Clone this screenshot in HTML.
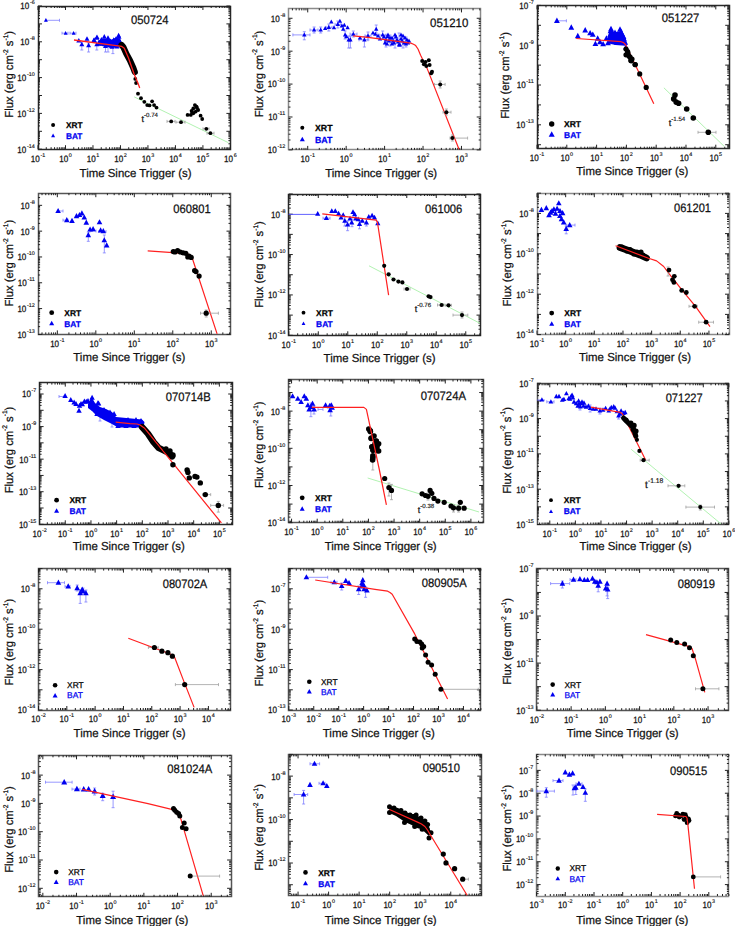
<!DOCTYPE html><html><head><meta charset="utf-8"><style>html,body{margin:0;padding:0;background:#fff}svg{display:block}text{font-family:"Liberation Sans",sans-serif;text-rendering:geometricPrecision}</style></head><body>
<svg width="735" height="926" viewBox="0 0 735 926">
<rect width="735" height="926" fill="#fff"/>
<rect x="38.5" y="6.5" width="192" height="143" fill="none" stroke="#2a2a2a" stroke-width="1.5"/>
<path d="M38 149.2v-4 M38 6v4 M46.27 149.2v-2 M46.27 6v2 M51.11 149.2v-2 M51.11 6v2 M54.55 149.2v-2 M54.55 6v2 M57.21 149.2v-2 M57.21 6v2 M59.39 149.2v-2 M59.39 6v2 M61.23 149.2v-2 M61.23 6v2 M62.82 149.2v-2 M62.82 6v2 M64.23 149.2v-2 M64.23 6v2 M65.49 149.2v-4 M65.49 6v4 M73.76 149.2v-2 M73.76 6v2 M78.6 149.2v-2 M78.6 6v2 M82.03 149.2v-2 M82.03 6v2 M84.7 149.2v-2 M84.7 6v2 M86.87 149.2v-2 M86.87 6v2 M88.71 149.2v-2 M88.71 6v2 M90.31 149.2v-2 M90.31 6v2 M91.71 149.2v-2 M91.71 6v2 M92.97 149.2v-4 M92.97 6v4 M101.25 149.2v-2 M101.25 6v2 M106.09 149.2v-2 M106.09 6v2 M109.52 149.2v-2 M109.52 6v2 M112.18 149.2v-2 M112.18 6v2 M114.36 149.2v-2 M114.36 6v2 M116.2 149.2v-2 M116.2 6v2 M117.79 149.2v-2 M117.79 6v2 M119.2 149.2v-2 M119.2 6v2 M120.46 149.2v-4 M120.46 6v4 M128.73 149.2v-2 M128.73 6v2 M133.57 149.2v-2 M133.57 6v2 M137.01 149.2v-2 M137.01 6v2 M139.67 149.2v-2 M139.67 6v2 M141.85 149.2v-2 M141.85 6v2 M143.69 149.2v-2 M143.69 6v2 M145.28 149.2v-2 M145.28 6v2 M146.69 149.2v-2 M146.69 6v2 M147.94 149.2v-4 M147.94 6v4 M156.22 149.2v-2 M156.22 6v2 M161.06 149.2v-2 M161.06 6v2 M164.49 149.2v-2 M164.49 6v2 M167.15 149.2v-2 M167.15 6v2 M169.33 149.2v-2 M169.33 6v2 M171.17 149.2v-2 M171.17 6v2 M172.76 149.2v-2 M172.76 6v2 M174.17 149.2v-2 M174.17 6v2 M175.43 149.2v-4 M175.43 6v4 M183.7 149.2v-2 M183.7 6v2 M188.54 149.2v-2 M188.54 6v2 M191.98 149.2v-2 M191.98 6v2 M194.64 149.2v-2 M194.64 6v2 M196.82 149.2v-2 M196.82 6v2 M198.66 149.2v-2 M198.66 6v2 M200.25 149.2v-2 M200.25 6v2 M201.66 149.2v-2 M201.66 6v2 M202.91 149.2v-4 M202.91 6v4 M211.19 149.2v-2 M211.19 6v2 M216.03 149.2v-2 M216.03 6v2 M219.46 149.2v-2 M219.46 6v2 M222.13 149.2v-2 M222.13 6v2 M224.3 149.2v-2 M224.3 6v2 M226.14 149.2v-2 M226.14 6v2 M227.74 149.2v-2 M227.74 6v2 M229.14 149.2v-2 M229.14 6v2 M230.4 149.2v-4 M230.4 6v4 M38 149.2h4 M230.4 149.2h-4 M38 143.81h2 M230.4 143.81h-2 M38 140.66h2 M230.4 140.66h-2 M38 138.42h2 M230.4 138.42h-2 M38 136.69h2 M230.4 136.69h-2 M38 135.27h2 M230.4 135.27h-2 M38 134.07h2 M230.4 134.07h-2 M38 133.03h2 M230.4 133.03h-2 M38 132.12h2 M230.4 132.12h-2 M38 131.3h4 M230.4 131.3h-4 M38 125.91h2 M230.4 125.91h-2 M38 122.76h2 M230.4 122.76h-2 M38 120.52h2 M230.4 120.52h-2 M38 118.79h2 M230.4 118.79h-2 M38 117.37h2 M230.4 117.37h-2 M38 116.17h2 M230.4 116.17h-2 M38 115.13h2 M230.4 115.13h-2 M38 114.22h2 M230.4 114.22h-2 M38 113.4h4 M230.4 113.4h-4 M38 108.01h2 M230.4 108.01h-2 M38 104.86h2 M230.4 104.86h-2 M38 102.62h2 M230.4 102.62h-2 M38 100.89h2 M230.4 100.89h-2 M38 99.47h2 M230.4 99.47h-2 M38 98.27h2 M230.4 98.27h-2 M38 97.23h2 M230.4 97.23h-2 M38 96.32h2 M230.4 96.32h-2 M38 95.5h4 M230.4 95.5h-4 M38 90.11h2 M230.4 90.11h-2 M38 86.96h2 M230.4 86.96h-2 M38 84.72h2 M230.4 84.72h-2 M38 82.99h2 M230.4 82.99h-2 M38 81.57h2 M230.4 81.57h-2 M38 80.37h2 M230.4 80.37h-2 M38 79.33h2 M230.4 79.33h-2 M38 78.42h2 M230.4 78.42h-2 M38 77.6h4 M230.4 77.6h-4 M38 72.21h2 M230.4 72.21h-2 M38 69.06h2 M230.4 69.06h-2 M38 66.82h2 M230.4 66.82h-2 M38 65.09h2 M230.4 65.09h-2 M38 63.67h2 M230.4 63.67h-2 M38 62.47h2 M230.4 62.47h-2 M38 61.43h2 M230.4 61.43h-2 M38 60.52h2 M230.4 60.52h-2 M38 59.7h4 M230.4 59.7h-4 M38 54.31h2 M230.4 54.31h-2 M38 51.16h2 M230.4 51.16h-2 M38 48.92h2 M230.4 48.92h-2 M38 47.19h2 M230.4 47.19h-2 M38 45.77h2 M230.4 45.77h-2 M38 44.57h2 M230.4 44.57h-2 M38 43.53h2 M230.4 43.53h-2 M38 42.62h2 M230.4 42.62h-2 M38 41.8h4 M230.4 41.8h-4 M38 36.41h2 M230.4 36.41h-2 M38 33.26h2 M230.4 33.26h-2 M38 31.02h2 M230.4 31.02h-2 M38 29.29h2 M230.4 29.29h-2 M38 27.87h2 M230.4 27.87h-2 M38 26.67h2 M230.4 26.67h-2 M38 25.63h2 M230.4 25.63h-2 M38 24.72h2 M230.4 24.72h-2 M38 23.9h4 M230.4 23.9h-4 M38 18.51h2 M230.4 18.51h-2 M38 15.36h2 M230.4 15.36h-2 M38 13.12h2 M230.4 13.12h-2 M38 11.39h2 M230.4 11.39h-2 M38 9.97h2 M230.4 9.97h-2 M38 8.77h2 M230.4 8.77h-2 M38 7.73h2 M230.4 7.73h-2 M38 6.82h2 M230.4 6.82h-2 M38 6h4 M230.4 6h-4" stroke="#222" stroke-width="1" fill="none"/>
<text x="30.8" y="161.6" font-size="9.2" fill="#111" stroke="#111" stroke-width="0.25" textLength="9" lengthAdjust="spacingAndGlyphs">10</text>
<text x="40.4" y="156.6" font-size="5.4" fill="#111" stroke="#111" stroke-width="0.15">-1</text>
<text x="59.18" y="161.6" font-size="9.2" fill="#111" stroke="#111" stroke-width="0.25" textLength="9" lengthAdjust="spacingAndGlyphs">10</text>
<text x="68.78" y="156.6" font-size="5.4" fill="#111" stroke="#111" stroke-width="0.15">0</text>
<text x="86.67" y="161.6" font-size="9.2" fill="#111" stroke="#111" stroke-width="0.25" textLength="9" lengthAdjust="spacingAndGlyphs">10</text>
<text x="96.27" y="156.6" font-size="5.4" fill="#111" stroke="#111" stroke-width="0.15">1</text>
<text x="114.16" y="161.6" font-size="9.2" fill="#111" stroke="#111" stroke-width="0.25" textLength="9" lengthAdjust="spacingAndGlyphs">10</text>
<text x="123.76" y="156.6" font-size="5.4" fill="#111" stroke="#111" stroke-width="0.15">2</text>
<text x="141.64" y="161.6" font-size="9.2" fill="#111" stroke="#111" stroke-width="0.25" textLength="9" lengthAdjust="spacingAndGlyphs">10</text>
<text x="151.24" y="156.6" font-size="5.4" fill="#111" stroke="#111" stroke-width="0.15">3</text>
<text x="169.13" y="161.6" font-size="9.2" fill="#111" stroke="#111" stroke-width="0.25" textLength="9" lengthAdjust="spacingAndGlyphs">10</text>
<text x="178.73" y="156.6" font-size="5.4" fill="#111" stroke="#111" stroke-width="0.15">4</text>
<text x="196.61" y="161.6" font-size="9.2" fill="#111" stroke="#111" stroke-width="0.25" textLength="9" lengthAdjust="spacingAndGlyphs">10</text>
<text x="206.21" y="156.6" font-size="5.4" fill="#111" stroke="#111" stroke-width="0.15">5</text>
<text x="224.1" y="161.6" font-size="9.2" fill="#111" stroke="#111" stroke-width="0.25" textLength="9" lengthAdjust="spacingAndGlyphs">10</text>
<text x="233.7" y="156.6" font-size="5.4" fill="#111" stroke="#111" stroke-width="0.15">6</text>
<text x="17.29" y="152.6" font-size="9.2" fill="#111" stroke="#111" stroke-width="0.25" textLength="9" lengthAdjust="spacingAndGlyphs">10</text>
<text x="26.89" y="147.6" font-size="5.4" fill="#111" stroke="#111" stroke-width="0.15">-14</text>
<text x="17.29" y="116.8" font-size="9.2" fill="#111" stroke="#111" stroke-width="0.25" textLength="9" lengthAdjust="spacingAndGlyphs">10</text>
<text x="26.89" y="111.8" font-size="5.4" fill="#111" stroke="#111" stroke-width="0.15">-12</text>
<text x="17.29" y="81" font-size="9.2" fill="#111" stroke="#111" stroke-width="0.25" textLength="9" lengthAdjust="spacingAndGlyphs">10</text>
<text x="26.89" y="76" font-size="5.4" fill="#111" stroke="#111" stroke-width="0.15">-10</text>
<text x="20.3" y="45.2" font-size="9.2" fill="#111" stroke="#111" stroke-width="0.25" textLength="9" lengthAdjust="spacingAndGlyphs">10</text>
<text x="29.9" y="40.2" font-size="5.4" fill="#111" stroke="#111" stroke-width="0.15">-8</text>
<text x="20.3" y="9.4" font-size="9.2" fill="#111" stroke="#111" stroke-width="0.25" textLength="9" lengthAdjust="spacingAndGlyphs">10</text>
<text x="29.9" y="4.4" font-size="5.4" fill="#111" stroke="#111" stroke-width="0.15">-6</text>
<text x="79.6" y="176.9" font-size="11.6" fill="#111" stroke="#111" stroke-width="0.25" textLength="112" lengthAdjust="spacingAndGlyphs">Time Since Trigger (s)</text>
<g transform="translate(13.3 74.3) rotate(-90) scale(0.97 1)">
<text x="0" y="0" font-size="11.6" text-anchor="middle" fill="#111" stroke="#111" stroke-width="0.25">Flux (erg cm<tspan font-size="6.8" dy="-5.2">-2</tspan><tspan dy="5.2"> s</tspan><tspan font-size="6.8" dy="-5.2">-1</tspan><tspan dy="5.2">)</tspan></text>
</g>
<text x="131" y="24.4" font-size="12.2" fill="#111" stroke="#111" stroke-width="0.25" textLength="37.6" lengthAdjust="spacingAndGlyphs">050724</text>
<polyline points="134.2,96.9 228.4,142.7" fill="none" stroke="#a8f0a8" stroke-width="0.9" stroke-linejoin="round"/>
<path d="M45.9 20.3H59.5 M45.9 18.8v3 M59.5 18.8v3" stroke="#7f7fff" stroke-width="0.8" fill="none"/>
<path d="M45.9 18.09L43.9 21.77L47.9 21.77Z" fill="#0000f0"/>
<path d="M62 33.2H68 M62 31.7v3 M68 31.7v3" stroke="#7f7fff" stroke-width="0.8" fill="none"/>
<path d="M65.6 30.99L63.6 34.67L67.6 34.67Z" fill="#0000f0"/>
<path d="M70 33.2H76 M70 31.7v3 M76 31.7v3" stroke="#7f7fff" stroke-width="0.8" fill="none"/>
<path d="M73.6 30.99L71.6 34.67L75.6 34.67Z" fill="#0000f0"/>
<path d="M81.8 42V50 M80.3 42h3 M80.3 50h3" stroke="#7f7fff" stroke-width="0.8" fill="none"/>
<path d="M88.6 43V52 M87.1 43h3 M87.1 52h3" stroke="#7f7fff" stroke-width="0.8" fill="none"/>
<path d="M96.8 42V50 M95.3 42h3 M95.3 50h3" stroke="#7f7fff" stroke-width="0.8" fill="none"/>
<path d="M105.5 43V52 M104 43h3 M104 52h3" stroke="#7f7fff" stroke-width="0.8" fill="none"/>
<path d="M112.9 43V53.6 M111.4 43h3 M111.4 53.6h3" stroke="#7f7fff" stroke-width="0.8" fill="none"/>
<path d="M108 43V52 M106.5 43h3 M106.5 52h3" stroke="#7f7fff" stroke-width="0.8" fill="none"/>
<path d="M78.8 37.94L76.3 42.54L81.3 42.54Z" fill="#0000f0"/>
<path d="M81.8 41.74L79.3 46.34L84.3 46.34Z" fill="#0000f0"/>
<path d="M87 36.14L84.5 40.74L89.5 40.74Z" fill="#0000f0"/>
<path d="M88.6 42.74L86.1 47.34L91.1 47.34Z" fill="#0000f0"/>
<path d="M93.8 37.94L91.3 42.54L96.3 42.54Z" fill="#0000f0"/>
<path d="M96.8 35.24L94.3 39.84L99.3 39.84Z" fill="#0000f0"/>
<path d="M96.8 41.64L94.3 46.24L99.3 46.24Z" fill="#0000f0"/>
<path d="M94.1 37.34L91.6 41.94L96.6 41.94Z" fill="#0000f0"/>
<path d="M97 34.44L94.5 39.04L99.5 39.04Z" fill="#0000f0"/>
<path d="M101.4 36.94L98.9 41.54L103.9 41.54Z" fill="#0000f0"/>
<path d="M104.3 34.04L101.8 38.64L106.8 38.64Z" fill="#0000f0"/>
<path d="M107.1 38.14L104.6 42.74L109.6 42.74Z" fill="#0000f0"/>
<path d="M113.7 37.34L111.2 41.94L116.2 41.94Z" fill="#0000f0"/>
<path d="M118.6 32.84L116.1 37.44L121.1 37.44Z" fill="#0000f0"/>
<path d="M119.4 37.74L116.9 42.34L121.9 42.34Z" fill="#0000f0"/>
<path d="M105.5 43.44L103 48.04L108 48.04Z" fill="#0000f0"/>
<path d="M112 44.24L109.5 48.84L114.5 48.84Z" fill="#0000f0"/>
<path d="M117 43.84L114.5 48.44L119.5 48.44Z" fill="#0000f0"/>
<path d="M109.6 41.04L107.1 45.64L112.1 45.64Z" fill="#0000f0"/>
<path d="M120.2 41.04L117.7 45.64L122.7 45.64Z" fill="#0000f0"/>
<path d="M101 39.24L98.5 43.84L103.5 43.84Z" fill="#0000f0"/>
<path d="M115 40.24L112.5 44.84L117.5 44.84Z" fill="#0000f0"/>
<path d="M110 38.24L107.5 42.84L112.5 42.84Z" fill="#0000f0"/>
<path d="M106 41.24L103.5 45.84L108.5 45.84Z" fill="#0000f0"/>
<path d="M103 38.24L100.5 42.84L105.5 42.84Z" fill="#0000f0"/>
<path d="M108 35.24L105.5 39.84L110.5 39.84Z" fill="#0000f0"/>
<path d="M112 40.24L109.5 44.84L114.5 44.84Z" fill="#0000f0"/>
<path d="M116 36.24L113.5 40.84L118.5 40.84Z" fill="#0000f0"/>
<path d="M99 41.24L96.5 45.84L101.5 45.84Z" fill="#0000f0"/>
<path d="M111 43.24L108.5 47.84L113.5 47.84Z" fill="#0000f0"/>
<path d="M115 43.24L112.5 47.84L117.5 47.84Z" fill="#0000f0"/>
<path d="M119 34.24L116.5 38.84L121.5 38.84Z" fill="#0000f0"/>
<polygon points="98,40.5 104,38.5 112,39.5 117,37 121,40 121,46.5 112,47.5 104,46.5 98,45" fill="#0000f0"/>
<polyline points="121.5,45 123.2,46.8 126.2,53.6 130,60.4 133,67.2 134.8,72" fill="none" stroke="#000" stroke-width="6.2" stroke-linejoin="round" stroke-linecap="round"/>
<circle cx="135.3" cy="78.9" r="1.9" fill="#000"/>
<circle cx="136.1" cy="83" r="1.9" fill="#000"/>
<polyline points="74,40 121.8,46.4 124.3,48.3 128.4,57.7 134.1,74 138.2,83.8 139.7,88" fill="none" stroke="#ff2020" stroke-width="1.3" stroke-linejoin="round"/>
<circle cx="138" cy="93.7" r="1.9" fill="#000"/>
<circle cx="141" cy="98.2" r="1.9" fill="#000"/>
<circle cx="144.3" cy="101.8" r="1.9" fill="#000"/>
<circle cx="147.2" cy="105.1" r="1.9" fill="#000"/>
<circle cx="149.5" cy="105.4" r="1.9" fill="#000"/>
<circle cx="152.1" cy="101.3" r="1.9" fill="#000"/>
<circle cx="154.1" cy="105.1" r="1.9" fill="#000"/>
<circle cx="156.5" cy="107.6" r="1.9" fill="#000"/>
<path d="M167 121.4H175 M167 119.9v3 M175 119.9v3" stroke="#a0a0a0" stroke-width="0.8" fill="none"/>
<circle cx="171.2" cy="121.4" r="1.9" fill="#000"/>
<path d="M176 122.2H185 M176 120.7v3 M185 120.7v3" stroke="#a0a0a0" stroke-width="0.8" fill="none"/>
<circle cx="181" cy="122.2" r="1.9" fill="#000"/>
<circle cx="187.6" cy="114.9" r="1.9" fill="#000"/>
<circle cx="190.8" cy="114.9" r="1.9" fill="#000"/>
<circle cx="191.6" cy="110.8" r="1.9" fill="#000"/>
<circle cx="193.3" cy="108.4" r="1.9" fill="#000"/>
<circle cx="194.9" cy="105.1" r="1.9" fill="#000"/>
<circle cx="196.5" cy="106.7" r="1.9" fill="#000"/>
<circle cx="198.2" cy="110" r="1.9" fill="#000"/>
<circle cx="195.7" cy="111.6" r="1.9" fill="#000"/>
<circle cx="193.3" cy="113.3" r="1.9" fill="#000"/>
<circle cx="200.6" cy="115.7" r="1.9" fill="#000"/>
<circle cx="202.2" cy="119" r="1.9" fill="#000"/>
<circle cx="197" cy="108" r="1.9" fill="#000"/>
<circle cx="192" cy="112" r="1.9" fill="#000"/>
<path d="M203 128.8H209 M203 127.3v3 M209 127.3v3" stroke="#a0a0a0" stroke-width="0.8" fill="none"/>
<circle cx="206.3" cy="128.8" r="1.9" fill="#000"/>
<path d="M207 133.2H214 M207 131.7v3 M214 131.7v3" stroke="#a0a0a0" stroke-width="0.8" fill="none"/>
<circle cx="210.4" cy="133.2" r="1.9" fill="#000"/>
<text x="141.5" y="121.5" font-size="9" fill="#111" stroke="#111" stroke-width="0.25">t</text>
<text x="144" y="116.55" font-size="6.12" fill="#111" stroke="#111" stroke-width="0.15">-0.74</text>
<circle cx="53.1" cy="124.9" r="2" fill="#000"/>
<path d="M53.1 133.54L51.1 137.14L55.1 137.14Z" fill="#0000f0"/>
<text x="66" y="127.8" font-size="8.3" font-weight="bold" fill="#000" stroke="#000" stroke-width="0.25">XRT</text>
<text x="66" y="139" font-size="8.3" font-weight="bold" fill="#0000f0" stroke="#0000f0" stroke-width="0.25">BAT</text>
<rect x="288.5" y="8.5" width="192" height="141" fill="none" stroke="#8a8a8a" stroke-width="1.5"/>
<path d="M292.42 149.9v-2 M292.42 8.4v2 M296.15 149.9v-2 M296.15 8.4v2 M299.19 149.9v-2 M299.19 8.4v2 M301.77 149.9v-2 M301.77 8.4v2 M303.99 149.9v-2 M303.99 8.4v2 M305.96 149.9v-2 M305.96 8.4v2 M307.72 149.9v-4 M307.72 8.4v4 M319.29 149.9v-2 M319.29 8.4v2 M326.06 149.9v-2 M326.06 8.4v2 M330.86 149.9v-2 M330.86 8.4v2 M334.59 149.9v-2 M334.59 8.4v2 M337.63 149.9v-2 M337.63 8.4v2 M340.21 149.9v-2 M340.21 8.4v2 M342.43 149.9v-2 M342.43 8.4v2 M344.4 149.9v-2 M344.4 8.4v2 M346.16 149.9v-4 M346.16 8.4v4 M357.73 149.9v-2 M357.73 8.4v2 M364.5 149.9v-2 M364.5 8.4v2 M369.3 149.9v-2 M369.3 8.4v2 M373.03 149.9v-2 M373.03 8.4v2 M376.07 149.9v-2 M376.07 8.4v2 M378.65 149.9v-2 M378.65 8.4v2 M380.87 149.9v-2 M380.87 8.4v2 M382.84 149.9v-2 M382.84 8.4v2 M384.6 149.9v-4 M384.6 8.4v4 M396.17 149.9v-2 M396.17 8.4v2 M402.94 149.9v-2 M402.94 8.4v2 M407.74 149.9v-2 M407.74 8.4v2 M411.47 149.9v-2 M411.47 8.4v2 M414.51 149.9v-2 M414.51 8.4v2 M417.09 149.9v-2 M417.09 8.4v2 M419.31 149.9v-2 M419.31 8.4v2 M421.28 149.9v-2 M421.28 8.4v2 M423.04 149.9v-4 M423.04 8.4v4 M434.61 149.9v-2 M434.61 8.4v2 M441.38 149.9v-2 M441.38 8.4v2 M446.18 149.9v-2 M446.18 8.4v2 M449.91 149.9v-2 M449.91 8.4v2 M452.95 149.9v-2 M452.95 8.4v2 M455.53 149.9v-2 M455.53 8.4v2 M457.75 149.9v-2 M457.75 8.4v2 M459.72 149.9v-2 M459.72 8.4v2 M461.48 149.9v-4 M461.48 8.4v4 M473.05 149.9v-2 M473.05 8.4v2 M479.82 149.9v-2 M479.82 8.4v2 M288.5 149.9h4 M480.7 149.9h-4 M288.5 139.99h2 M480.7 139.99h-2 M288.5 134.2h2 M480.7 134.2h-2 M288.5 130.09h2 M480.7 130.09h-2 M288.5 126.9h2 M480.7 126.9h-2 M288.5 124.29h2 M480.7 124.29h-2 M288.5 122.09h2 M480.7 122.09h-2 M288.5 120.18h2 M480.7 120.18h-2 M288.5 118.5h2 M480.7 118.5h-2 M288.5 116.99h4 M480.7 116.99h-4 M288.5 107.09h2 M480.7 107.09h-2 M288.5 101.29h2 M480.7 101.29h-2 M288.5 97.18h2 M480.7 97.18h-2 M288.5 93.99h2 M480.7 93.99h-2 M288.5 91.39h2 M480.7 91.39h-2 M288.5 89.18h2 M480.7 89.18h-2 M288.5 87.28h2 M480.7 87.28h-2 M288.5 85.59h2 M480.7 85.59h-2 M288.5 84.09h4 M480.7 84.09h-4 M288.5 74.18h2 M480.7 74.18h-2 M288.5 68.39h2 M480.7 68.39h-2 M288.5 64.27h2 M480.7 64.27h-2 M288.5 61.09h2 M480.7 61.09h-2 M288.5 58.48h2 M480.7 58.48h-2 M288.5 56.28h2 M480.7 56.28h-2 M288.5 54.37h2 M480.7 54.37h-2 M288.5 52.68h2 M480.7 52.68h-2 M288.5 51.18h4 M480.7 51.18h-4 M288.5 41.27h2 M480.7 41.27h-2 M288.5 35.48h2 M480.7 35.48h-2 M288.5 31.37h2 M480.7 31.37h-2 M288.5 28.18h2 M480.7 28.18h-2 M288.5 25.57h2 M480.7 25.57h-2 M288.5 23.37h2 M480.7 23.37h-2 M288.5 21.46h2 M480.7 21.46h-2 M288.5 19.78h2 M480.7 19.78h-2 M288.5 18.27h4 M480.7 18.27h-4" stroke="#222" stroke-width="1" fill="none"/>
<text x="300.52" y="162.3" font-size="9.2" fill="#111" stroke="#111" stroke-width="0.25" textLength="9" lengthAdjust="spacingAndGlyphs">10</text>
<text x="310.12" y="157.3" font-size="5.4" fill="#111" stroke="#111" stroke-width="0.15">-1</text>
<text x="339.86" y="162.3" font-size="9.2" fill="#111" stroke="#111" stroke-width="0.25" textLength="9" lengthAdjust="spacingAndGlyphs">10</text>
<text x="349.46" y="157.3" font-size="5.4" fill="#111" stroke="#111" stroke-width="0.15">0</text>
<text x="378.3" y="162.3" font-size="9.2" fill="#111" stroke="#111" stroke-width="0.25" textLength="9" lengthAdjust="spacingAndGlyphs">10</text>
<text x="387.9" y="157.3" font-size="5.4" fill="#111" stroke="#111" stroke-width="0.15">1</text>
<text x="416.74" y="162.3" font-size="9.2" fill="#111" stroke="#111" stroke-width="0.25" textLength="9" lengthAdjust="spacingAndGlyphs">10</text>
<text x="426.34" y="157.3" font-size="5.4" fill="#111" stroke="#111" stroke-width="0.15">2</text>
<text x="455.18" y="162.3" font-size="9.2" fill="#111" stroke="#111" stroke-width="0.25" textLength="9" lengthAdjust="spacingAndGlyphs">10</text>
<text x="464.78" y="157.3" font-size="5.4" fill="#111" stroke="#111" stroke-width="0.15">3</text>
<text x="267.79" y="153.3" font-size="9.2" fill="#111" stroke="#111" stroke-width="0.25" textLength="9" lengthAdjust="spacingAndGlyphs">10</text>
<text x="277.39" y="148.3" font-size="5.4" fill="#111" stroke="#111" stroke-width="0.15">-12</text>
<text x="268.2" y="120.39" font-size="9.2" fill="#111" stroke="#111" stroke-width="0.25" textLength="9" lengthAdjust="spacingAndGlyphs">10</text>
<text x="277.8" y="115.39" font-size="5.4" fill="#111" stroke="#111" stroke-width="0.15">-11</text>
<text x="267.79" y="87.49" font-size="9.2" fill="#111" stroke="#111" stroke-width="0.25" textLength="9" lengthAdjust="spacingAndGlyphs">10</text>
<text x="277.39" y="82.49" font-size="5.4" fill="#111" stroke="#111" stroke-width="0.15">-10</text>
<text x="270.8" y="54.58" font-size="9.2" fill="#111" stroke="#111" stroke-width="0.25" textLength="9" lengthAdjust="spacingAndGlyphs">10</text>
<text x="280.4" y="49.58" font-size="5.4" fill="#111" stroke="#111" stroke-width="0.15">-9</text>
<text x="270.8" y="21.67" font-size="9.2" fill="#111" stroke="#111" stroke-width="0.25" textLength="9" lengthAdjust="spacingAndGlyphs">10</text>
<text x="280.4" y="16.67" font-size="5.4" fill="#111" stroke="#111" stroke-width="0.15">-8</text>
<text x="325.2" y="176.9" font-size="11.6" fill="#111" stroke="#111" stroke-width="0.25" textLength="112" lengthAdjust="spacingAndGlyphs">Time Since Trigger (s)</text>
<g transform="translate(262.6 74) rotate(-90) scale(0.97 1)">
<text x="0" y="0" font-size="11.6" text-anchor="middle" fill="#111" stroke="#111" stroke-width="0.25">Flux (erg cm<tspan font-size="6.8" dy="-5.2">-2</tspan><tspan dy="5.2"> s</tspan><tspan font-size="6.8" dy="-5.2">-1</tspan><tspan dy="5.2">)</tspan></text>
</g>
<text x="430" y="26.6" font-size="12.2" fill="#111" stroke="#111" stroke-width="0.25" textLength="38.3" lengthAdjust="spacingAndGlyphs">051210</text>
<path d="M292.9 34.9H310 M292.9 33.4v3 M310 33.4v3 M304.3 31.7V39.8 M302.8 31.7h3 M302.8 39.8h3" stroke="#7f7fff" stroke-width="0.8" fill="none"/>
<path d="M310 30H318 M310 28.5v3 M318 28.5v3 M314.1 27V33 M312.6 27h3 M312.6 33h3" stroke="#7f7fff" stroke-width="0.8" fill="none"/>
<path d="M320.7 27V33 M319.2 27h3 M319.2 33h3" stroke="#7f7fff" stroke-width="0.8" fill="none"/>
<path d="M348.7 36V48 M347.2 36h3 M347.2 48h3" stroke="#7f7fff" stroke-width="0.8" fill="none"/>
<path d="M350.4 36V48 M348.9 36h3 M348.9 48h3" stroke="#7f7fff" stroke-width="0.8" fill="none"/>
<path d="M359 39.8H368 M359 38.3v3 M368 38.3v3 M364.4 36.6V47 M362.9 36.6h3 M362.9 47h3" stroke="#7f7fff" stroke-width="0.8" fill="none"/>
<path d="M350 34.1H357 M350 32.6v3 M357 32.6v3 M353.3 31V37 M351.8 31h3 M351.8 37h3" stroke="#7f7fff" stroke-width="0.8" fill="none"/>
<path d="M376.2 25V33 M374.7 25h3 M374.7 33h3" stroke="#7f7fff" stroke-width="0.8" fill="none"/>
<path d="M386 35V47 M384.5 35h3 M384.5 47h3" stroke="#7f7fff" stroke-width="0.8" fill="none"/>
<path d="M395 37V48 M393.5 37h3 M393.5 48h3" stroke="#7f7fff" stroke-width="0.8" fill="none"/>
<path d="M403 38V48 M401.5 38h3 M401.5 48h3" stroke="#7f7fff" stroke-width="0.8" fill="none"/>
<path d="M390 35V46 M388.5 35h3 M388.5 46h3" stroke="#7f7fff" stroke-width="0.8" fill="none"/>
<path d="M399 33V44 M397.5 33h3 M397.5 44h3" stroke="#7f7fff" stroke-width="0.8" fill="none"/>
<path d="M406 37V47 M404.5 37h3 M404.5 47h3" stroke="#7f7fff" stroke-width="0.8" fill="none"/>
<path d="M379 35H386 M379 33.5v3 M386 33.5v3 M382.7 31V39 M381.2 31h3 M381.2 39h3" stroke="#7f7fff" stroke-width="0.8" fill="none"/>
<path d="M365 35.8H371 M365 34.3v3 M371 34.3v3 M368 32V40 M366.5 32h3 M366.5 40h3" stroke="#7f7fff" stroke-width="0.8" fill="none"/>
<path d="M335 24.3H341 M335 22.8v3 M341 22.8v3 M337.8 21V28 M336.3 21h3 M336.3 28h3" stroke="#7f7fff" stroke-width="0.8" fill="none"/>
<path d="M326 27.3H332 M326 25.8v3 M332 25.8v3 M328.8 24V31 M327.3 24h3 M327.3 31h3" stroke="#7f7fff" stroke-width="0.8" fill="none"/>
<path d="M345.1 31V39 M343.6 31h3 M343.6 39h3" stroke="#7f7fff" stroke-width="0.8" fill="none"/>
<path d="M304.3 32.47L302.1 36.52L306.5 36.52Z" fill="#0000f0"/>
<path d="M314.1 27.57L311.9 31.62L316.3 31.62Z" fill="#0000f0"/>
<path d="M320.7 27.57L318.5 31.62L322.9 31.62Z" fill="#0000f0"/>
<path d="M325.2 25.97L323 30.02L327.4 30.02Z" fill="#0000f0"/>
<path d="M328.8 24.87L326.6 28.92L331 28.92Z" fill="#0000f0"/>
<path d="M331.3 19.47L329.1 23.52L333.5 23.52Z" fill="#0000f0"/>
<path d="M334 25.17L331.8 29.22L336.2 29.22Z" fill="#0000f0"/>
<path d="M337.8 21.87L335.6 25.92L340 25.92Z" fill="#0000f0"/>
<path d="M339.9 18.67L337.7 22.72L342.1 22.72Z" fill="#0000f0"/>
<path d="M341.9 23.57L339.7 27.62L344.1 27.62Z" fill="#0000f0"/>
<path d="M344.3 22.67L342.1 26.72L346.5 26.72Z" fill="#0000f0"/>
<path d="M343.2 26.77L341 30.82L345.4 30.82Z" fill="#0000f0"/>
<path d="M347.6 25.17L345.4 29.22L349.8 29.22Z" fill="#0000f0"/>
<path d="M345.1 32.47L342.9 36.52L347.3 36.52Z" fill="#0000f0"/>
<path d="M346.4 34.17L344.2 38.22L348.6 38.22Z" fill="#0000f0"/>
<path d="M348.7 37.37L346.5 41.42L350.9 41.42Z" fill="#0000f0"/>
<path d="M350.4 37.37L348.2 41.42L352.6 41.42Z" fill="#0000f0"/>
<path d="M353.3 31.67L351.1 35.72L355.5 35.72Z" fill="#0000f0"/>
<path d="M364.4 37.37L362.2 41.42L366.6 41.42Z" fill="#0000f0"/>
<path d="M368 33.37L365.8 37.42L370.2 37.42Z" fill="#0000f0"/>
<path d="M376.2 26.77L374 30.82L378.4 30.82Z" fill="#0000f0"/>
<path d="M375.3 31.67L373.1 35.72L377.5 35.72Z" fill="#0000f0"/>
<path d="M382.7 32.57L380.5 36.62L384.9 36.62Z" fill="#0000f0"/>
<path d="M386 37.37L383.8 41.42L388.2 41.42Z" fill="#0000f0"/>
<path d="M387.6 34.17L385.4 38.22L389.8 38.22Z" fill="#0000f0"/>
<path d="M390 35.57L387.8 39.62L392.2 39.62Z" fill="#0000f0"/>
<path d="M393 38.57L390.8 42.62L395.2 42.62Z" fill="#0000f0"/>
<path d="M396 34.57L393.8 38.62L398.2 38.62Z" fill="#0000f0"/>
<path d="M398 39.57L395.8 43.62L400.2 43.62Z" fill="#0000f0"/>
<path d="M401 36.57L398.8 40.62L403.2 40.62Z" fill="#0000f0"/>
<path d="M404 40.57L401.8 44.62L406.2 44.62Z" fill="#0000f0"/>
<path d="M407 37.57L404.8 41.62L409.2 41.62Z" fill="#0000f0"/>
<path d="M392 41.57L389.8 45.62L394.2 45.62Z" fill="#0000f0"/>
<path d="M400 42.57L397.8 46.62L402.2 46.62Z" fill="#0000f0"/>
<path d="M395 32.57L392.8 36.62L397.2 36.62Z" fill="#0000f0"/>
<path d="M403 33.57L400.8 37.62L405.2 37.62Z" fill="#0000f0"/>
<path d="M406 41.57L403.8 45.62L408.2 45.62Z" fill="#0000f0"/>
<path d="M409 38.57L406.8 42.62L411.2 42.62Z" fill="#0000f0"/>
<path d="M385 40.57L382.8 44.62L387.2 44.62Z" fill="#0000f0"/>
<path d="M389 38.57L386.8 42.62L391.2 42.62Z" fill="#0000f0"/>
<path d="M380 36.57L377.8 40.62L382.2 40.62Z" fill="#0000f0"/>
<path d="M384 34.57L381.8 38.62L386.2 38.62Z" fill="#0000f0"/>
<path d="M388 32.57L385.8 36.62L390.2 36.62Z" fill="#0000f0"/>
<path d="M392 35.57L389.8 39.62L394.2 39.62Z" fill="#0000f0"/>
<path d="M397 37.57L394.8 41.62L399.2 41.62Z" fill="#0000f0"/>
<path d="M402 38.57L399.8 42.62L404.2 42.62Z" fill="#0000f0"/>
<path d="M405 35.57L402.8 39.62L407.2 39.62Z" fill="#0000f0"/>
<path d="M408 40.57L405.8 44.62L410.2 44.62Z" fill="#0000f0"/>
<path d="M394 40.57L391.8 44.62L396.2 44.62Z" fill="#0000f0"/>
<path d="M399 42.57L396.8 46.62L401.2 46.62Z" fill="#0000f0"/>
<path d="M387 41.57L384.8 45.62L389.2 45.62Z" fill="#0000f0"/>
<path d="M401 32.57L398.8 36.62L403.2 36.62Z" fill="#0000f0"/>
<path d="M378 33.57L375.8 37.62L380.2 37.62Z" fill="#0000f0"/>
<path d="M373 30.57L370.8 34.62L375.2 34.62Z" fill="#0000f0"/>
<path d="M360 35.57L357.8 39.62L362.2 39.62Z" fill="#0000f0"/>
<polyline points="353.3,35.8 370,37.7 410.8,43.1 413.5,44.2 415.7,45.6 418,49 420.6,55.3 427.1,68.4 459,149.2" fill="none" stroke="#ff2020" stroke-width="1.2" stroke-linejoin="round"/>
<path d="M434.5 84.4H445.1 M434.5 82.9v3 M445.1 82.9v3 M440.2 81V88 M438.7 81h3 M438.7 88h3" stroke="#a0a0a0" stroke-width="0.8" fill="none"/>
<path d="M443 112.2H451 M443 110.7v3 M451 110.7v3 M446.4 109V115 M444.9 109h3 M444.9 115h3" stroke="#a0a0a0" stroke-width="0.8" fill="none"/>
<path d="M450 138.1H467.6 M450 136.6v3 M467.6 136.6v3 M452.4 135V141 M450.9 135h3 M450.9 141h3" stroke="#a0a0a0" stroke-width="0.8" fill="none"/>
<circle cx="422.2" cy="61.1" r="2" fill="#000"/>
<circle cx="423.9" cy="64.3" r="2" fill="#000"/>
<circle cx="426.3" cy="66" r="2" fill="#000"/>
<circle cx="428.8" cy="60.2" r="2" fill="#000"/>
<circle cx="429.6" cy="65.1" r="2" fill="#000"/>
<circle cx="425.5" cy="61.9" r="2" fill="#000"/>
<circle cx="431.2" cy="73.3" r="2" fill="#000"/>
<circle cx="432" cy="71.7" r="2" fill="#000"/>
<circle cx="440.2" cy="84.4" r="2" fill="#000"/>
<circle cx="446.4" cy="112.2" r="2" fill="#000"/>
<circle cx="452.4" cy="138.1" r="2" fill="#000"/>
<circle cx="302.3" cy="127.7" r="2" fill="#000"/>
<path d="M302.3 136.8L299.8 141.3L304.8 141.3Z" fill="#0000f0"/>
<text x="315" y="130.7" font-size="8.8" font-weight="bold" fill="#000" stroke="#000" stroke-width="0.25">XRT</text>
<text x="315" y="142.7" font-size="8.8" font-weight="bold" fill="#0000f0" stroke="#0000f0" stroke-width="0.25">BAT</text>
<rect x="537.5" y="5.5" width="192" height="143" fill="none" stroke="#2a2a2a" stroke-width="1.5"/>
<path d="M537 148.7v-4 M537 5.4v4 M545.97 148.7v-2 M545.97 5.4v2 M551.22 148.7v-2 M551.22 5.4v2 M554.94 148.7v-2 M554.94 5.4v2 M557.83 148.7v-2 M557.83 5.4v2 M560.19 148.7v-2 M560.19 5.4v2 M562.18 148.7v-2 M562.18 5.4v2 M563.91 148.7v-2 M563.91 5.4v2 M565.43 148.7v-2 M565.43 5.4v2 M566.8 148.7v-4 M566.8 5.4v4 M575.77 148.7v-2 M575.77 5.4v2 M581.02 148.7v-2 M581.02 5.4v2 M584.74 148.7v-2 M584.74 5.4v2 M587.63 148.7v-2 M587.63 5.4v2 M589.99 148.7v-2 M589.99 5.4v2 M591.98 148.7v-2 M591.98 5.4v2 M593.71 148.7v-2 M593.71 5.4v2 M595.23 148.7v-2 M595.23 5.4v2 M596.6 148.7v-4 M596.6 5.4v4 M605.57 148.7v-2 M605.57 5.4v2 M610.81 148.7v-2 M610.81 5.4v2 M614.54 148.7v-2 M614.54 5.4v2 M617.43 148.7v-2 M617.43 5.4v2 M619.78 148.7v-2 M619.78 5.4v2 M621.78 148.7v-2 M621.78 5.4v2 M623.51 148.7v-2 M623.51 5.4v2 M625.03 148.7v-2 M625.03 5.4v2 M626.4 148.7v-4 M626.4 5.4v4 M635.37 148.7v-2 M635.37 5.4v2 M640.61 148.7v-2 M640.61 5.4v2 M644.34 148.7v-2 M644.34 5.4v2 M647.22 148.7v-2 M647.22 5.4v2 M649.58 148.7v-2 M649.58 5.4v2 M651.58 148.7v-2 M651.58 5.4v2 M653.31 148.7v-2 M653.31 5.4v2 M654.83 148.7v-2 M654.83 5.4v2 M656.19 148.7v-4 M656.19 5.4v4 M665.16 148.7v-2 M665.16 5.4v2 M670.41 148.7v-2 M670.41 5.4v2 M674.13 148.7v-2 M674.13 5.4v2 M677.02 148.7v-2 M677.02 5.4v2 M679.38 148.7v-2 M679.38 5.4v2 M681.38 148.7v-2 M681.38 5.4v2 M683.1 148.7v-2 M683.1 5.4v2 M684.63 148.7v-2 M684.63 5.4v2 M685.99 148.7v-4 M685.99 5.4v4 M694.96 148.7v-2 M694.96 5.4v2 M700.21 148.7v-2 M700.21 5.4v2 M703.93 148.7v-2 M703.93 5.4v2 M706.82 148.7v-2 M706.82 5.4v2 M709.18 148.7v-2 M709.18 5.4v2 M711.17 148.7v-2 M711.17 5.4v2 M712.9 148.7v-2 M712.9 5.4v2 M714.43 148.7v-2 M714.43 5.4v2 M715.79 148.7v-4 M715.79 5.4v4 M724.76 148.7v-2 M724.76 5.4v2 M537 147.8h2 M729.2 147.8h-2 M537 146.65h2 M729.2 146.65h-2 M537 145.63h2 M729.2 145.63h-2 M537 144.72h4 M729.2 144.72h-4 M537 138.73h2 M729.2 138.73h-2 M537 135.22h2 M729.2 135.22h-2 M537 132.74h2 M729.2 132.74h-2 M537 130.81h2 M729.2 130.81h-2 M537 129.23h2 M729.2 129.23h-2 M537 127.9h2 M729.2 127.9h-2 M537 126.75h2 M729.2 126.75h-2 M537 125.73h2 M729.2 125.73h-2 M537 124.82h4 M729.2 124.82h-4 M537 118.83h2 M729.2 118.83h-2 M537 115.32h2 M729.2 115.32h-2 M537 112.83h2 M729.2 112.83h-2 M537 110.91h2 M729.2 110.91h-2 M537 109.33h2 M729.2 109.33h-2 M537 108h2 M729.2 108h-2 M537 106.84h2 M729.2 106.84h-2 M537 105.82h2 M729.2 105.82h-2 M537 104.91h4 M729.2 104.91h-4 M537 98.92h2 M729.2 98.92h-2 M537 95.42h2 M729.2 95.42h-2 M537 92.93h2 M729.2 92.93h-2 M537 91h2 M729.2 91h-2 M537 89.43h2 M729.2 89.43h-2 M537 88.09h2 M729.2 88.09h-2 M537 86.94h2 M729.2 86.94h-2 M537 85.92h2 M729.2 85.92h-2 M537 85.01h4 M729.2 85.01h-4 M537 79.02h2 M729.2 79.02h-2 M537 75.52h2 M729.2 75.52h-2 M537 73.03h2 M729.2 73.03h-2 M537 71.1h2 M729.2 71.1h-2 M537 69.52h2 M729.2 69.52h-2 M537 68.19h2 M729.2 68.19h-2 M537 67.04h2 M729.2 67.04h-2 M537 66.02h2 M729.2 66.02h-2 M537 65.11h4 M729.2 65.11h-4 M537 59.12h2 M729.2 59.12h-2 M537 55.61h2 M729.2 55.61h-2 M537 53.13h2 M729.2 53.13h-2 M537 51.2h2 M729.2 51.2h-2 M537 49.62h2 M729.2 49.62h-2 M537 48.29h2 M729.2 48.29h-2 M537 47.13h2 M729.2 47.13h-2 M537 46.12h2 M729.2 46.12h-2 M537 45.21h4 M729.2 45.21h-4 M537 39.21h2 M729.2 39.21h-2 M537 35.71h2 M729.2 35.71h-2 M537 33.22h2 M729.2 33.22h-2 M537 31.29h2 M729.2 31.29h-2 M537 29.72h2 M729.2 29.72h-2 M537 28.39h2 M729.2 28.39h-2 M537 27.23h2 M729.2 27.23h-2 M537 26.21h2 M729.2 26.21h-2 M537 25.3h4 M729.2 25.3h-4 M537 19.31h2 M729.2 19.31h-2 M537 15.81h2 M729.2 15.81h-2 M537 13.32h2 M729.2 13.32h-2 M537 11.39h2 M729.2 11.39h-2 M537 9.82h2 M729.2 9.82h-2 M537 8.48h2 M729.2 8.48h-2 M537 7.33h2 M729.2 7.33h-2 M537 6.31h2 M729.2 6.31h-2 M537 5.4h4 M729.2 5.4h-4" stroke="#222" stroke-width="1" fill="none"/>
<text x="529.8" y="161.1" font-size="9.2" fill="#111" stroke="#111" stroke-width="0.25" textLength="9" lengthAdjust="spacingAndGlyphs">10</text>
<text x="539.4" y="156.1" font-size="5.4" fill="#111" stroke="#111" stroke-width="0.15">-1</text>
<text x="560.5" y="161.1" font-size="9.2" fill="#111" stroke="#111" stroke-width="0.25" textLength="9" lengthAdjust="spacingAndGlyphs">10</text>
<text x="570.1" y="156.1" font-size="5.4" fill="#111" stroke="#111" stroke-width="0.15">0</text>
<text x="590.3" y="161.1" font-size="9.2" fill="#111" stroke="#111" stroke-width="0.25" textLength="9" lengthAdjust="spacingAndGlyphs">10</text>
<text x="599.9" y="156.1" font-size="5.4" fill="#111" stroke="#111" stroke-width="0.15">1</text>
<text x="620.09" y="161.1" font-size="9.2" fill="#111" stroke="#111" stroke-width="0.25" textLength="9" lengthAdjust="spacingAndGlyphs">10</text>
<text x="629.69" y="156.1" font-size="5.4" fill="#111" stroke="#111" stroke-width="0.15">2</text>
<text x="649.89" y="161.1" font-size="9.2" fill="#111" stroke="#111" stroke-width="0.25" textLength="9" lengthAdjust="spacingAndGlyphs">10</text>
<text x="659.49" y="156.1" font-size="5.4" fill="#111" stroke="#111" stroke-width="0.15">3</text>
<text x="679.69" y="161.1" font-size="9.2" fill="#111" stroke="#111" stroke-width="0.25" textLength="9" lengthAdjust="spacingAndGlyphs">10</text>
<text x="689.29" y="156.1" font-size="5.4" fill="#111" stroke="#111" stroke-width="0.15">4</text>
<text x="709.49" y="161.1" font-size="9.2" fill="#111" stroke="#111" stroke-width="0.25" textLength="9" lengthAdjust="spacingAndGlyphs">10</text>
<text x="719.09" y="156.1" font-size="5.4" fill="#111" stroke="#111" stroke-width="0.15">5</text>
<text x="516.29" y="128.22" font-size="9.2" fill="#111" stroke="#111" stroke-width="0.25" textLength="9" lengthAdjust="spacingAndGlyphs">10</text>
<text x="525.89" y="123.22" font-size="5.4" fill="#111" stroke="#111" stroke-width="0.15">-13</text>
<text x="516.7" y="88.41" font-size="9.2" fill="#111" stroke="#111" stroke-width="0.25" textLength="9" lengthAdjust="spacingAndGlyphs">10</text>
<text x="526.3" y="83.41" font-size="5.4" fill="#111" stroke="#111" stroke-width="0.15">-11</text>
<text x="519.3" y="48.61" font-size="9.2" fill="#111" stroke="#111" stroke-width="0.25" textLength="9" lengthAdjust="spacingAndGlyphs">10</text>
<text x="528.9" y="43.61" font-size="5.4" fill="#111" stroke="#111" stroke-width="0.15">-9</text>
<text x="519.3" y="8.8" font-size="9.2" fill="#111" stroke="#111" stroke-width="0.25" textLength="9" lengthAdjust="spacingAndGlyphs">10</text>
<text x="528.9" y="3.8" font-size="5.4" fill="#111" stroke="#111" stroke-width="0.15">-7</text>
<text x="576.3" y="174.7" font-size="11.6" fill="#111" stroke="#111" stroke-width="0.25" textLength="112" lengthAdjust="spacingAndGlyphs">Time Since Trigger (s)</text>
<g transform="translate(509 75.45) rotate(-90) scale(0.97 1)">
<text x="0" y="0" font-size="11.6" text-anchor="middle" fill="#111" stroke="#111" stroke-width="0.25">Flux (erg cm<tspan font-size="6.8" dy="-5.2">-2</tspan><tspan dy="5.2"> s</tspan><tspan font-size="6.8" dy="-5.2">-1</tspan><tspan dy="5.2">)</tspan></text>
</g>
<text x="661.7" y="21.7" font-size="12.2" fill="#111" stroke="#111" stroke-width="0.25" textLength="37.6" lengthAdjust="spacingAndGlyphs">051227</text>
<polyline points="663.9,87.8 724.3,146.5" fill="none" stroke="#a8f0a8" stroke-width="0.9" stroke-linejoin="round"/>
<path d="M556.9 20.8H566.4 M556.9 19.3v3 M566.4 19.3v3" stroke="#7f7fff" stroke-width="0.8" fill="none"/>
<polygon points="609,33 611.3,30.5 615.4,32 621.1,31.3 625.2,37 627,44.2 625.2,45.8 615.4,45 608.8,43.4 607.5,39.3" fill="#0000f0"/>
<path d="M556.9 17.6L554 22.93L559.8 22.93Z" fill="#0000f0"/>
<path d="M571.3 24.3L568.4 29.63L574.2 29.63Z" fill="#0000f0"/>
<path d="M577.8 32.8L574.9 38.13L580.7 38.13Z" fill="#0000f0"/>
<path d="M585.2 27.1L582.3 32.43L588.1 32.43Z" fill="#0000f0"/>
<path d="M590.1 29.9L587.2 35.23L593 35.23Z" fill="#0000f0"/>
<path d="M592.8 31.5L589.9 36.83L595.7 36.83Z" fill="#0000f0"/>
<path d="M597.7 35.3L594.8 40.63L600.6 40.63Z" fill="#0000f0"/>
<path d="M595.4 40.7L592.5 46.03L598.3 46.03Z" fill="#0000f0"/>
<path d="M603.1 41L600.2 46.33L606 46.33Z" fill="#0000f0"/>
<path d="M606.4 35.3L603.5 40.63L609.3 40.63Z" fill="#0000f0"/>
<path d="M610.5 27.9L607.6 33.23L613.4 33.23Z" fill="#0000f0"/>
<path d="M615 29.6L612.1 34.93L617.9 34.93Z" fill="#0000f0"/>
<path d="M621.1 28.8L618.2 34.13L624 34.13Z" fill="#0000f0"/>
<path d="M612.4 33.6L609.5 38.93L615.3 38.93Z" fill="#0000f0"/>
<path d="M618.6 34.5L615.7 39.83L621.5 39.83Z" fill="#0000f0"/>
<path d="M623.5 33.6L620.6 38.93L626.4 38.93Z" fill="#0000f0"/>
<path d="M617 39.4L614.1 44.73L619.9 44.73Z" fill="#0000f0"/>
<path d="M625.2 39.4L622.3 44.73L628.1 44.73Z" fill="#0000f0"/>
<path d="M626 44.2L623.1 49.53L628.9 49.53Z" fill="#0000f0"/>
<path d="M600 38.8L597.1 44.13L602.9 44.13Z" fill="#0000f0"/>
<path d="M608 39.8L605.1 45.13L610.9 45.13Z" fill="#0000f0"/>
<path d="M613 36.8L610.1 42.13L615.9 42.13Z" fill="#0000f0"/>
<path d="M620 37.8L617.1 43.13L622.9 43.13Z" fill="#0000f0"/>
<path d="M624 35.8L621.1 41.13L626.9 41.13Z" fill="#0000f0"/>
<path d="M610 31.8L607.1 37.13L612.9 37.13Z" fill="#0000f0"/>
<path d="M616 32.8L613.1 38.13L618.9 38.13Z" fill="#0000f0"/>
<path d="M622 30.8L619.1 36.13L624.9 36.13Z" fill="#0000f0"/>
<path d="M611 25.8L608.1 31.13L613.9 31.13Z" fill="#0000f0"/>
<path d="M620 26.3L617.1 31.63L622.9 31.63Z" fill="#0000f0"/>
<polyline points="576.2,38.5 621.1,41.7 623.5,42.6 625.2,44.2 627,47.5 653.8,103.8" fill="none" stroke="#ff2020" stroke-width="1.2" stroke-linejoin="round"/>
<circle cx="626" cy="49" r="2.6" fill="#000"/>
<circle cx="627.6" cy="51.5" r="2.6" fill="#000"/>
<circle cx="626" cy="54.8" r="2.6" fill="#000"/>
<circle cx="630.1" cy="57.2" r="2.6" fill="#000"/>
<circle cx="630.9" cy="60.5" r="2.6" fill="#000"/>
<circle cx="635" cy="64.6" r="2.6" fill="#000"/>
<circle cx="628" cy="53" r="2.6" fill="#000"/>
<circle cx="629" cy="56" r="2.6" fill="#000"/>
<circle cx="632" cy="59" r="2.6" fill="#000"/>
<circle cx="631.2" cy="60.8" r="2.6" fill="#000"/>
<circle cx="635.3" cy="64.6" r="2.6" fill="#000"/>
<circle cx="639.7" cy="73.9" r="2.6" fill="#000"/>
<circle cx="646.2" cy="87.4" r="2.6" fill="#000"/>
<path d="M698 132.3H716 M698 130.8v3 M716 130.8v3" stroke="#a0a0a0" stroke-width="0.8" fill="none"/>
<circle cx="675" cy="95.1" r="2.8" fill="#000"/>
<circle cx="673.7" cy="98.9" r="2.8" fill="#000"/>
<circle cx="676.1" cy="102.1" r="2.8" fill="#000"/>
<circle cx="678.6" cy="103.3" r="2.8" fill="#000"/>
<circle cx="686.7" cy="109" r="2.8" fill="#000"/>
<circle cx="693.3" cy="118" r="2.8" fill="#000"/>
<circle cx="708.3" cy="132.3" r="2.8" fill="#000"/>
<text x="668.8" y="126" font-size="9" fill="#111" stroke="#111" stroke-width="0.25">t</text>
<text x="671.3" y="121.05" font-size="6.12" fill="#111" stroke="#111" stroke-width="0.15">-1.54</text>
<circle cx="551.7" cy="124" r="2.7" fill="#000"/>
<path d="M551.7 131.26L548.7 136.66L554.7 136.66Z" fill="#0000f0"/>
<text x="564" y="127.3" font-size="8.5" font-weight="bold" fill="#000" stroke="#000" stroke-width="0.25">XRT</text>
<text x="564" y="138.3" font-size="8.5" font-weight="bold" fill="#0000f0" stroke="#0000f0" stroke-width="0.25">BAT</text>
<rect x="38.5" y="193.5" width="192" height="141" fill="none" stroke="#555" stroke-width="1.5"/>
<path d="M42.03 334.4v-2 M42.03 193.2v2 M45.76 334.4v-2 M45.76 193.2v2 M48.8 334.4v-2 M48.8 193.2v2 M51.38 334.4v-2 M51.38 193.2v2 M53.61 334.4v-2 M53.61 193.2v2 M55.58 334.4v-2 M55.58 193.2v2 M57.34 334.4v-4 M57.34 193.2v4 M68.92 334.4v-2 M68.92 193.2v2 M75.7 334.4v-2 M75.7 193.2v2 M80.51 334.4v-2 M80.51 193.2v2 M84.24 334.4v-2 M84.24 193.2v2 M87.28 334.4v-2 M87.28 193.2v2 M89.86 334.4v-2 M89.86 193.2v2 M92.09 334.4v-2 M92.09 193.2v2 M94.06 334.4v-2 M94.06 193.2v2 M95.82 334.4v-4 M95.82 193.2v4 M107.4 334.4v-2 M107.4 193.2v2 M114.18 334.4v-2 M114.18 193.2v2 M118.99 334.4v-2 M118.99 193.2v2 M122.72 334.4v-2 M122.72 193.2v2 M125.76 334.4v-2 M125.76 193.2v2 M128.34 334.4v-2 M128.34 193.2v2 M130.57 334.4v-2 M130.57 193.2v2 M132.54 334.4v-2 M132.54 193.2v2 M134.3 334.4v-4 M134.3 193.2v4 M145.88 334.4v-2 M145.88 193.2v2 M152.66 334.4v-2 M152.66 193.2v2 M157.47 334.4v-2 M157.47 193.2v2 M161.2 334.4v-2 M161.2 193.2v2 M164.24 334.4v-2 M164.24 193.2v2 M166.82 334.4v-2 M166.82 193.2v2 M169.05 334.4v-2 M169.05 193.2v2 M171.02 334.4v-2 M171.02 193.2v2 M172.78 334.4v-4 M172.78 193.2v4 M184.36 334.4v-2 M184.36 193.2v2 M191.14 334.4v-2 M191.14 193.2v2 M195.95 334.4v-2 M195.95 193.2v2 M199.68 334.4v-2 M199.68 193.2v2 M202.72 334.4v-2 M202.72 193.2v2 M205.3 334.4v-2 M205.3 193.2v2 M207.53 334.4v-2 M207.53 193.2v2 M209.5 334.4v-2 M209.5 193.2v2 M211.26 334.4v-4 M211.26 193.2v4 M222.84 334.4v-2 M222.84 193.2v2 M229.62 334.4v-2 M229.62 193.2v2 M38.1 334.4h4 M230.5 334.4h-4 M38.1 326.63h2 M230.5 326.63h-2 M38.1 322.08h2 M230.5 322.08h-2 M38.1 318.86h2 M230.5 318.86h-2 M38.1 316.36h2 M230.5 316.36h-2 M38.1 314.31h2 M230.5 314.31h-2 M38.1 312.59h2 M230.5 312.59h-2 M38.1 311.09h2 M230.5 311.09h-2 M38.1 309.77h2 M230.5 309.77h-2 M38.1 308.59h4 M230.5 308.59h-4 M38.1 300.82h2 M230.5 300.82h-2 M38.1 296.27h2 M230.5 296.27h-2 M38.1 293.05h2 M230.5 293.05h-2 M38.1 290.54h2 M230.5 290.54h-2 M38.1 288.5h2 M230.5 288.5h-2 M38.1 286.77h2 M230.5 286.77h-2 M38.1 285.27h2 M230.5 285.27h-2 M38.1 283.95h2 M230.5 283.95h-2 M38.1 282.77h4 M230.5 282.77h-4 M38.1 275h2 M230.5 275h-2 M38.1 270.46h2 M230.5 270.46h-2 M38.1 267.23h2 M230.5 267.23h-2 M38.1 264.73h2 M230.5 264.73h-2 M38.1 262.69h2 M230.5 262.69h-2 M38.1 260.96h2 M230.5 260.96h-2 M38.1 259.46h2 M230.5 259.46h-2 M38.1 258.14h2 M230.5 258.14h-2 M38.1 256.96h4 M230.5 256.96h-4 M38.1 249.19h2 M230.5 249.19h-2 M38.1 244.64h2 M230.5 244.64h-2 M38.1 241.42h2 M230.5 241.42h-2 M38.1 238.92h2 M230.5 238.92h-2 M38.1 236.87h2 M230.5 236.87h-2 M38.1 235.14h2 M230.5 235.14h-2 M38.1 233.65h2 M230.5 233.65h-2 M38.1 232.33h2 M230.5 232.33h-2 M38.1 231.15h4 M230.5 231.15h-4 M38.1 223.38h2 M230.5 223.38h-2 M38.1 218.83h2 M230.5 218.83h-2 M38.1 215.6h2 M230.5 215.6h-2 M38.1 213.1h2 M230.5 213.1h-2 M38.1 211.06h2 M230.5 211.06h-2 M38.1 209.33h2 M230.5 209.33h-2 M38.1 207.83h2 M230.5 207.83h-2 M38.1 206.51h2 M230.5 206.51h-2 M38.1 205.33h4 M230.5 205.33h-4 M38.1 197.56h2 M230.5 197.56h-2" stroke="#222" stroke-width="1" fill="none"/>
<text x="50.14" y="346.8" font-size="9.2" fill="#111" stroke="#111" stroke-width="0.25" textLength="9" lengthAdjust="spacingAndGlyphs">10</text>
<text x="59.74" y="341.8" font-size="5.4" fill="#111" stroke="#111" stroke-width="0.15">-1</text>
<text x="89.52" y="346.8" font-size="9.2" fill="#111" stroke="#111" stroke-width="0.25" textLength="9" lengthAdjust="spacingAndGlyphs">10</text>
<text x="99.12" y="341.8" font-size="5.4" fill="#111" stroke="#111" stroke-width="0.15">0</text>
<text x="128" y="346.8" font-size="9.2" fill="#111" stroke="#111" stroke-width="0.25" textLength="9" lengthAdjust="spacingAndGlyphs">10</text>
<text x="137.6" y="341.8" font-size="5.4" fill="#111" stroke="#111" stroke-width="0.15">1</text>
<text x="166.48" y="346.8" font-size="9.2" fill="#111" stroke="#111" stroke-width="0.25" textLength="9" lengthAdjust="spacingAndGlyphs">10</text>
<text x="176.08" y="341.8" font-size="5.4" fill="#111" stroke="#111" stroke-width="0.15">2</text>
<text x="204.96" y="346.8" font-size="9.2" fill="#111" stroke="#111" stroke-width="0.25" textLength="9" lengthAdjust="spacingAndGlyphs">10</text>
<text x="214.56" y="341.8" font-size="5.4" fill="#111" stroke="#111" stroke-width="0.15">3</text>
<text x="17.39" y="337.8" font-size="9.2" fill="#111" stroke="#111" stroke-width="0.25" textLength="9" lengthAdjust="spacingAndGlyphs">10</text>
<text x="26.99" y="332.8" font-size="5.4" fill="#111" stroke="#111" stroke-width="0.15">-13</text>
<text x="17.39" y="311.99" font-size="9.2" fill="#111" stroke="#111" stroke-width="0.25" textLength="9" lengthAdjust="spacingAndGlyphs">10</text>
<text x="26.99" y="306.99" font-size="5.4" fill="#111" stroke="#111" stroke-width="0.15">-12</text>
<text x="17.8" y="286.17" font-size="9.2" fill="#111" stroke="#111" stroke-width="0.25" textLength="9" lengthAdjust="spacingAndGlyphs">10</text>
<text x="27.4" y="281.17" font-size="5.4" fill="#111" stroke="#111" stroke-width="0.15">-11</text>
<text x="17.39" y="260.36" font-size="9.2" fill="#111" stroke="#111" stroke-width="0.25" textLength="9" lengthAdjust="spacingAndGlyphs">10</text>
<text x="26.99" y="255.36" font-size="5.4" fill="#111" stroke="#111" stroke-width="0.15">-10</text>
<text x="20.4" y="234.55" font-size="9.2" fill="#111" stroke="#111" stroke-width="0.25" textLength="9" lengthAdjust="spacingAndGlyphs">10</text>
<text x="30" y="229.55" font-size="5.4" fill="#111" stroke="#111" stroke-width="0.15">-9</text>
<text x="20.4" y="208.73" font-size="9.2" fill="#111" stroke="#111" stroke-width="0.25" textLength="9" lengthAdjust="spacingAndGlyphs">10</text>
<text x="30" y="203.73" font-size="5.4" fill="#111" stroke="#111" stroke-width="0.15">-8</text>
<text x="73.3" y="361.3" font-size="11.6" fill="#111" stroke="#111" stroke-width="0.25" textLength="112" lengthAdjust="spacingAndGlyphs">Time Since Trigger (s)</text>
<g transform="translate(13.3 263.2) rotate(-90) scale(0.97 1)">
<text x="0" y="0" font-size="11.6" text-anchor="middle" fill="#111" stroke="#111" stroke-width="0.25">Flux (erg cm<tspan font-size="6.8" dy="-5.2">-2</tspan><tspan dy="5.2"> s</tspan><tspan font-size="6.8" dy="-5.2">-1</tspan><tspan dy="5.2">)</tspan></text>
</g>
<text x="173.3" y="212.7" font-size="12.2" fill="#111" stroke="#111" stroke-width="0.25" textLength="37.4" lengthAdjust="spacingAndGlyphs">060801</text>
<path d="M58.1 211H63 M58.1 209.5v3 M63 209.5v3" stroke="#7f7fff" stroke-width="0.8" fill="none"/>
<path d="M63 220.2H68 M63 218.7v3 M68 218.7v3" stroke="#7f7fff" stroke-width="0.8" fill="none"/>
<path d="M88.3 232V241.3 M86.8 232h3 M86.8 241.3h3" stroke="#7f7fff" stroke-width="0.8" fill="none"/>
<path d="M104.3 235V252.9 M102.8 235h3 M102.8 252.9h3" stroke="#7f7fff" stroke-width="0.8" fill="none"/>
<path d="M99 231.5H106 M99 230v3 M106 230v3" stroke="#7f7fff" stroke-width="0.8" fill="none"/>
<path d="M90 231H96 M90 229.5v3 M96 229.5v3" stroke="#7f7fff" stroke-width="0.8" fill="none"/>
<path d="M58.1 207.91L55.3 213.06L60.9 213.06Z" fill="#0000f0"/>
<path d="M66.8 217.11L64 222.26L69.6 222.26Z" fill="#0000f0"/>
<path d="M72 217.81L69.2 222.96L74.8 222.96Z" fill="#0000f0"/>
<path d="M76.5 213.01L73.7 218.16L79.3 218.16Z" fill="#0000f0"/>
<path d="M79.5 211.91L76.7 217.06L82.3 217.06Z" fill="#0000f0"/>
<path d="M81.9 210.31L79.1 215.46L84.7 215.46Z" fill="#0000f0"/>
<path d="M84.3 214.41L81.5 219.56L87.1 219.56Z" fill="#0000f0"/>
<path d="M86.3 219.61L83.5 224.76L89.1 224.76Z" fill="#0000f0"/>
<path d="M90.1 226.41L87.3 231.56L92.9 231.56Z" fill="#0000f0"/>
<path d="M93.1 226.01L90.3 231.16L95.9 231.16Z" fill="#0000f0"/>
<path d="M88.3 232.11L85.5 237.26L91.1 237.26Z" fill="#0000f0"/>
<path d="M99.5 219.21L96.7 224.36L102.3 224.36Z" fill="#0000f0"/>
<path d="M100.6 227.31L97.8 232.46L103.4 232.46Z" fill="#0000f0"/>
<path d="M103.3 228.01L100.5 233.16L106.1 233.16Z" fill="#0000f0"/>
<path d="M104.3 237.21L101.5 242.36L107.1 242.36Z" fill="#0000f0"/>
<path d="M106.7 242.31L103.9 247.46L109.5 247.46Z" fill="#0000f0"/>
<polyline points="147.7,250.9 187.1,253.6 189.5,255 191.9,257 217.1,333.9" fill="none" stroke="#ff2020" stroke-width="1.2" stroke-linejoin="round"/>
<path d="M200.5 313.2H218.4 M200.5 311.7v3 M218.4 311.7v3 M206.2 310V317 M204.7 310h3 M204.7 317h3" stroke="#a0a0a0" stroke-width="0.8" fill="none"/>
<circle cx="173.3" cy="251.6" r="2.6" fill="#000"/>
<circle cx="177.6" cy="250.6" r="2.6" fill="#000"/>
<circle cx="180.3" cy="252" r="2.6" fill="#000"/>
<circle cx="183.1" cy="252.9" r="2.6" fill="#000"/>
<circle cx="185.8" cy="253.3" r="2.6" fill="#000"/>
<circle cx="187.8" cy="257" r="2.6" fill="#000"/>
<circle cx="191.2" cy="257.4" r="2.6" fill="#000"/>
<circle cx="189" cy="256" r="2.6" fill="#000"/>
<circle cx="175" cy="252" r="2.6" fill="#000"/>
<circle cx="194.6" cy="270.6" r="2.6" fill="#000"/>
<circle cx="196" cy="271.6" r="2.6" fill="#000"/>
<circle cx="199.1" cy="276.1" r="2.6" fill="#000"/>
<circle cx="206.2" cy="313.2" r="2.6" fill="#000"/>
<circle cx="51.7" cy="312.65" r="2.4" fill="#000"/>
<path d="M51.7 320.8L49.2 325.3L54.2 325.3Z" fill="#0000f0"/>
<text x="64.3" y="315.7" font-size="8.4" font-weight="bold" fill="#000" stroke="#000" stroke-width="0.25">XRT</text>
<text x="64.3" y="326.8" font-size="8.4" font-weight="bold" fill="#0000f0" stroke="#0000f0" stroke-width="0.25">BAT</text>
<rect x="288.5" y="194.5" width="192" height="141" fill="none" stroke="#2a2a2a" stroke-width="1.5"/>
<path d="M288.8 335.3v-4 M288.8 194v4 M297.68 335.3v-2 M297.68 194v2 M302.87 335.3v-2 M302.87 194v2 M306.56 335.3v-2 M306.56 194v2 M309.41 335.3v-2 M309.41 194v2 M311.75 335.3v-2 M311.75 194v2 M313.72 335.3v-2 M313.72 194v2 M315.43 335.3v-2 M315.43 194v2 M316.94 335.3v-2 M316.94 194v2 M318.29 335.3v-4 M318.29 194v4 M327.17 335.3v-2 M327.17 194v2 M332.36 335.3v-2 M332.36 194v2 M336.05 335.3v-2 M336.05 194v2 M338.91 335.3v-2 M338.91 194v2 M341.24 335.3v-2 M341.24 194v2 M343.22 335.3v-2 M343.22 194v2 M344.93 335.3v-2 M344.93 194v2 M346.44 335.3v-2 M346.44 194v2 M347.78 335.3v-4 M347.78 194v4 M356.66 335.3v-2 M356.66 194v2 M361.86 335.3v-2 M361.86 194v2 M365.54 335.3v-2 M365.54 194v2 M368.4 335.3v-2 M368.4 194v2 M370.73 335.3v-2 M370.73 194v2 M372.71 335.3v-2 M372.71 194v2 M374.42 335.3v-2 M374.42 194v2 M375.93 335.3v-2 M375.93 194v2 M377.28 335.3v-4 M377.28 194v4 M386.15 335.3v-2 M386.15 194v2 M391.35 335.3v-2 M391.35 194v2 M395.03 335.3v-2 M395.03 194v2 M397.89 335.3v-2 M397.89 194v2 M400.23 335.3v-2 M400.23 194v2 M402.2 335.3v-2 M402.2 194v2 M403.91 335.3v-2 M403.91 194v2 M405.42 335.3v-2 M405.42 194v2 M406.77 335.3v-4 M406.77 194v4 M415.65 335.3v-2 M415.65 194v2 M420.84 335.3v-2 M420.84 194v2 M424.53 335.3v-2 M424.53 194v2 M427.38 335.3v-2 M427.38 194v2 M429.72 335.3v-2 M429.72 194v2 M431.69 335.3v-2 M431.69 194v2 M433.4 335.3v-2 M433.4 194v2 M434.91 335.3v-2 M434.91 194v2 M436.26 335.3v-4 M436.26 194v4 M445.14 335.3v-2 M445.14 194v2 M450.33 335.3v-2 M450.33 194v2 M454.02 335.3v-2 M454.02 194v2 M456.88 335.3v-2 M456.88 194v2 M459.21 335.3v-2 M459.21 194v2 M461.19 335.3v-2 M461.19 194v2 M462.9 335.3v-2 M462.9 194v2 M464.4 335.3v-2 M464.4 194v2 M465.75 335.3v-4 M465.75 194v4 M474.63 335.3v-2 M474.63 194v2 M479.83 335.3v-2 M479.83 194v2 M288.8 335.3h4 M480.5 335.3h-4 M288.8 329.22h2 M480.5 329.22h-2 M288.8 325.67h2 M480.5 325.67h-2 M288.8 323.15h2 M480.5 323.15h-2 M288.8 321.19h2 M480.5 321.19h-2 M288.8 319.59h2 M480.5 319.59h-2 M288.8 318.24h2 M480.5 318.24h-2 M288.8 317.07h2 M480.5 317.07h-2 M288.8 316.04h2 M480.5 316.04h-2 M288.8 315.11h4 M480.5 315.11h-4 M288.8 309.04h2 M480.5 309.04h-2 M288.8 305.48h2 M480.5 305.48h-2 M288.8 302.96h2 M480.5 302.96h-2 M288.8 301.01h2 M480.5 301.01h-2 M288.8 299.41h2 M480.5 299.41h-2 M288.8 298.06h2 M480.5 298.06h-2 M288.8 296.88h2 M480.5 296.88h-2 M288.8 295.85h2 M480.5 295.85h-2 M288.8 294.93h4 M480.5 294.93h-4 M288.8 288.85h2 M480.5 288.85h-2 M288.8 285.3h2 M480.5 285.3h-2 M288.8 282.78h2 M480.5 282.78h-2 M288.8 280.82h2 M480.5 280.82h-2 M288.8 279.22h2 M480.5 279.22h-2 M288.8 277.87h2 M480.5 277.87h-2 M288.8 276.7h2 M480.5 276.7h-2 M288.8 275.67h2 M480.5 275.67h-2 M288.8 274.74h4 M480.5 274.74h-4 M288.8 268.67h2 M480.5 268.67h-2 M288.8 265.11h2 M480.5 265.11h-2 M288.8 262.59h2 M480.5 262.59h-2 M288.8 260.63h2 M480.5 260.63h-2 M288.8 259.04h2 M480.5 259.04h-2 M288.8 257.68h2 M480.5 257.68h-2 M288.8 256.51h2 M480.5 256.51h-2 M288.8 255.48h2 M480.5 255.48h-2 M288.8 254.56h4 M480.5 254.56h-4 M288.8 248.48h2 M480.5 248.48h-2 M288.8 244.93h2 M480.5 244.93h-2 M288.8 242.4h2 M480.5 242.4h-2 M288.8 240.45h2 M480.5 240.45h-2 M288.8 238.85h2 M480.5 238.85h-2 M288.8 237.5h2 M480.5 237.5h-2 M288.8 236.33h2 M480.5 236.33h-2 M288.8 235.3h2 M480.5 235.3h-2 M288.8 234.37h4 M480.5 234.37h-4 M288.8 228.29h2 M480.5 228.29h-2 M288.8 224.74h2 M480.5 224.74h-2 M288.8 222.22h2 M480.5 222.22h-2 M288.8 220.26h2 M480.5 220.26h-2 M288.8 218.66h2 M480.5 218.66h-2 M288.8 217.31h2 M480.5 217.31h-2 M288.8 216.14h2 M480.5 216.14h-2 M288.8 215.11h2 M480.5 215.11h-2 M288.8 214.19h4 M480.5 214.19h-4 M288.8 208.11h2 M480.5 208.11h-2 M288.8 204.55h2 M480.5 204.55h-2 M288.8 202.03h2 M480.5 202.03h-2 M288.8 200.08h2 M480.5 200.08h-2 M288.8 198.48h2 M480.5 198.48h-2 M288.8 197.13h2 M480.5 197.13h-2 M288.8 195.96h2 M480.5 195.96h-2 M288.8 194.92h2 M480.5 194.92h-2 M288.8 194h4 M480.5 194h-4" stroke="#222" stroke-width="1" fill="none"/>
<text x="281.6" y="347.7" font-size="9.2" fill="#111" stroke="#111" stroke-width="0.25" textLength="9" lengthAdjust="spacingAndGlyphs">10</text>
<text x="291.2" y="342.7" font-size="5.4" fill="#111" stroke="#111" stroke-width="0.15">-1</text>
<text x="311.99" y="347.7" font-size="9.2" fill="#111" stroke="#111" stroke-width="0.25" textLength="9" lengthAdjust="spacingAndGlyphs">10</text>
<text x="321.59" y="342.7" font-size="5.4" fill="#111" stroke="#111" stroke-width="0.15">0</text>
<text x="341.48" y="347.7" font-size="9.2" fill="#111" stroke="#111" stroke-width="0.25" textLength="9" lengthAdjust="spacingAndGlyphs">10</text>
<text x="351.08" y="342.7" font-size="5.4" fill="#111" stroke="#111" stroke-width="0.15">1</text>
<text x="370.98" y="347.7" font-size="9.2" fill="#111" stroke="#111" stroke-width="0.25" textLength="9" lengthAdjust="spacingAndGlyphs">10</text>
<text x="380.58" y="342.7" font-size="5.4" fill="#111" stroke="#111" stroke-width="0.15">2</text>
<text x="400.47" y="347.7" font-size="9.2" fill="#111" stroke="#111" stroke-width="0.25" textLength="9" lengthAdjust="spacingAndGlyphs">10</text>
<text x="410.07" y="342.7" font-size="5.4" fill="#111" stroke="#111" stroke-width="0.15">3</text>
<text x="429.96" y="347.7" font-size="9.2" fill="#111" stroke="#111" stroke-width="0.25" textLength="9" lengthAdjust="spacingAndGlyphs">10</text>
<text x="439.56" y="342.7" font-size="5.4" fill="#111" stroke="#111" stroke-width="0.15">4</text>
<text x="459.45" y="347.7" font-size="9.2" fill="#111" stroke="#111" stroke-width="0.25" textLength="9" lengthAdjust="spacingAndGlyphs">10</text>
<text x="469.05" y="342.7" font-size="5.4" fill="#111" stroke="#111" stroke-width="0.15">5</text>
<text x="268.09" y="338.7" font-size="9.2" fill="#111" stroke="#111" stroke-width="0.25" textLength="9" lengthAdjust="spacingAndGlyphs">10</text>
<text x="277.69" y="333.7" font-size="5.4" fill="#111" stroke="#111" stroke-width="0.15">-14</text>
<text x="268.09" y="298.33" font-size="9.2" fill="#111" stroke="#111" stroke-width="0.25" textLength="9" lengthAdjust="spacingAndGlyphs">10</text>
<text x="277.69" y="293.33" font-size="5.4" fill="#111" stroke="#111" stroke-width="0.15">-12</text>
<text x="268.09" y="257.96" font-size="9.2" fill="#111" stroke="#111" stroke-width="0.25" textLength="9" lengthAdjust="spacingAndGlyphs">10</text>
<text x="277.69" y="252.96" font-size="5.4" fill="#111" stroke="#111" stroke-width="0.15">-10</text>
<text x="271.1" y="217.59" font-size="9.2" fill="#111" stroke="#111" stroke-width="0.25" textLength="9" lengthAdjust="spacingAndGlyphs">10</text>
<text x="280.7" y="212.59" font-size="5.4" fill="#111" stroke="#111" stroke-width="0.15">-8</text>
<text x="323.6" y="362.4" font-size="11.6" fill="#111" stroke="#111" stroke-width="0.25" textLength="112" lengthAdjust="spacingAndGlyphs">Time Since Trigger (s)</text>
<g transform="translate(263.3 264.5) rotate(-90) scale(0.97 1)">
<text x="0" y="0" font-size="11.6" text-anchor="middle" fill="#111" stroke="#111" stroke-width="0.25">Flux (erg cm<tspan font-size="6.8" dy="-5.2">-2</tspan><tspan dy="5.2"> s</tspan><tspan font-size="6.8" dy="-5.2">-1</tspan><tspan dy="5.2">)</tspan></text>
</g>
<text x="425" y="213.3" font-size="12.2" fill="#111" stroke="#111" stroke-width="0.25" textLength="37.3" lengthAdjust="spacingAndGlyphs">061006</text>
<polyline points="369,265.8 480,323.3" fill="none" stroke="#a8f0a8" stroke-width="0.9" stroke-linejoin="round"/>
<polyline points="288.6,214.4 317.4,214.4" fill="none" stroke="#5050ff" stroke-width="0.9" stroke-linejoin="round"/>
<path d="M323 218.2H330 M323 216.7v3 M330 216.7v3" stroke="#7f7fff" stroke-width="0.8" fill="none"/>
<path d="M347.6 221V230.7 M346.1 221h3 M346.1 230.7h3" stroke="#7f7fff" stroke-width="0.8" fill="none"/>
<path d="M359.5 221V228.8 M358 221h3 M358 228.8h3" stroke="#7f7fff" stroke-width="0.8" fill="none"/>
<path d="M352 219V226.7 M350.5 219h3 M350.5 226.7h3" stroke="#7f7fff" stroke-width="0.8" fill="none"/>
<path d="M344.8 217V226 M343.3 217h3 M343.3 226h3" stroke="#7f7fff" stroke-width="0.8" fill="none"/>
<path d="M366.4 219V226 M364.9 219h3 M364.9 226h3" stroke="#7f7fff" stroke-width="0.8" fill="none"/>
<path d="M317.7 211.03L315.1 215.81L320.3 215.81Z" fill="#0000f0"/>
<path d="M326.4 215.33L323.8 220.11L329 220.11Z" fill="#0000f0"/>
<path d="M331.8 208.23L329.2 213.01L334.4 213.01Z" fill="#0000f0"/>
<path d="M335.3 208.23L332.7 213.01L337.9 213.01Z" fill="#0000f0"/>
<path d="M338.6 210.73L336 215.51L341.2 215.51Z" fill="#0000f0"/>
<path d="M341.1 214.83L338.5 219.61L343.7 219.61Z" fill="#0000f0"/>
<path d="M343.2 212.33L340.6 217.11L345.8 217.11Z" fill="#0000f0"/>
<path d="M344.8 218.03L342.2 222.81L347.4 222.81Z" fill="#0000f0"/>
<path d="M347.6 221.83L345 226.61L350.2 226.61Z" fill="#0000f0"/>
<path d="M350 215.63L347.4 220.41L352.6 220.41Z" fill="#0000f0"/>
<path d="M351.7 219.73L349.1 224.51L354.3 224.51Z" fill="#0000f0"/>
<path d="M353 209.13L350.4 213.91L355.6 213.91Z" fill="#0000f0"/>
<path d="M354.6 211.53L352 216.31L357.2 216.31Z" fill="#0000f0"/>
<path d="M355.8 215.63L353.2 220.41L358.4 220.41Z" fill="#0000f0"/>
<path d="M358.2 216.43L355.6 221.21L360.8 221.21Z" fill="#0000f0"/>
<path d="M359.5 221.33L356.9 226.11L362.1 226.11Z" fill="#0000f0"/>
<path d="M362.3 218.03L359.7 222.81L364.9 222.81Z" fill="#0000f0"/>
<path d="M366.4 219.73L363.8 224.51L369 224.51Z" fill="#0000f0"/>
<path d="M368.8 214.03L366.2 218.81L371.4 218.81Z" fill="#0000f0"/>
<path d="M372.1 212.83L369.5 217.61L374.7 217.61Z" fill="#0000f0"/>
<path d="M374.5 214.83L371.9 219.61L377.1 219.61Z" fill="#0000f0"/>
<path d="M377.8 220.53L375.2 225.31L380.4 225.31Z" fill="#0000f0"/>
<polyline points="322.3,213.9 376.2,220.1 377.5,222.6 388.6,295.2" fill="none" stroke="#ff2020" stroke-width="1.2" stroke-linejoin="round"/>
<path d="M404 289H410 M404 287.5v3 M410 287.5v3" stroke="#a0a0a0" stroke-width="0.8" fill="none"/>
<path d="M437.5 305H444 M437.5 303.5v3 M444 303.5v3" stroke="#a0a0a0" stroke-width="0.8" fill="none"/>
<path d="M445.7 305.3H451.4 M445.7 303.8v3 M451.4 303.8v3" stroke="#a0a0a0" stroke-width="0.8" fill="none"/>
<path d="M453 315.1H467.8 M453 313.6v3 M467.8 313.6v3 M462 312V318 M460.5 312h3 M460.5 318h3" stroke="#a0a0a0" stroke-width="0.8" fill="none"/>
<circle cx="384.2" cy="265.8" r="2.1" fill="#000"/>
<circle cx="388.6" cy="274.3" r="2.1" fill="#000"/>
<circle cx="393.5" cy="279.5" r="2.1" fill="#000"/>
<circle cx="398.4" cy="281.6" r="2.1" fill="#000"/>
<circle cx="402.4" cy="282.4" r="2.1" fill="#000"/>
<circle cx="407" cy="289" r="2.1" fill="#000"/>
<circle cx="428.6" cy="296.3" r="2.1" fill="#000"/>
<circle cx="430.5" cy="297.1" r="2.1" fill="#000"/>
<circle cx="441.6" cy="305" r="2.1" fill="#000"/>
<circle cx="448.5" cy="305.3" r="2.1" fill="#000"/>
<circle cx="462" cy="315.1" r="2.1" fill="#000"/>
<text x="414.7" y="311.5" font-size="9" fill="#111" stroke="#111" stroke-width="0.25">t</text>
<text x="417.2" y="306.55" font-size="6.12" fill="#111" stroke="#111" stroke-width="0.15">-0.76</text>
<circle cx="303.5" cy="312.65" r="1.9" fill="#000"/>
<path d="M303.5 321.55L301.6 324.97L305.4 324.97Z" fill="#0000f0"/>
<text x="316.1" y="315.6" font-size="8.4" font-weight="bold" fill="#000" stroke="#000" stroke-width="0.25">XRT</text>
<text x="316.1" y="326.8" font-size="8.4" font-weight="bold" fill="#0000f0" stroke="#0000f0" stroke-width="0.25">BAT</text>
<rect x="537.5" y="193.5" width="192" height="141" fill="none" stroke="#8a8a8a" stroke-width="1.5"/>
<path d="M537 334.6v-4 M537 193.2v4 M545.63 334.6v-2 M545.63 193.2v2 M550.67 334.6v-2 M550.67 193.2v2 M554.25 334.6v-2 M554.25 193.2v2 M557.03 334.6v-2 M557.03 193.2v2 M559.3 334.6v-2 M559.3 193.2v2 M561.22 334.6v-2 M561.22 193.2v2 M562.88 334.6v-2 M562.88 193.2v2 M564.35 334.6v-2 M564.35 193.2v2 M565.66 334.6v-4 M565.66 193.2v4 M574.28 334.6v-2 M574.28 193.2v2 M579.33 334.6v-2 M579.33 193.2v2 M582.91 334.6v-2 M582.91 193.2v2 M585.69 334.6v-2 M585.69 193.2v2 M587.96 334.6v-2 M587.96 193.2v2 M589.87 334.6v-2 M589.87 193.2v2 M591.54 334.6v-2 M591.54 193.2v2 M593 334.6v-2 M593 193.2v2 M594.31 334.6v-4 M594.31 193.2v4 M602.94 334.6v-2 M602.94 193.2v2 M607.99 334.6v-2 M607.99 193.2v2 M611.57 334.6v-2 M611.57 193.2v2 M614.34 334.6v-2 M614.34 193.2v2 M616.61 334.6v-2 M616.61 193.2v2 M618.53 334.6v-2 M618.53 193.2v2 M620.19 334.6v-2 M620.19 193.2v2 M621.66 334.6v-2 M621.66 193.2v2 M622.97 334.6v-4 M622.97 193.2v4 M631.6 334.6v-2 M631.6 193.2v2 M636.64 334.6v-2 M636.64 193.2v2 M640.22 334.6v-2 M640.22 193.2v2 M643 334.6v-2 M643 193.2v2 M645.27 334.6v-2 M645.27 193.2v2 M647.19 334.6v-2 M647.19 193.2v2 M648.85 334.6v-2 M648.85 193.2v2 M650.32 334.6v-2 M650.32 193.2v2 M651.63 334.6v-4 M651.63 193.2v4 M660.25 334.6v-2 M660.25 193.2v2 M665.3 334.6v-2 M665.3 193.2v2 M668.88 334.6v-2 M668.88 193.2v2 M671.66 334.6v-2 M671.66 193.2v2 M673.93 334.6v-2 M673.93 193.2v2 M675.84 334.6v-2 M675.84 193.2v2 M677.51 334.6v-2 M677.51 193.2v2 M678.97 334.6v-2 M678.97 193.2v2 M680.28 334.6v-4 M680.28 193.2v4 M688.91 334.6v-2 M688.91 193.2v2 M693.96 334.6v-2 M693.96 193.2v2 M697.54 334.6v-2 M697.54 193.2v2 M700.31 334.6v-2 M700.31 193.2v2 M702.58 334.6v-2 M702.58 193.2v2 M704.5 334.6v-2 M704.5 193.2v2 M706.16 334.6v-2 M706.16 193.2v2 M707.63 334.6v-2 M707.63 193.2v2 M708.94 334.6v-4 M708.94 193.2v4 M717.57 334.6v-2 M717.57 193.2v2 M722.61 334.6v-2 M722.61 193.2v2 M726.19 334.6v-2 M726.19 193.2v2 M728.97 334.6v-2 M728.97 193.2v2 M537 334.6h4 M729 334.6h-4 M537 328.52h2 M729 328.52h-2 M537 324.96h2 M729 324.96h-2 M537 322.44h2 M729 322.44h-2 M537 320.48h2 M729 320.48h-2 M537 318.88h2 M729 318.88h-2 M537 317.53h2 M729 317.53h-2 M537 316.36h2 M729 316.36h-2 M537 315.32h2 M729 315.32h-2 M537 314.4h4 M729 314.4h-4 M537 308.32h2 M729 308.32h-2 M537 304.76h2 M729 304.76h-2 M537 302.24h2 M729 302.24h-2 M537 300.28h2 M729 300.28h-2 M537 298.68h2 M729 298.68h-2 M537 297.33h2 M729 297.33h-2 M537 296.16h2 M729 296.16h-2 M537 295.12h2 M729 295.12h-2 M537 294.2h4 M729 294.2h-4 M537 288.12h2 M729 288.12h-2 M537 284.56h2 M729 284.56h-2 M537 282.04h2 M729 282.04h-2 M537 280.08h2 M729 280.08h-2 M537 278.48h2 M729 278.48h-2 M537 277.13h2 M729 277.13h-2 M537 275.96h2 M729 275.96h-2 M537 274.92h2 M729 274.92h-2 M537 274h4 M729 274h-4 M537 267.92h2 M729 267.92h-2 M537 264.36h2 M729 264.36h-2 M537 261.84h2 M729 261.84h-2 M537 259.88h2 M729 259.88h-2 M537 258.28h2 M729 258.28h-2 M537 256.93h2 M729 256.93h-2 M537 255.76h2 M729 255.76h-2 M537 254.72h2 M729 254.72h-2 M537 253.8h4 M729 253.8h-4 M537 247.72h2 M729 247.72h-2 M537 244.16h2 M729 244.16h-2 M537 241.64h2 M729 241.64h-2 M537 239.68h2 M729 239.68h-2 M537 238.08h2 M729 238.08h-2 M537 236.73h2 M729 236.73h-2 M537 235.56h2 M729 235.56h-2 M537 234.52h2 M729 234.52h-2 M537 233.6h4 M729 233.6h-4 M537 227.52h2 M729 227.52h-2 M537 223.96h2 M729 223.96h-2 M537 221.44h2 M729 221.44h-2 M537 219.48h2 M729 219.48h-2 M537 217.88h2 M729 217.88h-2 M537 216.53h2 M729 216.53h-2 M537 215.36h2 M729 215.36h-2 M537 214.32h2 M729 214.32h-2 M537 213.4h4 M729 213.4h-4 M537 207.32h2 M729 207.32h-2 M537 203.76h2 M729 203.76h-2 M537 201.24h2 M729 201.24h-2 M537 199.28h2 M729 199.28h-2 M537 197.68h2 M729 197.68h-2 M537 196.33h2 M729 196.33h-2 M537 195.16h2 M729 195.16h-2 M537 194.12h2 M729 194.12h-2 M537 193.2h4 M729 193.2h-4" stroke="#222" stroke-width="1" fill="none"/>
<text x="529.8" y="347" font-size="9.2" fill="#111" stroke="#111" stroke-width="0.25" textLength="9" lengthAdjust="spacingAndGlyphs">10</text>
<text x="539.4" y="342" font-size="5.4" fill="#111" stroke="#111" stroke-width="0.15">-1</text>
<text x="559.36" y="347" font-size="9.2" fill="#111" stroke="#111" stroke-width="0.25" textLength="9" lengthAdjust="spacingAndGlyphs">10</text>
<text x="568.96" y="342" font-size="5.4" fill="#111" stroke="#111" stroke-width="0.15">0</text>
<text x="588.01" y="347" font-size="9.2" fill="#111" stroke="#111" stroke-width="0.25" textLength="9" lengthAdjust="spacingAndGlyphs">10</text>
<text x="597.61" y="342" font-size="5.4" fill="#111" stroke="#111" stroke-width="0.15">1</text>
<text x="616.67" y="347" font-size="9.2" fill="#111" stroke="#111" stroke-width="0.25" textLength="9" lengthAdjust="spacingAndGlyphs">10</text>
<text x="626.27" y="342" font-size="5.4" fill="#111" stroke="#111" stroke-width="0.15">2</text>
<text x="645.33" y="347" font-size="9.2" fill="#111" stroke="#111" stroke-width="0.25" textLength="9" lengthAdjust="spacingAndGlyphs">10</text>
<text x="654.93" y="342" font-size="5.4" fill="#111" stroke="#111" stroke-width="0.15">3</text>
<text x="673.98" y="347" font-size="9.2" fill="#111" stroke="#111" stroke-width="0.25" textLength="9" lengthAdjust="spacingAndGlyphs">10</text>
<text x="683.58" y="342" font-size="5.4" fill="#111" stroke="#111" stroke-width="0.15">4</text>
<text x="702.64" y="347" font-size="9.2" fill="#111" stroke="#111" stroke-width="0.25" textLength="9" lengthAdjust="spacingAndGlyphs">10</text>
<text x="712.24" y="342" font-size="5.4" fill="#111" stroke="#111" stroke-width="0.15">5</text>
<text x="516.29" y="338" font-size="9.2" fill="#111" stroke="#111" stroke-width="0.25" textLength="9" lengthAdjust="spacingAndGlyphs">10</text>
<text x="525.89" y="333" font-size="5.4" fill="#111" stroke="#111" stroke-width="0.15">-14</text>
<text x="516.29" y="297.6" font-size="9.2" fill="#111" stroke="#111" stroke-width="0.25" textLength="9" lengthAdjust="spacingAndGlyphs">10</text>
<text x="525.89" y="292.6" font-size="5.4" fill="#111" stroke="#111" stroke-width="0.15">-12</text>
<text x="516.29" y="257.2" font-size="9.2" fill="#111" stroke="#111" stroke-width="0.25" textLength="9" lengthAdjust="spacingAndGlyphs">10</text>
<text x="525.89" y="252.2" font-size="5.4" fill="#111" stroke="#111" stroke-width="0.15">-10</text>
<text x="519.3" y="216.8" font-size="9.2" fill="#111" stroke="#111" stroke-width="0.25" textLength="9" lengthAdjust="spacingAndGlyphs">10</text>
<text x="528.9" y="211.8" font-size="5.4" fill="#111" stroke="#111" stroke-width="0.15">-8</text>
<text x="579" y="361.3" font-size="11.6" fill="#111" stroke="#111" stroke-width="0.25" textLength="112" lengthAdjust="spacingAndGlyphs">Time Since Trigger (s)</text>
<g transform="translate(511.3 263.2) rotate(-90) scale(0.97 1)">
<text x="0" y="0" font-size="11.6" text-anchor="middle" fill="#111" stroke="#111" stroke-width="0.25">Flux (erg cm<tspan font-size="6.8" dy="-5.2">-2</tspan><tspan dy="5.2"> s</tspan><tspan font-size="6.8" dy="-5.2">-1</tspan><tspan dy="5.2">)</tspan></text>
</g>
<text x="674" y="212.3" font-size="12.2" fill="#111" stroke="#111" stroke-width="0.25" textLength="37" lengthAdjust="spacingAndGlyphs">061201</text>
<path d="M566 225.1H575 M566 223.6v3 M575 223.6v3" stroke="#7f7fff" stroke-width="0.8" fill="none"/>
<path d="M566.2 226V233.8 M564.7 226h3 M564.7 233.8h3" stroke="#7f7fff" stroke-width="0.8" fill="none"/>
<path d="M541.4 206.81L538.6 211.96L544.2 211.96Z" fill="#0000f0"/>
<path d="M546.3 205.11L543.5 210.26L549.1 210.26Z" fill="#0000f0"/>
<path d="M558.8 200.21L556 205.36L561.6 205.36Z" fill="#0000f0"/>
<path d="M553.9 206.21L551.1 211.36L556.7 211.36Z" fill="#0000f0"/>
<path d="M557.1 205.71L554.3 210.86L559.9 210.86Z" fill="#0000f0"/>
<path d="M550.6 209.51L547.8 214.66L553.4 214.66Z" fill="#0000f0"/>
<path d="M549 212.21L546.2 217.36L551.8 217.36Z" fill="#0000f0"/>
<path d="M555.5 210.61L552.7 215.76L558.3 215.76Z" fill="#0000f0"/>
<path d="M562.6 210.01L559.8 215.16L565.4 215.16Z" fill="#0000f0"/>
<path d="M559.9 212.81L557.1 217.96L562.7 217.96Z" fill="#0000f0"/>
<path d="M561.5 216.01L558.7 221.16L564.3 221.16Z" fill="#0000f0"/>
<path d="M563.7 219.31L560.9 224.46L566.5 224.46Z" fill="#0000f0"/>
<path d="M569.7 222.01L566.9 227.16L572.5 227.16Z" fill="#0000f0"/>
<path d="M566.2 225.81L563.4 230.96L569 230.96Z" fill="#0000f0"/>
<path d="M552 207.91L549.2 213.06L554.8 213.06Z" fill="#0000f0"/>
<path d="M560 207.91L557.2 213.06L562.8 213.06Z" fill="#0000f0"/>
<polyline points="620,247.5 630,251 640,255 646.5,258" fill="none" stroke="#000" stroke-width="6.8" stroke-linejoin="round" stroke-linecap="round"/>
<circle cx="622" cy="247" r="2.6" fill="#000"/>
<circle cx="630" cy="249.5" r="2.6" fill="#000"/>
<circle cx="637" cy="252" r="2.6" fill="#000"/>
<circle cx="641" cy="252" r="2.6" fill="#000"/>
<circle cx="643" cy="255" r="2.6" fill="#000"/>
<circle cx="646" cy="257" r="2.6" fill="#000"/>
<circle cx="634" cy="254" r="2.6" fill="#000"/>
<circle cx="627" cy="251" r="2.6" fill="#000"/>
<polyline points="615.6,245.7 647.8,258 656.6,260.9 663.7,266.5 669,273.6 683.1,291.3 695.5,306.3 710,326.7" fill="none" stroke="#ff2020" stroke-width="1.2" stroke-linejoin="round"/>
<path d="M689 306.3H697.3 M689 304.8v3 M697.3 304.8v3" stroke="#a0a0a0" stroke-width="0.8" fill="none"/>
<path d="M698.7 322.2H713.5 M698.7 320.7v3 M713.5 320.7v3" stroke="#a0a0a0" stroke-width="0.8" fill="none"/>
<path d="M668.1 267V276 M666.6 267h3 M666.6 276h3" stroke="#a0a0a0" stroke-width="0.8" fill="none"/>
<circle cx="669" cy="270.1" r="2.4" fill="#000"/>
<circle cx="674.3" cy="276.3" r="2.4" fill="#000"/>
<circle cx="672.5" cy="279.8" r="2.4" fill="#000"/>
<circle cx="673.9" cy="282.4" r="2.4" fill="#000"/>
<circle cx="681.7" cy="290.4" r="2.4" fill="#000"/>
<circle cx="686.3" cy="292.5" r="2.4" fill="#000"/>
<circle cx="694.6" cy="306.3" r="2.4" fill="#000"/>
<circle cx="706.1" cy="322.2" r="2.4" fill="#000"/>
<circle cx="551.7" cy="313.1" r="2.4" fill="#000"/>
<path d="M551.7 321.2L549.2 325.7L554.2 325.7Z" fill="#0000f0"/>
<text x="564.3" y="315.9" font-size="8.4" font-weight="bold" fill="#000" stroke="#000" stroke-width="0.25">XRT</text>
<text x="564.3" y="326.9" font-size="8.4" font-weight="bold" fill="#0000f0" stroke="#0000f0" stroke-width="0.25">BAT</text>
<rect x="39.5" y="382.5" width="193" height="142" fill="none" stroke="#2a2a2a" stroke-width="1.5"/>
<path d="M39.6 524.3v-4 M39.6 382.6v4 M47.33 524.3v-2 M47.33 382.6v2 M51.85 524.3v-2 M51.85 382.6v2 M55.06 524.3v-2 M55.06 382.6v2 M57.55 524.3v-2 M57.55 382.6v2 M59.58 524.3v-2 M59.58 382.6v2 M61.3 524.3v-2 M61.3 382.6v2 M62.79 524.3v-2 M62.79 382.6v2 M64.1 524.3v-2 M64.1 382.6v2 M65.28 524.3v-4 M65.28 382.6v4 M73.01 524.3v-2 M73.01 382.6v2 M77.53 524.3v-2 M77.53 382.6v2 M80.74 524.3v-2 M80.74 382.6v2 M83.23 524.3v-2 M83.23 382.6v2 M85.26 524.3v-2 M85.26 382.6v2 M86.98 524.3v-2 M86.98 382.6v2 M88.47 524.3v-2 M88.47 382.6v2 M89.78 524.3v-2 M89.78 382.6v2 M90.96 524.3v-4 M90.96 382.6v4 M98.69 524.3v-2 M98.69 382.6v2 M103.21 524.3v-2 M103.21 382.6v2 M106.42 524.3v-2 M106.42 382.6v2 M108.91 524.3v-2 M108.91 382.6v2 M110.94 524.3v-2 M110.94 382.6v2 M112.66 524.3v-2 M112.66 382.6v2 M114.15 524.3v-2 M114.15 382.6v2 M115.46 524.3v-2 M115.46 382.6v2 M116.64 524.3v-4 M116.64 382.6v4 M124.37 524.3v-2 M124.37 382.6v2 M128.89 524.3v-2 M128.89 382.6v2 M132.1 524.3v-2 M132.1 382.6v2 M134.59 524.3v-2 M134.59 382.6v2 M136.62 524.3v-2 M136.62 382.6v2 M138.34 524.3v-2 M138.34 382.6v2 M139.83 524.3v-2 M139.83 382.6v2 M141.14 524.3v-2 M141.14 382.6v2 M142.32 524.3v-4 M142.32 382.6v4 M150.05 524.3v-2 M150.05 382.6v2 M154.57 524.3v-2 M154.57 382.6v2 M157.78 524.3v-2 M157.78 382.6v2 M160.27 524.3v-2 M160.27 382.6v2 M162.3 524.3v-2 M162.3 382.6v2 M164.02 524.3v-2 M164.02 382.6v2 M165.51 524.3v-2 M165.51 382.6v2 M166.82 524.3v-2 M166.82 382.6v2 M168 524.3v-4 M168 382.6v4 M175.73 524.3v-2 M175.73 382.6v2 M180.25 524.3v-2 M180.25 382.6v2 M183.46 524.3v-2 M183.46 382.6v2 M185.95 524.3v-2 M185.95 382.6v2 M187.98 524.3v-2 M187.98 382.6v2 M189.7 524.3v-2 M189.7 382.6v2 M191.19 524.3v-2 M191.19 382.6v2 M192.5 524.3v-2 M192.5 382.6v2 M193.68 524.3v-4 M193.68 382.6v4 M201.41 524.3v-2 M201.41 382.6v2 M205.93 524.3v-2 M205.93 382.6v2 M209.14 524.3v-2 M209.14 382.6v2 M211.63 524.3v-2 M211.63 382.6v2 M213.66 524.3v-2 M213.66 382.6v2 M215.38 524.3v-2 M215.38 382.6v2 M216.87 524.3v-2 M216.87 382.6v2 M218.18 524.3v-2 M218.18 382.6v2 M219.36 524.3v-4 M219.36 382.6v4 M227.09 524.3v-2 M227.09 382.6v2 M231.61 524.3v-2 M231.61 382.6v2 M39.6 524.3h4 M232.2 524.3h-4 M39.6 519.4h2 M232.2 519.4h-2 M39.6 516.53h2 M232.2 516.53h-2 M39.6 514.49h2 M232.2 514.49h-2 M39.6 512.92h2 M232.2 512.92h-2 M39.6 511.63h2 M232.2 511.63h-2 M39.6 510.54h2 M232.2 510.54h-2 M39.6 509.59h2 M232.2 509.59h-2 M39.6 508.76h2 M232.2 508.76h-2 M39.6 508.01h4 M232.2 508.01h-4 M39.6 503.11h2 M232.2 503.11h-2 M39.6 500.24h2 M232.2 500.24h-2 M39.6 498.21h2 M232.2 498.21h-2 M39.6 496.63h2 M232.2 496.63h-2 M39.6 495.34h2 M232.2 495.34h-2 M39.6 494.25h2 M232.2 494.25h-2 M39.6 493.3h2 M232.2 493.3h-2 M39.6 492.47h2 M232.2 492.47h-2 M39.6 491.73h4 M232.2 491.73h-4 M39.6 486.82h2 M232.2 486.82h-2 M39.6 483.95h2 M232.2 483.95h-2 M39.6 481.92h2 M232.2 481.92h-2 M39.6 480.34h2 M232.2 480.34h-2 M39.6 479.05h2 M232.2 479.05h-2 M39.6 477.96h2 M232.2 477.96h-2 M39.6 477.02h2 M232.2 477.02h-2 M39.6 476.18h2 M232.2 476.18h-2 M39.6 475.44h4 M232.2 475.44h-4 M39.6 470.53h2 M232.2 470.53h-2 M39.6 467.67h2 M232.2 467.67h-2 M39.6 465.63h2 M232.2 465.63h-2 M39.6 464.05h2 M232.2 464.05h-2 M39.6 462.76h2 M232.2 462.76h-2 M39.6 461.67h2 M232.2 461.67h-2 M39.6 460.73h2 M232.2 460.73h-2 M39.6 459.9h2 M232.2 459.9h-2 M39.6 459.15h4 M232.2 459.15h-4 M39.6 454.25h2 M232.2 454.25h-2 M39.6 451.38h2 M232.2 451.38h-2 M39.6 449.34h2 M232.2 449.34h-2 M39.6 447.77h2 M232.2 447.77h-2 M39.6 446.48h2 M232.2 446.48h-2 M39.6 445.39h2 M232.2 445.39h-2 M39.6 444.44h2 M232.2 444.44h-2 M39.6 443.61h2 M232.2 443.61h-2 M39.6 442.86h4 M232.2 442.86h-4 M39.6 437.96h2 M232.2 437.96h-2 M39.6 435.09h2 M232.2 435.09h-2 M39.6 433.06h2 M232.2 433.06h-2 M39.6 431.48h2 M232.2 431.48h-2 M39.6 430.19h2 M232.2 430.19h-2 M39.6 429.1h2 M232.2 429.1h-2 M39.6 428.15h2 M232.2 428.15h-2 M39.6 427.32h2 M232.2 427.32h-2 M39.6 426.58h4 M232.2 426.58h-4 M39.6 421.67h2 M232.2 421.67h-2 M39.6 418.8h2 M232.2 418.8h-2 M39.6 416.77h2 M232.2 416.77h-2 M39.6 415.19h2 M232.2 415.19h-2 M39.6 413.9h2 M232.2 413.9h-2 M39.6 412.81h2 M232.2 412.81h-2 M39.6 411.87h2 M232.2 411.87h-2 M39.6 411.03h2 M232.2 411.03h-2 M39.6 410.29h4 M232.2 410.29h-4 M39.6 405.39h2 M232.2 405.39h-2 M39.6 402.52h2 M232.2 402.52h-2 M39.6 400.48h2 M232.2 400.48h-2 M39.6 398.9h2 M232.2 398.9h-2 M39.6 397.61h2 M232.2 397.61h-2 M39.6 396.52h2 M232.2 396.52h-2 M39.6 395.58h2 M232.2 395.58h-2 M39.6 394.75h2 M232.2 394.75h-2 M39.6 394h4 M232.2 394h-4 M39.6 389.1h2 M232.2 389.1h-2 M39.6 386.23h2 M232.2 386.23h-2 M39.6 384.2h2 M232.2 384.2h-2 M39.6 382.62h2 M232.2 382.62h-2" stroke="#222" stroke-width="1" fill="none"/>
<text x="32.4" y="536.7" font-size="9.2" fill="#111" stroke="#111" stroke-width="0.25" textLength="9" lengthAdjust="spacingAndGlyphs">10</text>
<text x="42" y="531.7" font-size="5.4" fill="#111" stroke="#111" stroke-width="0.15">-2</text>
<text x="58.08" y="536.7" font-size="9.2" fill="#111" stroke="#111" stroke-width="0.25" textLength="9" lengthAdjust="spacingAndGlyphs">10</text>
<text x="67.68" y="531.7" font-size="5.4" fill="#111" stroke="#111" stroke-width="0.15">-1</text>
<text x="84.66" y="536.7" font-size="9.2" fill="#111" stroke="#111" stroke-width="0.25" textLength="9" lengthAdjust="spacingAndGlyphs">10</text>
<text x="94.26" y="531.7" font-size="5.4" fill="#111" stroke="#111" stroke-width="0.15">0</text>
<text x="110.34" y="536.7" font-size="9.2" fill="#111" stroke="#111" stroke-width="0.25" textLength="9" lengthAdjust="spacingAndGlyphs">10</text>
<text x="119.94" y="531.7" font-size="5.4" fill="#111" stroke="#111" stroke-width="0.15">1</text>
<text x="136.02" y="536.7" font-size="9.2" fill="#111" stroke="#111" stroke-width="0.25" textLength="9" lengthAdjust="spacingAndGlyphs">10</text>
<text x="145.62" y="531.7" font-size="5.4" fill="#111" stroke="#111" stroke-width="0.15">2</text>
<text x="161.7" y="536.7" font-size="9.2" fill="#111" stroke="#111" stroke-width="0.25" textLength="9" lengthAdjust="spacingAndGlyphs">10</text>
<text x="171.3" y="531.7" font-size="5.4" fill="#111" stroke="#111" stroke-width="0.15">3</text>
<text x="187.38" y="536.7" font-size="9.2" fill="#111" stroke="#111" stroke-width="0.25" textLength="9" lengthAdjust="spacingAndGlyphs">10</text>
<text x="196.98" y="531.7" font-size="5.4" fill="#111" stroke="#111" stroke-width="0.15">4</text>
<text x="213.06" y="536.7" font-size="9.2" fill="#111" stroke="#111" stroke-width="0.25" textLength="9" lengthAdjust="spacingAndGlyphs">10</text>
<text x="222.66" y="531.7" font-size="5.4" fill="#111" stroke="#111" stroke-width="0.15">5</text>
<text x="18.89" y="527.7" font-size="9.2" fill="#111" stroke="#111" stroke-width="0.25" textLength="9" lengthAdjust="spacingAndGlyphs">10</text>
<text x="28.49" y="522.7" font-size="5.4" fill="#111" stroke="#111" stroke-width="0.15">-15</text>
<text x="18.89" y="495.13" font-size="9.2" fill="#111" stroke="#111" stroke-width="0.25" textLength="9" lengthAdjust="spacingAndGlyphs">10</text>
<text x="28.49" y="490.13" font-size="5.4" fill="#111" stroke="#111" stroke-width="0.15">-13</text>
<text x="19.3" y="462.55" font-size="9.2" fill="#111" stroke="#111" stroke-width="0.25" textLength="9" lengthAdjust="spacingAndGlyphs">10</text>
<text x="28.9" y="457.55" font-size="5.4" fill="#111" stroke="#111" stroke-width="0.15">-11</text>
<text x="21.9" y="429.98" font-size="9.2" fill="#111" stroke="#111" stroke-width="0.25" textLength="9" lengthAdjust="spacingAndGlyphs">10</text>
<text x="31.5" y="424.98" font-size="5.4" fill="#111" stroke="#111" stroke-width="0.15">-9</text>
<text x="21.9" y="397.4" font-size="9.2" fill="#111" stroke="#111" stroke-width="0.25" textLength="9" lengthAdjust="spacingAndGlyphs">10</text>
<text x="31.5" y="392.4" font-size="5.4" fill="#111" stroke="#111" stroke-width="0.15">-7</text>
<text x="72.8" y="550" font-size="11.6" fill="#111" stroke="#111" stroke-width="0.25" textLength="112" lengthAdjust="spacingAndGlyphs">Time Since Trigger (s)</text>
<g transform="translate(12.6 450) rotate(-90) scale(0.97 1)">
<text x="0" y="0" font-size="11.6" text-anchor="middle" fill="#111" stroke="#111" stroke-width="0.25">Flux (erg cm<tspan font-size="6.8" dy="-5.2">-2</tspan><tspan dy="5.2"> s</tspan><tspan font-size="6.8" dy="-5.2">-1</tspan><tspan dy="5.2">)</tspan></text>
</g>
<text x="165.7" y="401" font-size="12.2" fill="#111" stroke="#111" stroke-width="0.25" textLength="45" lengthAdjust="spacingAndGlyphs">070714B</text>
<path d="M59 396.5H64 M59 395v3 M64 395v3" stroke="#7f7fff" stroke-width="0.8" fill="none"/>
<path d="M100 415V421 M98.5 415h3 M98.5 421h3" stroke="#7f7fff" stroke-width="0.8" fill="none"/>
<path d="M112 420V427 M110.5 420h3 M110.5 427h3" stroke="#7f7fff" stroke-width="0.8" fill="none"/>
<polygon points="88,404 91.5,397 95,403 100,407 106,409 112,412 116,417 142,419.5 144.5,422 143.5,427.5 118,427.5 112,424 104,420 97,416 92,411 88,408" fill="#0000f0"/>
<path d="M65.1 393.12L62.4 398.09L67.8 398.09Z" fill="#0000f0"/>
<path d="M70.8 397.12L68.1 402.09L73.5 402.09Z" fill="#0000f0"/>
<path d="M74.1 399.62L71.4 404.59L76.8 404.59Z" fill="#0000f0"/>
<path d="M79 407.82L76.3 412.79L81.7 412.79Z" fill="#0000f0"/>
<path d="M82.3 401.22L79.6 406.19L85 406.19Z" fill="#0000f0"/>
<path d="M86.3 398.82L83.6 403.79L89 403.79Z" fill="#0000f0"/>
<path d="M92.1 394.72L89.4 399.69L94.8 399.69Z" fill="#0000f0"/>
<path d="M91.2 400.42L88.5 405.39L93.9 405.39Z" fill="#0000f0"/>
<path d="M98.6 400.42L95.9 405.39L101.3 405.39Z" fill="#0000f0"/>
<path d="M93.7 405.32L91 410.29L96.4 410.29Z" fill="#0000f0"/>
<path d="M97 411.02L94.3 415.99L99.7 415.99Z" fill="#0000f0"/>
<path d="M104.3 408.62L101.6 413.59L107 413.59Z" fill="#0000f0"/>
<path d="M110 409.42L107.3 414.39L112.7 414.39Z" fill="#0000f0"/>
<path d="M114.1 411.02L111.4 415.99L116.8 415.99Z" fill="#0000f0"/>
<path d="M107.6 415.12L104.9 420.09L110.3 420.09Z" fill="#0000f0"/>
<path d="M115.7 416.72L113 421.69L118.4 421.69Z" fill="#0000f0"/>
<path d="M120 418.02L117.3 422.99L122.7 422.99Z" fill="#0000f0"/>
<path d="M128 417.02L125.3 421.99L130.7 421.99Z" fill="#0000f0"/>
<path d="M136 417.02L133.3 421.99L138.7 421.99Z" fill="#0000f0"/>
<path d="M141 418.02L138.3 422.99L143.7 422.99Z" fill="#0000f0"/>
<path d="M118 423.02L115.3 427.99L120.7 427.99Z" fill="#0000f0"/>
<path d="M126 423.02L123.3 427.99L128.7 427.99Z" fill="#0000f0"/>
<path d="M134 423.02L131.3 427.99L136.7 427.99Z" fill="#0000f0"/>
<path d="M79.5 402.82L76.8 407.79L82.2 407.79Z" fill="#0000f0"/>
<path d="M84.4 398.52L81.7 403.49L87.1 403.49Z" fill="#0000f0"/>
<path d="M76 401.02L73.3 405.99L78.7 405.99Z" fill="#0000f0"/>
<path d="M81 401.02L78.3 405.99L83.7 405.99Z" fill="#0000f0"/>
<path d="M88 398.02L85.3 402.99L90.7 402.99Z" fill="#0000f0"/>
<path d="M97.9 400.32L95.2 405.29L100.6 405.29Z" fill="#0000f0"/>
<path d="M104 407.02L101.3 411.99L106.7 411.99Z" fill="#0000f0"/>
<path d="M110 411.02L107.3 415.99L112.7 415.99Z" fill="#0000f0"/>
<polyline points="142.1,427.1 147.9,433.6 153.6,442.1 158.6,447.9 164.3,450.7 168.6,452.9 172.1,456.4" fill="none" stroke="#000" stroke-width="6.5" stroke-linejoin="round" stroke-linecap="round"/>
<polyline points="115.7,422.2 130,423.6 137,424 140,425 144.3,427.9 221.4,522.9" fill="none" stroke="#ff2020" stroke-width="1.2" stroke-linejoin="round"/>
<path d="M203 494.6H210.7 M203 493.1v3 M210.7 493.1v3" stroke="#a0a0a0" stroke-width="0.8" fill="none"/>
<path d="M210.7 505.4H223.6 M210.7 503.9v3 M223.6 503.9v3 M218.3 501.4V512.1 M216.8 501.4h3 M216.8 512.1h3" stroke="#a0a0a0" stroke-width="0.8" fill="none"/>
<circle cx="172.9" cy="464.7" r="2.7" fill="#000"/>
<circle cx="187.1" cy="470" r="2.7" fill="#000"/>
<circle cx="187.9" cy="472.4" r="2.7" fill="#000"/>
<circle cx="189.3" cy="477.9" r="2.7" fill="#000"/>
<circle cx="195" cy="476.4" r="2.7" fill="#000"/>
<circle cx="196.9" cy="477.1" r="2.7" fill="#000"/>
<circle cx="200.3" cy="482.9" r="2.7" fill="#000"/>
<circle cx="205.3" cy="494.6" r="2.7" fill="#000"/>
<circle cx="218.3" cy="505.4" r="2.7" fill="#000"/>
<circle cx="166" cy="449" r="2.7" fill="#000"/>
<circle cx="170" cy="451" r="2.7" fill="#000"/>
<circle cx="173" cy="455" r="2.7" fill="#000"/>
<circle cx="56.6" cy="500.2" r="2.4" fill="#000"/>
<path d="M56.6 508.3L54.1 512.8L59.1 512.8Z" fill="#0000f0"/>
<text x="69.4" y="503.3" font-size="8.4" font-weight="bold" fill="#000" stroke="#000" stroke-width="0.25">XRT</text>
<text x="69.4" y="514.4" font-size="8.4" font-weight="bold" fill="#0000f0" stroke="#0000f0" stroke-width="0.25">BAT</text>
<rect x="288.5" y="379.5" width="195" height="143" fill="none" stroke="#555" stroke-width="1.5"/>
<path d="M289.09 522.7v-2 M289.09 379.5v2 M290.4 522.7v-2 M290.4 379.5v2 M291.57 522.7v-4 M291.57 379.5v4 M299.29 522.7v-2 M299.29 379.5v2 M303.8 522.7v-2 M303.8 379.5v2 M307 522.7v-2 M307 379.5v2 M309.48 522.7v-2 M309.48 379.5v2 M311.51 522.7v-2 M311.51 379.5v2 M313.22 522.7v-2 M313.22 379.5v2 M314.71 522.7v-2 M314.71 379.5v2 M316.02 522.7v-2 M316.02 379.5v2 M317.19 522.7v-4 M317.19 379.5v4 M324.9 522.7v-2 M324.9 379.5v2 M329.42 522.7v-2 M329.42 379.5v2 M332.62 522.7v-2 M332.62 379.5v2 M335.1 522.7v-2 M335.1 379.5v2 M337.13 522.7v-2 M337.13 379.5v2 M338.84 522.7v-2 M338.84 379.5v2 M340.33 522.7v-2 M340.33 379.5v2 M341.64 522.7v-2 M341.64 379.5v2 M342.81 522.7v-4 M342.81 379.5v4 M350.52 522.7v-2 M350.52 379.5v2 M355.03 522.7v-2 M355.03 379.5v2 M358.23 522.7v-2 M358.23 379.5v2 M360.72 522.7v-2 M360.72 379.5v2 M362.75 522.7v-2 M362.75 379.5v2 M364.46 522.7v-2 M364.46 379.5v2 M365.95 522.7v-2 M365.95 379.5v2 M367.26 522.7v-2 M367.26 379.5v2 M368.43 522.7v-4 M368.43 379.5v4 M376.14 522.7v-2 M376.14 379.5v2 M380.65 522.7v-2 M380.65 379.5v2 M383.85 522.7v-2 M383.85 379.5v2 M386.34 522.7v-2 M386.34 379.5v2 M388.36 522.7v-2 M388.36 379.5v2 M390.08 522.7v-2 M390.08 379.5v2 M391.57 522.7v-2 M391.57 379.5v2 M392.88 522.7v-2 M392.88 379.5v2 M394.05 522.7v-4 M394.05 379.5v4 M401.76 522.7v-2 M401.76 379.5v2 M406.27 522.7v-2 M406.27 379.5v2 M409.47 522.7v-2 M409.47 379.5v2 M411.95 522.7v-2 M411.95 379.5v2 M413.98 522.7v-2 M413.98 379.5v2 M415.7 522.7v-2 M415.7 379.5v2 M417.18 522.7v-2 M417.18 379.5v2 M418.49 522.7v-2 M418.49 379.5v2 M419.67 522.7v-4 M419.67 379.5v4 M427.38 522.7v-2 M427.38 379.5v2 M431.89 522.7v-2 M431.89 379.5v2 M435.09 522.7v-2 M435.09 379.5v2 M437.57 522.7v-2 M437.57 379.5v2 M439.6 522.7v-2 M439.6 379.5v2 M441.32 522.7v-2 M441.32 379.5v2 M442.8 522.7v-2 M442.8 379.5v2 M444.11 522.7v-2 M444.11 379.5v2 M445.28 522.7v-4 M445.28 379.5v4 M453 522.7v-2 M453 379.5v2 M457.51 522.7v-2 M457.51 379.5v2 M460.71 522.7v-2 M460.71 379.5v2 M463.19 522.7v-2 M463.19 379.5v2 M465.22 522.7v-2 M465.22 379.5v2 M466.93 522.7v-2 M466.93 379.5v2 M468.42 522.7v-2 M468.42 379.5v2 M469.73 522.7v-2 M469.73 379.5v2 M470.9 522.7v-4 M470.9 379.5v4 M478.62 522.7v-2 M478.62 379.5v2 M483.13 522.7v-2 M483.13 379.5v2 M288.5 522.7h4 M483.2 522.7h-4 M288.5 517.1h2 M483.2 517.1h-2 M288.5 513.83h2 M483.2 513.83h-2 M288.5 511.5h2 M483.2 511.5h-2 M288.5 509.7h2 M483.2 509.7h-2 M288.5 508.23h2 M483.2 508.23h-2 M288.5 506.98h2 M483.2 506.98h-2 M288.5 505.9h2 M483.2 505.9h-2 M288.5 504.95h2 M483.2 504.95h-2 M288.5 504.1h4 M483.2 504.1h-4 M288.5 498.5h2 M483.2 498.5h-2 M288.5 495.23h2 M483.2 495.23h-2 M288.5 492.91h2 M483.2 492.91h-2 M288.5 491.1h2 M483.2 491.1h-2 M288.5 489.63h2 M483.2 489.63h-2 M288.5 488.39h2 M483.2 488.39h-2 M288.5 487.31h2 M483.2 487.31h-2 M288.5 486.36h2 M483.2 486.36h-2 M288.5 485.51h4 M483.2 485.51h-4 M288.5 479.91h2 M483.2 479.91h-2 M288.5 476.63h2 M483.2 476.63h-2 M288.5 474.31h2 M483.2 474.31h-2 M288.5 472.51h2 M483.2 472.51h-2 M288.5 471.03h2 M483.2 471.03h-2 M288.5 469.79h2 M483.2 469.79h-2 M288.5 468.71h2 M483.2 468.71h-2 M288.5 467.76h2 M483.2 467.76h-2 M288.5 466.91h4 M483.2 466.91h-4 M288.5 461.31h2 M483.2 461.31h-2 M288.5 458.03h2 M483.2 458.03h-2 M288.5 455.71h2 M483.2 455.71h-2 M288.5 453.91h2 M483.2 453.91h-2 M288.5 452.44h2 M483.2 452.44h-2 M288.5 451.19h2 M483.2 451.19h-2 M288.5 450.11h2 M483.2 450.11h-2 M288.5 449.16h2 M483.2 449.16h-2 M288.5 448.31h4 M483.2 448.31h-4 M288.5 442.71h2 M483.2 442.71h-2 M288.5 439.44h2 M483.2 439.44h-2 M288.5 437.11h2 M483.2 437.11h-2 M288.5 435.31h2 M483.2 435.31h-2 M288.5 433.84h2 M483.2 433.84h-2 M288.5 432.59h2 M483.2 432.59h-2 M288.5 431.52h2 M483.2 431.52h-2 M288.5 430.56h2 M483.2 430.56h-2 M288.5 429.71h4 M483.2 429.71h-4 M288.5 424.11h2 M483.2 424.11h-2 M288.5 420.84h2 M483.2 420.84h-2 M288.5 418.52h2 M483.2 418.52h-2 M288.5 416.71h2 M483.2 416.71h-2 M288.5 415.24h2 M483.2 415.24h-2 M288.5 414h2 M483.2 414h-2 M288.5 412.92h2 M483.2 412.92h-2 M288.5 411.97h2 M483.2 411.97h-2 M288.5 411.12h4 M483.2 411.12h-4 M288.5 405.52h2 M483.2 405.52h-2 M288.5 402.24h2 M483.2 402.24h-2 M288.5 399.92h2 M483.2 399.92h-2 M288.5 398.12h2 M483.2 398.12h-2 M288.5 396.64h2 M483.2 396.64h-2 M288.5 395.4h2 M483.2 395.4h-2 M288.5 394.32h2 M483.2 394.32h-2 M288.5 393.37h2 M483.2 393.37h-2 M288.5 392.52h4 M483.2 392.52h-4 M288.5 386.92h2 M483.2 386.92h-2 M288.5 383.64h2 M483.2 383.64h-2 M288.5 381.32h2 M483.2 381.32h-2 M288.5 379.52h2 M483.2 379.52h-2" stroke="#222" stroke-width="1" fill="none"/>
<text x="284.37" y="535.1" font-size="9.2" fill="#111" stroke="#111" stroke-width="0.25" textLength="9" lengthAdjust="spacingAndGlyphs">10</text>
<text x="293.97" y="530.1" font-size="5.4" fill="#111" stroke="#111" stroke-width="0.15">-1</text>
<text x="310.89" y="535.1" font-size="9.2" fill="#111" stroke="#111" stroke-width="0.25" textLength="9" lengthAdjust="spacingAndGlyphs">10</text>
<text x="320.49" y="530.1" font-size="5.4" fill="#111" stroke="#111" stroke-width="0.15">0</text>
<text x="336.51" y="535.1" font-size="9.2" fill="#111" stroke="#111" stroke-width="0.25" textLength="9" lengthAdjust="spacingAndGlyphs">10</text>
<text x="346.11" y="530.1" font-size="5.4" fill="#111" stroke="#111" stroke-width="0.15">1</text>
<text x="362.13" y="535.1" font-size="9.2" fill="#111" stroke="#111" stroke-width="0.25" textLength="9" lengthAdjust="spacingAndGlyphs">10</text>
<text x="371.73" y="530.1" font-size="5.4" fill="#111" stroke="#111" stroke-width="0.15">2</text>
<text x="387.75" y="535.1" font-size="9.2" fill="#111" stroke="#111" stroke-width="0.25" textLength="9" lengthAdjust="spacingAndGlyphs">10</text>
<text x="397.35" y="530.1" font-size="5.4" fill="#111" stroke="#111" stroke-width="0.15">3</text>
<text x="413.36" y="535.1" font-size="9.2" fill="#111" stroke="#111" stroke-width="0.25" textLength="9" lengthAdjust="spacingAndGlyphs">10</text>
<text x="422.96" y="530.1" font-size="5.4" fill="#111" stroke="#111" stroke-width="0.15">4</text>
<text x="438.98" y="535.1" font-size="9.2" fill="#111" stroke="#111" stroke-width="0.25" textLength="9" lengthAdjust="spacingAndGlyphs">10</text>
<text x="448.58" y="530.1" font-size="5.4" fill="#111" stroke="#111" stroke-width="0.15">5</text>
<text x="464.6" y="535.1" font-size="9.2" fill="#111" stroke="#111" stroke-width="0.25" textLength="9" lengthAdjust="spacingAndGlyphs">10</text>
<text x="474.2" y="530.1" font-size="5.4" fill="#111" stroke="#111" stroke-width="0.15">6</text>
<text x="267.79" y="526.1" font-size="9.2" fill="#111" stroke="#111" stroke-width="0.25" textLength="9" lengthAdjust="spacingAndGlyphs">10</text>
<text x="277.39" y="521.1" font-size="5.4" fill="#111" stroke="#111" stroke-width="0.15">-14</text>
<text x="267.79" y="488.91" font-size="9.2" fill="#111" stroke="#111" stroke-width="0.25" textLength="9" lengthAdjust="spacingAndGlyphs">10</text>
<text x="277.39" y="483.91" font-size="5.4" fill="#111" stroke="#111" stroke-width="0.15">-12</text>
<text x="267.79" y="451.71" font-size="9.2" fill="#111" stroke="#111" stroke-width="0.25" textLength="9" lengthAdjust="spacingAndGlyphs">10</text>
<text x="277.39" y="446.71" font-size="5.4" fill="#111" stroke="#111" stroke-width="0.15">-10</text>
<text x="270.8" y="414.52" font-size="9.2" fill="#111" stroke="#111" stroke-width="0.25" textLength="9" lengthAdjust="spacingAndGlyphs">10</text>
<text x="280.4" y="409.52" font-size="5.4" fill="#111" stroke="#111" stroke-width="0.15">-8</text>
<text x="324.7" y="549.6" font-size="11.6" fill="#111" stroke="#111" stroke-width="0.25" textLength="112" lengthAdjust="spacingAndGlyphs">Time Since Trigger (s)</text>
<g transform="translate(263.3 444.75) rotate(-90) scale(0.97 1)">
<text x="0" y="0" font-size="11.6" text-anchor="middle" fill="#111" stroke="#111" stroke-width="0.25">Flux (erg cm<tspan font-size="6.8" dy="-5.2">-2</tspan><tspan dy="5.2"> s</tspan><tspan font-size="6.8" dy="-5.2">-1</tspan><tspan dy="5.2">)</tspan></text>
</g>
<text x="420.7" y="400" font-size="12.2" fill="#111" stroke="#111" stroke-width="0.25" textLength="45.3" lengthAdjust="spacingAndGlyphs">070724A</text>
<polyline points="367.7,478 479,512" fill="none" stroke="#a8f0a8" stroke-width="0.9" stroke-linejoin="round"/>
<path d="M310.9 403V416.7 M309.4 403h3 M309.4 416.7h3" stroke="#7f7fff" stroke-width="0.8" fill="none"/>
<path d="M330.8 404V416 M329.3 404h3 M329.3 416h3" stroke="#7f7fff" stroke-width="0.8" fill="none"/>
<path d="M318 409.4H323 M318 407.9v3 M323 407.9v3" stroke="#7f7fff" stroke-width="0.8" fill="none"/>
<path d="M314 406V414 M312.5 406h3 M312.5 414h3" stroke="#7f7fff" stroke-width="0.8" fill="none"/>
<path d="M292.6 393.21L289.8 398.36L295.4 398.36Z" fill="#0000f0"/>
<path d="M297.8 395.71L295 400.86L300.6 400.86Z" fill="#0000f0"/>
<path d="M301.1 398.91L298.3 404.06L303.9 404.06Z" fill="#0000f0"/>
<path d="M304.3 393.21L301.5 398.36L307.1 398.36Z" fill="#0000f0"/>
<path d="M306.3 395.71L303.5 400.86L309.1 400.86Z" fill="#0000f0"/>
<path d="M307.9 402.21L305.1 407.36L310.7 407.36Z" fill="#0000f0"/>
<path d="M312.5 400.61L309.7 405.76L315.3 405.76Z" fill="#0000f0"/>
<path d="M309.2 406.31L306.4 411.46L312 411.46Z" fill="#0000f0"/>
<path d="M314.1 406.31L311.3 411.46L316.9 411.46Z" fill="#0000f0"/>
<path d="M310.9 403.81L308.1 408.96L313.7 408.96Z" fill="#0000f0"/>
<path d="M325.6 402.21L322.8 407.36L328.4 407.36Z" fill="#0000f0"/>
<path d="M329.6 403.01L326.8 408.16L332.4 408.16Z" fill="#0000f0"/>
<path d="M331.3 402.21L328.5 407.36L334.1 407.36Z" fill="#0000f0"/>
<path d="M330.1 407.11L327.3 412.26L332.9 412.26Z" fill="#0000f0"/>
<path d="M332.1 404.71L329.3 409.86L334.9 409.86Z" fill="#0000f0"/>
<path d="M372.8 455V470 M371.3 455h3 M371.3 470h3" stroke="#a0a0a0" stroke-width="0.8" fill="none"/>
<path d="M391.5 484.4V499.7 M390 484.4h3 M390 499.7h3" stroke="#a0a0a0" stroke-width="0.8" fill="none"/>
<path d="M388.9 483V496 M387.4 483h3 M387.4 496h3" stroke="#a0a0a0" stroke-width="0.8" fill="none"/>
<path d="M428 493V500 M426.5 493h3 M426.5 500h3" stroke="#a0a0a0" stroke-width="0.8" fill="none"/>
<path d="M453.5 505V512 M452 505h3 M452 512h3" stroke="#a0a0a0" stroke-width="0.8" fill="none"/>
<path d="M458.6 505V512 M457.1 505h3 M457.1 512h3" stroke="#a0a0a0" stroke-width="0.8" fill="none"/>
<circle cx="368.8" cy="429" r="2.8" fill="#000"/>
<circle cx="370.4" cy="431.4" r="2.8" fill="#000"/>
<circle cx="371.3" cy="438" r="2.8" fill="#000"/>
<circle cx="372.1" cy="446.9" r="2.8" fill="#000"/>
<circle cx="372.9" cy="450.2" r="2.8" fill="#000"/>
<circle cx="376.2" cy="441.2" r="2.8" fill="#000"/>
<circle cx="378.6" cy="443.7" r="2.8" fill="#000"/>
<circle cx="377" cy="446.9" r="2.8" fill="#000"/>
<circle cx="378.6" cy="451" r="2.8" fill="#000"/>
<circle cx="372.9" cy="455.9" r="2.8" fill="#000"/>
<circle cx="372.6" cy="460" r="2.8" fill="#000"/>
<circle cx="370.2" cy="430.9" r="2.8" fill="#000"/>
<circle cx="371.1" cy="438.5" r="2.8" fill="#000"/>
<circle cx="376.2" cy="441.1" r="2.8" fill="#000"/>
<circle cx="371.9" cy="447" r="2.8" fill="#000"/>
<circle cx="377" cy="450.4" r="2.8" fill="#000"/>
<circle cx="372.8" cy="458.1" r="2.8" fill="#000"/>
<circle cx="374" cy="436" r="2.8" fill="#000"/>
<circle cx="375" cy="444" r="2.8" fill="#000"/>
<circle cx="384.7" cy="478.5" r="2.6" fill="#000"/>
<circle cx="388.9" cy="487.5" r="2.6" fill="#000"/>
<circle cx="391.5" cy="490.4" r="2.6" fill="#000"/>
<circle cx="422.1" cy="493.8" r="2.6" fill="#000"/>
<circle cx="425.5" cy="495.5" r="2.6" fill="#000"/>
<circle cx="428" cy="496.3" r="2.6" fill="#000"/>
<circle cx="430.1" cy="490.4" r="2.6" fill="#000"/>
<circle cx="431.8" cy="493.3" r="2.6" fill="#000"/>
<circle cx="434" cy="498.4" r="2.6" fill="#000"/>
<circle cx="437.9" cy="501.1" r="2.6" fill="#000"/>
<circle cx="444.2" cy="502.3" r="2.6" fill="#000"/>
<circle cx="451" cy="506" r="2.6" fill="#000"/>
<circle cx="453.5" cy="507.9" r="2.6" fill="#000"/>
<circle cx="458.6" cy="508.2" r="2.6" fill="#000"/>
<circle cx="460.3" cy="502.3" r="2.6" fill="#000"/>
<circle cx="464.1" cy="508.2" r="2.6" fill="#000"/>
<polyline points="311.7,407.4 363.9,407.4 366.4,409.4 379.4,470 386.4,504.8" fill="none" stroke="#ff2020" stroke-width="1.2" stroke-linejoin="round"/>
<text x="417.8" y="513" font-size="9" fill="#111" stroke="#111" stroke-width="0.25">t</text>
<text x="420.3" y="508.05" font-size="6.12" fill="#111" stroke="#111" stroke-width="0.15">-0.38</text>
<circle cx="302.2" cy="497.8" r="2.4" fill="#000"/>
<path d="M302.2 506.3L299.7 510.8L304.7 510.8Z" fill="#0000f0"/>
<text x="315.1" y="501" font-size="8.4" font-weight="bold" fill="#000" stroke="#000" stroke-width="0.25">XRT</text>
<text x="315.1" y="512.2" font-size="8.4" font-weight="bold" fill="#0000f0" stroke="#0000f0" stroke-width="0.25">BAT</text>
<rect x="537.5" y="383.5" width="191" height="141" fill="none" stroke="#555" stroke-width="1.5"/>
<path d="M539.61 524.5v-2 M539.61 383.3v2 M542.09 524.5v-2 M542.09 383.3v2 M544.12 524.5v-2 M544.12 383.3v2 M545.83 524.5v-2 M545.83 383.3v2 M547.31 524.5v-2 M547.31 383.3v2 M548.62 524.5v-2 M548.62 383.3v2 M549.79 524.5v-4 M549.79 383.3v4 M557.5 524.5v-2 M557.5 383.3v2 M562 524.5v-2 M562 383.3v2 M565.2 524.5v-2 M565.2 383.3v2 M567.68 524.5v-2 M567.68 383.3v2 M569.7 524.5v-2 M569.7 383.3v2 M571.42 524.5v-2 M571.42 383.3v2 M572.9 524.5v-2 M572.9 383.3v2 M574.21 524.5v-2 M574.21 383.3v2 M575.38 524.5v-4 M575.38 383.3v4 M583.08 524.5v-2 M583.08 383.3v2 M587.59 524.5v-2 M587.59 383.3v2 M590.78 524.5v-2 M590.78 383.3v2 M593.26 524.5v-2 M593.26 383.3v2 M595.29 524.5v-2 M595.29 383.3v2 M597 524.5v-2 M597 383.3v2 M598.49 524.5v-2 M598.49 383.3v2 M599.8 524.5v-2 M599.8 383.3v2 M600.97 524.5v-4 M600.97 383.3v4 M608.67 524.5v-2 M608.67 383.3v2 M613.17 524.5v-2 M613.17 383.3v2 M616.37 524.5v-2 M616.37 383.3v2 M618.85 524.5v-2 M618.85 383.3v2 M620.88 524.5v-2 M620.88 383.3v2 M622.59 524.5v-2 M622.59 383.3v2 M624.07 524.5v-2 M624.07 383.3v2 M625.38 524.5v-2 M625.38 383.3v2 M626.55 524.5v-4 M626.55 383.3v4 M634.26 524.5v-2 M634.26 383.3v2 M638.76 524.5v-2 M638.76 383.3v2 M641.96 524.5v-2 M641.96 383.3v2 M644.44 524.5v-2 M644.44 383.3v2 M646.46 524.5v-2 M646.46 383.3v2 M648.18 524.5v-2 M648.18 383.3v2 M649.66 524.5v-2 M649.66 383.3v2 M650.97 524.5v-2 M650.97 383.3v2 M652.14 524.5v-4 M652.14 383.3v4 M659.84 524.5v-2 M659.84 383.3v2 M664.35 524.5v-2 M664.35 383.3v2 M667.54 524.5v-2 M667.54 383.3v2 M670.02 524.5v-2 M670.02 383.3v2 M672.05 524.5v-2 M672.05 383.3v2 M673.76 524.5v-2 M673.76 383.3v2 M675.25 524.5v-2 M675.25 383.3v2 M676.56 524.5v-2 M676.56 383.3v2 M677.73 524.5v-4 M677.73 383.3v4 M685.43 524.5v-2 M685.43 383.3v2 M689.93 524.5v-2 M689.93 383.3v2 M693.13 524.5v-2 M693.13 383.3v2 M695.61 524.5v-2 M695.61 383.3v2 M697.64 524.5v-2 M697.64 383.3v2 M699.35 524.5v-2 M699.35 383.3v2 M700.83 524.5v-2 M700.83 383.3v2 M702.14 524.5v-2 M702.14 383.3v2 M703.31 524.5v-4 M703.31 383.3v4 M711.02 524.5v-2 M711.02 383.3v2 M715.52 524.5v-2 M715.52 383.3v2 M718.72 524.5v-2 M718.72 383.3v2 M721.2 524.5v-2 M721.2 383.3v2 M723.22 524.5v-2 M723.22 383.3v2 M724.94 524.5v-2 M724.94 383.3v2 M726.42 524.5v-2 M726.42 383.3v2 M727.73 524.5v-2 M727.73 383.3v2 M728.9 524.5v-4 M728.9 383.3v4 M537 524.5h4 M728.9 524.5h-4 M537 519.19h2 M728.9 519.19h-2 M537 516.08h2 M728.9 516.08h-2 M537 513.87h2 M728.9 513.87h-2 M537 512.16h2 M728.9 512.16h-2 M537 510.77h2 M728.9 510.77h-2 M537 509.58h2 M728.9 509.58h-2 M537 508.56h2 M728.9 508.56h-2 M537 507.66h2 M728.9 507.66h-2 M537 506.85h4 M728.9 506.85h-4 M537 501.54h2 M728.9 501.54h-2 M537 498.43h2 M728.9 498.43h-2 M537 496.22h2 M728.9 496.22h-2 M537 494.51h2 M728.9 494.51h-2 M537 493.12h2 M728.9 493.12h-2 M537 491.93h2 M728.9 491.93h-2 M537 490.91h2 M728.9 490.91h-2 M537 490.01h2 M728.9 490.01h-2 M537 489.2h4 M728.9 489.2h-4 M537 483.89h2 M728.9 483.89h-2 M537 480.78h2 M728.9 480.78h-2 M537 478.57h2 M728.9 478.57h-2 M537 476.86h2 M728.9 476.86h-2 M537 475.47h2 M728.9 475.47h-2 M537 474.28h2 M728.9 474.28h-2 M537 473.26h2 M728.9 473.26h-2 M537 472.36h2 M728.9 472.36h-2 M537 471.55h4 M728.9 471.55h-4 M537 466.24h2 M728.9 466.24h-2 M537 463.13h2 M728.9 463.13h-2 M537 460.92h2 M728.9 460.92h-2 M537 459.21h2 M728.9 459.21h-2 M537 457.82h2 M728.9 457.82h-2 M537 456.63h2 M728.9 456.63h-2 M537 455.61h2 M728.9 455.61h-2 M537 454.71h2 M728.9 454.71h-2 M537 453.9h4 M728.9 453.9h-4 M537 448.59h2 M728.9 448.59h-2 M537 445.48h2 M728.9 445.48h-2 M537 443.27h2 M728.9 443.27h-2 M537 441.56h2 M728.9 441.56h-2 M537 440.17h2 M728.9 440.17h-2 M537 438.98h2 M728.9 438.98h-2 M537 437.96h2 M728.9 437.96h-2 M537 437.06h2 M728.9 437.06h-2 M537 436.25h4 M728.9 436.25h-4 M537 430.94h2 M728.9 430.94h-2 M537 427.83h2 M728.9 427.83h-2 M537 425.62h2 M728.9 425.62h-2 M537 423.91h2 M728.9 423.91h-2 M537 422.52h2 M728.9 422.52h-2 M537 421.33h2 M728.9 421.33h-2 M537 420.31h2 M728.9 420.31h-2 M537 419.41h2 M728.9 419.41h-2 M537 418.6h4 M728.9 418.6h-4 M537 413.29h2 M728.9 413.29h-2 M537 410.18h2 M728.9 410.18h-2 M537 407.97h2 M728.9 407.97h-2 M537 406.26h2 M728.9 406.26h-2 M537 404.87h2 M728.9 404.87h-2 M537 403.68h2 M728.9 403.68h-2 M537 402.66h2 M728.9 402.66h-2 M537 401.76h2 M728.9 401.76h-2 M537 400.95h4 M728.9 400.95h-4 M537 395.64h2 M728.9 395.64h-2 M537 392.53h2 M728.9 392.53h-2 M537 390.32h2 M728.9 390.32h-2 M537 388.61h2 M728.9 388.61h-2 M537 387.22h2 M728.9 387.22h-2 M537 386.03h2 M728.9 386.03h-2 M537 385.01h2 M728.9 385.01h-2 M537 384.11h2 M728.9 384.11h-2 M537 383.3h4 M728.9 383.3h-4" stroke="#222" stroke-width="1" fill="none"/>
<text x="542.59" y="536.9" font-size="9.2" fill="#111" stroke="#111" stroke-width="0.25" textLength="9" lengthAdjust="spacingAndGlyphs">10</text>
<text x="552.19" y="531.9" font-size="5.4" fill="#111" stroke="#111" stroke-width="0.15">-1</text>
<text x="569.08" y="536.9" font-size="9.2" fill="#111" stroke="#111" stroke-width="0.25" textLength="9" lengthAdjust="spacingAndGlyphs">10</text>
<text x="578.68" y="531.9" font-size="5.4" fill="#111" stroke="#111" stroke-width="0.15">0</text>
<text x="594.67" y="536.9" font-size="9.2" fill="#111" stroke="#111" stroke-width="0.25" textLength="9" lengthAdjust="spacingAndGlyphs">10</text>
<text x="604.27" y="531.9" font-size="5.4" fill="#111" stroke="#111" stroke-width="0.15">1</text>
<text x="620.25" y="536.9" font-size="9.2" fill="#111" stroke="#111" stroke-width="0.25" textLength="9" lengthAdjust="spacingAndGlyphs">10</text>
<text x="629.85" y="531.9" font-size="5.4" fill="#111" stroke="#111" stroke-width="0.15">2</text>
<text x="645.84" y="536.9" font-size="9.2" fill="#111" stroke="#111" stroke-width="0.25" textLength="9" lengthAdjust="spacingAndGlyphs">10</text>
<text x="655.44" y="531.9" font-size="5.4" fill="#111" stroke="#111" stroke-width="0.15">3</text>
<text x="671.43" y="536.9" font-size="9.2" fill="#111" stroke="#111" stroke-width="0.25" textLength="9" lengthAdjust="spacingAndGlyphs">10</text>
<text x="681.03" y="531.9" font-size="5.4" fill="#111" stroke="#111" stroke-width="0.15">4</text>
<text x="697.01" y="536.9" font-size="9.2" fill="#111" stroke="#111" stroke-width="0.25" textLength="9" lengthAdjust="spacingAndGlyphs">10</text>
<text x="706.61" y="531.9" font-size="5.4" fill="#111" stroke="#111" stroke-width="0.15">5</text>
<text x="722.6" y="536.9" font-size="9.2" fill="#111" stroke="#111" stroke-width="0.25" textLength="9" lengthAdjust="spacingAndGlyphs">10</text>
<text x="732.2" y="531.9" font-size="5.4" fill="#111" stroke="#111" stroke-width="0.15">6</text>
<text x="516.29" y="527.9" font-size="9.2" fill="#111" stroke="#111" stroke-width="0.25" textLength="9" lengthAdjust="spacingAndGlyphs">10</text>
<text x="525.89" y="522.9" font-size="5.4" fill="#111" stroke="#111" stroke-width="0.15">-15</text>
<text x="516.29" y="492.6" font-size="9.2" fill="#111" stroke="#111" stroke-width="0.25" textLength="9" lengthAdjust="spacingAndGlyphs">10</text>
<text x="525.89" y="487.6" font-size="5.4" fill="#111" stroke="#111" stroke-width="0.15">-13</text>
<text x="516.7" y="457.3" font-size="9.2" fill="#111" stroke="#111" stroke-width="0.25" textLength="9" lengthAdjust="spacingAndGlyphs">10</text>
<text x="526.3" y="452.3" font-size="5.4" fill="#111" stroke="#111" stroke-width="0.15">-11</text>
<text x="519.3" y="422" font-size="9.2" fill="#111" stroke="#111" stroke-width="0.25" textLength="9" lengthAdjust="spacingAndGlyphs">10</text>
<text x="528.9" y="417" font-size="5.4" fill="#111" stroke="#111" stroke-width="0.15">-9</text>
<text x="519.3" y="386.7" font-size="9.2" fill="#111" stroke="#111" stroke-width="0.25" textLength="9" lengthAdjust="spacingAndGlyphs">10</text>
<text x="528.9" y="381.7" font-size="5.4" fill="#111" stroke="#111" stroke-width="0.15">-7</text>
<text x="579.6" y="550" font-size="11.6" fill="#111" stroke="#111" stroke-width="0.25" textLength="112" lengthAdjust="spacingAndGlyphs">Time Since Trigger (s)</text>
<g transform="translate(510.6 450.4) rotate(-90) scale(0.97 1)">
<text x="0" y="0" font-size="11.6" text-anchor="middle" fill="#111" stroke="#111" stroke-width="0.25">Flux (erg cm<tspan font-size="6.8" dy="-5.2">-2</tspan><tspan dy="5.2"> s</tspan><tspan font-size="6.8" dy="-5.2">-1</tspan><tspan dy="5.2">)</tspan></text>
</g>
<text x="665.7" y="402.3" font-size="12.2" fill="#111" stroke="#111" stroke-width="0.25" textLength="37" lengthAdjust="spacingAndGlyphs">071227</text>
<polyline points="631.2,449.3 721,523.9" fill="none" stroke="#a8f0a8" stroke-width="0.9" stroke-linejoin="round"/>
<polyline points="537,400.1 545,400.1" fill="none" stroke="#5050ff" stroke-width="0.8" stroke-linejoin="round"/>
<path d="M546.8 401.8H554 M546.8 400.3v3 M554 400.3v3" stroke="#7f7fff" stroke-width="0.8" fill="none"/>
<path d="M580 403V410 M578.5 403h3 M578.5 410h3" stroke="#7f7fff" stroke-width="0.8" fill="none"/>
<path d="M590.1 405V412 M588.6 405h3 M588.6 412h3" stroke="#7f7fff" stroke-width="0.8" fill="none"/>
<path d="M599.9 408V414 M598.4 408h3 M598.4 414h3" stroke="#7f7fff" stroke-width="0.8" fill="none"/>
<path d="M618.6 412V419 M617.1 412h3 M617.1 419h3" stroke="#7f7fff" stroke-width="0.8" fill="none"/>
<path d="M541.9 397.15L539.5 401.57L544.3 401.57Z" fill="#0000f0"/>
<path d="M550.9 399.15L548.5 403.57L553.3 403.57Z" fill="#0000f0"/>
<path d="M556.3 393.75L553.9 398.17L558.7 398.17Z" fill="#0000f0"/>
<path d="M559 393.75L556.6 398.17L561.4 398.17Z" fill="#0000f0"/>
<path d="M562.3 397.45L559.9 401.87L564.7 401.87Z" fill="#0000f0"/>
<path d="M563.9 396.65L561.5 401.07L566.3 401.07Z" fill="#0000f0"/>
<path d="M566.4 390.95L564 395.37L568.8 395.37Z" fill="#0000f0"/>
<path d="M568.8 395.85L566.4 400.27L571.2 400.27Z" fill="#0000f0"/>
<path d="M571.3 393.45L568.9 397.87L573.7 397.87Z" fill="#0000f0"/>
<path d="M572.9 395.05L570.5 399.47L575.3 399.47Z" fill="#0000f0"/>
<path d="M572.1 392.55L569.7 396.97L574.5 396.97Z" fill="#0000f0"/>
<path d="M576.2 400.75L573.8 405.17L578.6 405.17Z" fill="#0000f0"/>
<path d="M578.6 398.35L576.2 402.77L581 402.77Z" fill="#0000f0"/>
<path d="M581.1 400.75L578.7 405.17L583.5 405.17Z" fill="#0000f0"/>
<path d="M583.5 403.25L581.1 407.67L585.9 407.67Z" fill="#0000f0"/>
<path d="M577.8 403.25L575.4 407.67L580.2 407.67Z" fill="#0000f0"/>
<path d="M580.3 404.05L577.9 408.47L582.7 408.47Z" fill="#0000f0"/>
<path d="M579 401.35L576.6 405.77L581.4 405.77Z" fill="#0000f0"/>
<path d="M582 399.35L579.6 403.77L584.4 403.77Z" fill="#0000f0"/>
<path d="M588.4 403.25L586 407.67L590.8 407.67Z" fill="#0000f0"/>
<path d="M590.1 405.65L587.7 410.07L592.5 410.07Z" fill="#0000f0"/>
<path d="M593.3 406.45L590.9 410.87L595.7 410.87Z" fill="#0000f0"/>
<path d="M599.9 408.15L597.5 412.57L602.3 412.57Z" fill="#0000f0"/>
<path d="M605.6 405.65L603.2 410.07L608 410.07Z" fill="#0000f0"/>
<path d="M608.8 408.15L606.4 412.57L611.2 412.57Z" fill="#0000f0"/>
<path d="M611.3 404.85L608.9 409.27L613.7 409.27Z" fill="#0000f0"/>
<path d="M613.7 404.05L611.3 408.47L616.1 408.47Z" fill="#0000f0"/>
<path d="M617 408.95L614.6 413.37L619.4 413.37Z" fill="#0000f0"/>
<path d="M618.6 413.05L616.2 417.47L621 417.47Z" fill="#0000f0"/>
<path d="M621.1 408.15L618.7 412.57L623.5 412.57Z" fill="#0000f0"/>
<path d="M623.5 410.55L621.1 414.97L625.9 414.97Z" fill="#0000f0"/>
<path d="M625.2 409.75L622.8 414.17L627.6 414.17Z" fill="#0000f0"/>
<path d="M586 404.35L583.6 408.77L588.4 408.77Z" fill="#0000f0"/>
<path d="M596 406.35L593.6 410.77L598.4 410.77Z" fill="#0000f0"/>
<path d="M603 407.35L600.6 411.77L605.4 411.77Z" fill="#0000f0"/>
<path d="M610 406.35L607.6 410.77L612.4 410.77Z" fill="#0000f0"/>
<path d="M615 405.35L612.6 409.77L617.4 409.77Z" fill="#0000f0"/>
<path d="M620 411.35L617.6 415.77L622.4 415.77Z" fill="#0000f0"/>
<path d="M584 400.35L581.6 404.77L586.4 404.77Z" fill="#0000f0"/>
<path d="M574 399.35L571.6 403.77L576.4 403.77Z" fill="#0000f0"/>
<path d="M570 396.35L567.6 400.77L572.4 400.77Z" fill="#0000f0"/>
<polyline points="590.9,407.2 620.3,412.4 622,413.5 623.5,415.7 645.6,460.1" fill="none" stroke="#ff2020" stroke-width="1.2" stroke-linejoin="round"/>
<polyline points="623.5,418 628.4,423 632.5,427.1 634.6,432 635.8,436" fill="none" stroke="#000" stroke-width="5" stroke-linejoin="round" stroke-linecap="round"/>
<circle cx="630.9" cy="423" r="2.6" fill="#000"/>
<circle cx="634.1" cy="425.4" r="2.6" fill="#000"/>
<circle cx="633.3" cy="429.5" r="2.6" fill="#000"/>
<circle cx="636" cy="431" r="2.6" fill="#000"/>
<circle cx="626" cy="420" r="2.6" fill="#000"/>
<path d="M640.2 460.2H649.2 M640.2 458.7v3 M649.2 458.7v3" stroke="#a0a0a0" stroke-width="0.8" fill="none"/>
<path d="M668 485.8H684.8 M668 484.3v3 M684.8 484.3v3" stroke="#a0a0a0" stroke-width="0.8" fill="none"/>
<path d="M685.9 507.1H714.5 M685.9 505.6v3 M714.5 505.6v3 M700.3 505V510 M698.8 505h3 M698.8 510h3" stroke="#a0a0a0" stroke-width="0.8" fill="none"/>
<circle cx="636.9" cy="439.8" r="2.1" fill="#000"/>
<circle cx="639.4" cy="450.9" r="2.1" fill="#000"/>
<circle cx="643.5" cy="460.2" r="2.1" fill="#000"/>
<circle cx="678.6" cy="485.8" r="2.1" fill="#000"/>
<circle cx="700.3" cy="507.1" r="2.1" fill="#000"/>
<text x="645.1" y="488" font-size="10" fill="#111" stroke="#111" stroke-width="0.25">t</text>
<text x="647.88" y="482.5" font-size="6.8" fill="#111" stroke="#111" stroke-width="0.15">-1.18</text>
<circle cx="551" cy="500.2" r="1.9" fill="#000"/>
<path d="M551 509.44L549 513.04L553 513.04Z" fill="#0000f0"/>
<text x="563.8" y="503.2" font-size="8.4" font-weight="bold" fill="#000" stroke="#000" stroke-width="0.25">XRT</text>
<text x="563.8" y="514.4" font-size="8.4" font-weight="bold" fill="#0000f0" stroke="#0000f0" stroke-width="0.25">BAT</text>
<rect x="38.5" y="568.5" width="192" height="142" fill="none" stroke="#555" stroke-width="1.5"/>
<path d="M38.5 710v-4 M38.5 568.6v4 M47.02 710v-2 M47.02 568.6v2 M52.01 710v-2 M52.01 568.6v2 M55.55 710v-2 M55.55 568.6v2 M58.29 710v-2 M58.29 568.6v2 M60.54 710v-2 M60.54 568.6v2 M62.43 710v-2 M62.43 568.6v2 M64.07 710v-2 M64.07 568.6v2 M65.52 710v-2 M65.52 568.6v2 M66.82 710v-4 M66.82 568.6v4 M75.34 710v-2 M75.34 568.6v2 M80.33 710v-2 M80.33 568.6v2 M83.87 710v-2 M83.87 568.6v2 M86.61 710v-2 M86.61 568.6v2 M88.85 710v-2 M88.85 568.6v2 M90.75 710v-2 M90.75 568.6v2 M92.39 710v-2 M92.39 568.6v2 M93.84 710v-2 M93.84 568.6v2 M95.14 710v-4 M95.14 568.6v4 M103.66 710v-2 M103.66 568.6v2 M108.65 710v-2 M108.65 568.6v2 M112.19 710v-2 M112.19 568.6v2 M114.93 710v-2 M114.93 568.6v2 M117.17 710v-2 M117.17 568.6v2 M119.07 710v-2 M119.07 568.6v2 M120.71 710v-2 M120.71 568.6v2 M122.16 710v-2 M122.16 568.6v2 M123.46 710v-4 M123.46 568.6v4 M131.98 710v-2 M131.98 568.6v2 M136.97 710v-2 M136.97 568.6v2 M140.51 710v-2 M140.51 568.6v2 M143.25 710v-2 M143.25 568.6v2 M145.49 710v-2 M145.49 568.6v2 M147.39 710v-2 M147.39 568.6v2 M149.03 710v-2 M149.03 568.6v2 M150.48 710v-2 M150.48 568.6v2 M151.77 710v-4 M151.77 568.6v4 M160.3 710v-2 M160.3 568.6v2 M165.29 710v-2 M165.29 568.6v2 M168.82 710v-2 M168.82 568.6v2 M171.57 710v-2 M171.57 568.6v2 M173.81 710v-2 M173.81 568.6v2 M175.71 710v-2 M175.71 568.6v2 M177.35 710v-2 M177.35 568.6v2 M178.8 710v-2 M178.8 568.6v2 M180.09 710v-4 M180.09 568.6v4 M188.62 710v-2 M188.62 568.6v2 M193.6 710v-2 M193.6 568.6v2 M197.14 710v-2 M197.14 568.6v2 M199.89 710v-2 M199.89 568.6v2 M202.13 710v-2 M202.13 568.6v2 M204.02 710v-2 M204.02 568.6v2 M205.67 710v-2 M205.67 568.6v2 M207.12 710v-2 M207.12 568.6v2 M208.41 710v-4 M208.41 568.6v4 M216.94 710v-2 M216.94 568.6v2 M221.92 710v-2 M221.92 568.6v2 M225.46 710v-2 M225.46 568.6v2 M228.21 710v-2 M228.21 568.6v2 M230.45 710v-2 M230.45 568.6v2 M38.5 710h4 M230.5 710h-4 M38.5 703.92h2 M230.5 703.92h-2 M38.5 700.36h2 M230.5 700.36h-2 M38.5 697.84h2 M230.5 697.84h-2 M38.5 695.88h2 M230.5 695.88h-2 M38.5 694.28h2 M230.5 694.28h-2 M38.5 692.93h2 M230.5 692.93h-2 M38.5 691.76h2 M230.5 691.76h-2 M38.5 690.72h2 M230.5 690.72h-2 M38.5 689.8h4 M230.5 689.8h-4 M38.5 683.72h2 M230.5 683.72h-2 M38.5 680.16h2 M230.5 680.16h-2 M38.5 677.64h2 M230.5 677.64h-2 M38.5 675.68h2 M230.5 675.68h-2 M38.5 674.08h2 M230.5 674.08h-2 M38.5 672.73h2 M230.5 672.73h-2 M38.5 671.56h2 M230.5 671.56h-2 M38.5 670.52h2 M230.5 670.52h-2 M38.5 669.6h4 M230.5 669.6h-4 M38.5 663.52h2 M230.5 663.52h-2 M38.5 659.96h2 M230.5 659.96h-2 M38.5 657.44h2 M230.5 657.44h-2 M38.5 655.48h2 M230.5 655.48h-2 M38.5 653.88h2 M230.5 653.88h-2 M38.5 652.53h2 M230.5 652.53h-2 M38.5 651.36h2 M230.5 651.36h-2 M38.5 650.32h2 M230.5 650.32h-2 M38.5 649.4h4 M230.5 649.4h-4 M38.5 643.32h2 M230.5 643.32h-2 M38.5 639.76h2 M230.5 639.76h-2 M38.5 637.24h2 M230.5 637.24h-2 M38.5 635.28h2 M230.5 635.28h-2 M38.5 633.68h2 M230.5 633.68h-2 M38.5 632.33h2 M230.5 632.33h-2 M38.5 631.16h2 M230.5 631.16h-2 M38.5 630.12h2 M230.5 630.12h-2 M38.5 629.2h4 M230.5 629.2h-4 M38.5 623.12h2 M230.5 623.12h-2 M38.5 619.56h2 M230.5 619.56h-2 M38.5 617.04h2 M230.5 617.04h-2 M38.5 615.08h2 M230.5 615.08h-2 M38.5 613.48h2 M230.5 613.48h-2 M38.5 612.13h2 M230.5 612.13h-2 M38.5 610.96h2 M230.5 610.96h-2 M38.5 609.92h2 M230.5 609.92h-2 M38.5 609h4 M230.5 609h-4 M38.5 602.92h2 M230.5 602.92h-2 M38.5 599.36h2 M230.5 599.36h-2 M38.5 596.84h2 M230.5 596.84h-2 M38.5 594.88h2 M230.5 594.88h-2 M38.5 593.28h2 M230.5 593.28h-2 M38.5 591.93h2 M230.5 591.93h-2 M38.5 590.76h2 M230.5 590.76h-2 M38.5 589.72h2 M230.5 589.72h-2 M38.5 588.8h4 M230.5 588.8h-4 M38.5 582.72h2 M230.5 582.72h-2 M38.5 579.16h2 M230.5 579.16h-2 M38.5 576.64h2 M230.5 576.64h-2 M38.5 574.68h2 M230.5 574.68h-2 M38.5 573.08h2 M230.5 573.08h-2 M38.5 571.73h2 M230.5 571.73h-2 M38.5 570.56h2 M230.5 570.56h-2 M38.5 569.52h2 M230.5 569.52h-2 M38.5 568.6h4 M230.5 568.6h-4" stroke="#222" stroke-width="1" fill="none"/>
<text x="31.3" y="722.4" font-size="9.2" fill="#111" stroke="#111" stroke-width="0.25" textLength="9" lengthAdjust="spacingAndGlyphs">10</text>
<text x="40.9" y="717.4" font-size="5.4" fill="#111" stroke="#111" stroke-width="0.15">-2</text>
<text x="59.62" y="722.4" font-size="9.2" fill="#111" stroke="#111" stroke-width="0.25" textLength="9" lengthAdjust="spacingAndGlyphs">10</text>
<text x="69.22" y="717.4" font-size="5.4" fill="#111" stroke="#111" stroke-width="0.15">-1</text>
<text x="88.84" y="722.4" font-size="9.2" fill="#111" stroke="#111" stroke-width="0.25" textLength="9" lengthAdjust="spacingAndGlyphs">10</text>
<text x="98.44" y="717.4" font-size="5.4" fill="#111" stroke="#111" stroke-width="0.15">0</text>
<text x="117.15" y="722.4" font-size="9.2" fill="#111" stroke="#111" stroke-width="0.25" textLength="9" lengthAdjust="spacingAndGlyphs">10</text>
<text x="126.75" y="717.4" font-size="5.4" fill="#111" stroke="#111" stroke-width="0.15">1</text>
<text x="145.47" y="722.4" font-size="9.2" fill="#111" stroke="#111" stroke-width="0.25" textLength="9" lengthAdjust="spacingAndGlyphs">10</text>
<text x="155.07" y="717.4" font-size="5.4" fill="#111" stroke="#111" stroke-width="0.15">2</text>
<text x="173.79" y="722.4" font-size="9.2" fill="#111" stroke="#111" stroke-width="0.25" textLength="9" lengthAdjust="spacingAndGlyphs">10</text>
<text x="183.39" y="717.4" font-size="5.4" fill="#111" stroke="#111" stroke-width="0.15">3</text>
<text x="202.11" y="722.4" font-size="9.2" fill="#111" stroke="#111" stroke-width="0.25" textLength="9" lengthAdjust="spacingAndGlyphs">10</text>
<text x="211.71" y="717.4" font-size="5.4" fill="#111" stroke="#111" stroke-width="0.15">4</text>
<text x="17.79" y="713.4" font-size="9.2" fill="#111" stroke="#111" stroke-width="0.25" textLength="9" lengthAdjust="spacingAndGlyphs">10</text>
<text x="27.39" y="708.4" font-size="5.4" fill="#111" stroke="#111" stroke-width="0.15">-14</text>
<text x="17.79" y="673" font-size="9.2" fill="#111" stroke="#111" stroke-width="0.25" textLength="9" lengthAdjust="spacingAndGlyphs">10</text>
<text x="27.39" y="668" font-size="5.4" fill="#111" stroke="#111" stroke-width="0.15">-12</text>
<text x="17.79" y="632.6" font-size="9.2" fill="#111" stroke="#111" stroke-width="0.25" textLength="9" lengthAdjust="spacingAndGlyphs">10</text>
<text x="27.39" y="627.6" font-size="5.4" fill="#111" stroke="#111" stroke-width="0.15">-10</text>
<text x="20.8" y="592.2" font-size="9.2" fill="#111" stroke="#111" stroke-width="0.25" textLength="9" lengthAdjust="spacingAndGlyphs">10</text>
<text x="30.4" y="587.2" font-size="5.4" fill="#111" stroke="#111" stroke-width="0.15">-8</text>
<text x="73.6" y="736.5" font-size="11.6" fill="#111" stroke="#111" stroke-width="0.25" textLength="112" lengthAdjust="spacingAndGlyphs">Time Since Trigger (s)</text>
<g transform="translate(13.3 642.1) rotate(-90) scale(0.97 1)">
<text x="0" y="0" font-size="11.6" text-anchor="middle" fill="#111" stroke="#111" stroke-width="0.25">Flux (erg cm<tspan font-size="6.8" dy="-5.2">-2</tspan><tspan dy="5.2"> s</tspan><tspan font-size="6.8" dy="-5.2">-1</tspan><tspan dy="5.2">)</tspan></text>
</g>
<text x="162.7" y="587.7" font-size="12.2" fill="#111" stroke="#111" stroke-width="0.25" textLength="44.6" lengthAdjust="spacingAndGlyphs">080702A</text>
<path d="M47.5 582.7H64.5 M47.5 581.2v3 M64.5 581.2v3" stroke="#7f7fff" stroke-width="0.8" fill="none"/>
<path d="M65 586.4H70 M65 584.9v3 M70 584.9v3" stroke="#7f7fff" stroke-width="0.8" fill="none"/>
<path d="M80.2 590V603.4 M78.7 590h3 M78.7 603.4h3" stroke="#7f7fff" stroke-width="0.8" fill="none"/>
<path d="M85.9 590V602 M84.4 590h3 M84.4 602h3" stroke="#7f7fff" stroke-width="0.8" fill="none"/>
<path d="M77.2 585V591 M75.7 585h3 M75.7 591h3" stroke="#7f7fff" stroke-width="0.8" fill="none"/>
<path d="M83 588V594 M81.5 588h3 M81.5 594h3" stroke="#7f7fff" stroke-width="0.8" fill="none"/>
<path d="M58.4 579.61L55.6 584.76L61.2 584.76Z" fill="#0000f0"/>
<path d="M68.2 583.31L65.4 588.46L71 588.46Z" fill="#0000f0"/>
<path d="M77.2 585.01L74.4 590.16L80 590.16Z" fill="#0000f0"/>
<path d="M82.2 586.41L79.4 591.56L85 591.56Z" fill="#0000f0"/>
<path d="M80.2 590.11L77.4 595.26L83 595.26Z" fill="#0000f0"/>
<path d="M85.9 590.11L83.1 595.26L88.7 595.26Z" fill="#0000f0"/>
<path d="M82.9 588.01L80.1 593.16L85.7 593.16Z" fill="#0000f0"/>
<path d="M148.4 647.5H158.2 M148.4 646v3 M158.2 646v3" stroke="#a0a0a0" stroke-width="0.8" fill="none"/>
<path d="M175.4 684.6H218.5 M175.4 683.1v3 M218.5 683.1v3" stroke="#a0a0a0" stroke-width="0.8" fill="none"/>
<polyline points="128.3,638.3 170.9,654.2 174.6,657.2 182.9,678.9 194.1,707.4" fill="none" stroke="#ff2020" stroke-width="1.2" stroke-linejoin="round"/>
<circle cx="154.4" cy="647.5" r="2.6" fill="#000"/>
<circle cx="161.9" cy="651.2" r="2.6" fill="#000"/>
<circle cx="167.9" cy="652.7" r="2.6" fill="#000"/>
<circle cx="172.4" cy="656.2" r="2.6" fill="#000"/>
<circle cx="184.7" cy="684.6" r="2.6" fill="#000"/>
<circle cx="55.1" cy="685.2" r="2.3" fill="#000"/>
<path d="M55.1 692.9L52.6 697.4L57.6 697.4Z" fill="#0000f0"/>
<text x="67.1" y="688.2" font-size="8.4" fill="#000" stroke="#000" stroke-width="0.25">XRT</text>
<text x="67.1" y="698.1" font-size="8.4" fill="#0000f0" stroke="#0000f0" stroke-width="0.25">BAT</text>
<rect x="288.5" y="568.5" width="192" height="142" fill="none" stroke="#555" stroke-width="1.5"/>
<path d="M288.8 710v-4 M288.8 568.6v4 M296.31 710v-2 M296.31 568.6v2 M300.7 710v-2 M300.7 568.6v2 M303.82 710v-2 M303.82 568.6v2 M306.24 710v-2 M306.24 568.6v2 M308.21 710v-2 M308.21 568.6v2 M309.88 710v-2 M309.88 568.6v2 M311.33 710v-2 M311.33 568.6v2 M312.61 710v-2 M312.61 568.6v2 M313.75 710v-4 M313.75 568.6v4 M321.26 710v-2 M321.26 568.6v2 M325.65 710v-2 M325.65 568.6v2 M328.77 710v-2 M328.77 568.6v2 M331.19 710v-2 M331.19 568.6v2 M333.16 710v-2 M333.16 568.6v2 M334.83 710v-2 M334.83 568.6v2 M336.28 710v-2 M336.28 568.6v2 M337.55 710v-2 M337.55 568.6v2 M338.7 710v-4 M338.7 568.6v4 M346.21 710v-2 M346.21 568.6v2 M350.6 710v-2 M350.6 568.6v2 M353.72 710v-2 M353.72 568.6v2 M356.13 710v-2 M356.13 568.6v2 M358.11 710v-2 M358.11 568.6v2 M359.78 710v-2 M359.78 568.6v2 M361.23 710v-2 M361.23 568.6v2 M362.5 710v-2 M362.5 568.6v2 M363.64 710v-4 M363.64 568.6v4 M371.15 710v-2 M371.15 568.6v2 M375.55 710v-2 M375.55 568.6v2 M378.66 710v-2 M378.66 568.6v2 M381.08 710v-2 M381.08 568.6v2 M383.06 710v-2 M383.06 568.6v2 M384.73 710v-2 M384.73 568.6v2 M386.17 710v-2 M386.17 568.6v2 M387.45 710v-2 M387.45 568.6v2 M388.59 710v-4 M388.59 568.6v4 M396.1 710v-2 M396.1 568.6v2 M400.5 710v-2 M400.5 568.6v2 M403.61 710v-2 M403.61 568.6v2 M406.03 710v-2 M406.03 568.6v2 M408.01 710v-2 M408.01 568.6v2 M409.68 710v-2 M409.68 568.6v2 M411.12 710v-2 M411.12 568.6v2 M412.4 710v-2 M412.4 568.6v2 M413.54 710v-4 M413.54 568.6v4 M421.05 710v-2 M421.05 568.6v2 M425.44 710v-2 M425.44 568.6v2 M428.56 710v-2 M428.56 568.6v2 M430.98 710v-2 M430.98 568.6v2 M432.95 710v-2 M432.95 568.6v2 M434.62 710v-2 M434.62 568.6v2 M436.07 710v-2 M436.07 568.6v2 M437.35 710v-2 M437.35 568.6v2 M438.49 710v-4 M438.49 568.6v4 M446 710v-2 M446 568.6v2 M450.39 710v-2 M450.39 568.6v2 M453.51 710v-2 M453.51 568.6v2 M455.93 710v-2 M455.93 568.6v2 M457.9 710v-2 M457.9 568.6v2 M459.57 710v-2 M459.57 568.6v2 M461.02 710v-2 M461.02 568.6v2 M462.29 710v-2 M462.29 568.6v2 M463.44 710v-4 M463.44 568.6v4 M470.95 710v-2 M470.95 568.6v2 M475.34 710v-2 M475.34 568.6v2 M478.46 710v-2 M478.46 568.6v2 M480.87 710v-2 M480.87 568.6v2 M288.8 710h4 M480.9 710h-4 M288.8 703.92h2 M480.9 703.92h-2 M288.8 700.36h2 M480.9 700.36h-2 M288.8 697.84h2 M480.9 697.84h-2 M288.8 695.88h2 M480.9 695.88h-2 M288.8 694.28h2 M480.9 694.28h-2 M288.8 692.93h2 M480.9 692.93h-2 M288.8 691.76h2 M480.9 691.76h-2 M288.8 690.72h2 M480.9 690.72h-2 M288.8 689.8h4 M480.9 689.8h-4 M288.8 683.72h2 M480.9 683.72h-2 M288.8 680.16h2 M480.9 680.16h-2 M288.8 677.64h2 M480.9 677.64h-2 M288.8 675.68h2 M480.9 675.68h-2 M288.8 674.08h2 M480.9 674.08h-2 M288.8 672.73h2 M480.9 672.73h-2 M288.8 671.56h2 M480.9 671.56h-2 M288.8 670.52h2 M480.9 670.52h-2 M288.8 669.6h4 M480.9 669.6h-4 M288.8 663.52h2 M480.9 663.52h-2 M288.8 659.96h2 M480.9 659.96h-2 M288.8 657.44h2 M480.9 657.44h-2 M288.8 655.48h2 M480.9 655.48h-2 M288.8 653.88h2 M480.9 653.88h-2 M288.8 652.53h2 M480.9 652.53h-2 M288.8 651.36h2 M480.9 651.36h-2 M288.8 650.32h2 M480.9 650.32h-2 M288.8 649.4h4 M480.9 649.4h-4 M288.8 643.32h2 M480.9 643.32h-2 M288.8 639.76h2 M480.9 639.76h-2 M288.8 637.24h2 M480.9 637.24h-2 M288.8 635.28h2 M480.9 635.28h-2 M288.8 633.68h2 M480.9 633.68h-2 M288.8 632.33h2 M480.9 632.33h-2 M288.8 631.16h2 M480.9 631.16h-2 M288.8 630.12h2 M480.9 630.12h-2 M288.8 629.2h4 M480.9 629.2h-4 M288.8 623.12h2 M480.9 623.12h-2 M288.8 619.56h2 M480.9 619.56h-2 M288.8 617.04h2 M480.9 617.04h-2 M288.8 615.08h2 M480.9 615.08h-2 M288.8 613.48h2 M480.9 613.48h-2 M288.8 612.13h2 M480.9 612.13h-2 M288.8 610.96h2 M480.9 610.96h-2 M288.8 609.92h2 M480.9 609.92h-2 M288.8 609h4 M480.9 609h-4 M288.8 602.92h2 M480.9 602.92h-2 M288.8 599.36h2 M480.9 599.36h-2 M288.8 596.84h2 M480.9 596.84h-2 M288.8 594.88h2 M480.9 594.88h-2 M288.8 593.28h2 M480.9 593.28h-2 M288.8 591.93h2 M480.9 591.93h-2 M288.8 590.76h2 M480.9 590.76h-2 M288.8 589.72h2 M480.9 589.72h-2 M288.8 588.8h4 M480.9 588.8h-4 M288.8 582.72h2 M480.9 582.72h-2 M288.8 579.16h2 M480.9 579.16h-2 M288.8 576.64h2 M480.9 576.64h-2 M288.8 574.68h2 M480.9 574.68h-2 M288.8 573.08h2 M480.9 573.08h-2 M288.8 571.73h2 M480.9 571.73h-2 M288.8 570.56h2 M480.9 570.56h-2 M288.8 569.52h2 M480.9 569.52h-2 M288.8 568.6h4 M480.9 568.6h-4" stroke="#222" stroke-width="1" fill="none"/>
<text x="281.6" y="722.4" font-size="9.2" fill="#111" stroke="#111" stroke-width="0.25" textLength="9" lengthAdjust="spacingAndGlyphs">10</text>
<text x="291.2" y="717.4" font-size="5.4" fill="#111" stroke="#111" stroke-width="0.15">-3</text>
<text x="306.55" y="722.4" font-size="9.2" fill="#111" stroke="#111" stroke-width="0.25" textLength="9" lengthAdjust="spacingAndGlyphs">10</text>
<text x="316.15" y="717.4" font-size="5.4" fill="#111" stroke="#111" stroke-width="0.15">-2</text>
<text x="331.5" y="722.4" font-size="9.2" fill="#111" stroke="#111" stroke-width="0.25" textLength="9" lengthAdjust="spacingAndGlyphs">10</text>
<text x="341.1" y="717.4" font-size="5.4" fill="#111" stroke="#111" stroke-width="0.15">-1</text>
<text x="357.34" y="722.4" font-size="9.2" fill="#111" stroke="#111" stroke-width="0.25" textLength="9" lengthAdjust="spacingAndGlyphs">10</text>
<text x="366.94" y="717.4" font-size="5.4" fill="#111" stroke="#111" stroke-width="0.15">0</text>
<text x="382.29" y="722.4" font-size="9.2" fill="#111" stroke="#111" stroke-width="0.25" textLength="9" lengthAdjust="spacingAndGlyphs">10</text>
<text x="391.89" y="717.4" font-size="5.4" fill="#111" stroke="#111" stroke-width="0.15">1</text>
<text x="407.24" y="722.4" font-size="9.2" fill="#111" stroke="#111" stroke-width="0.25" textLength="9" lengthAdjust="spacingAndGlyphs">10</text>
<text x="416.84" y="717.4" font-size="5.4" fill="#111" stroke="#111" stroke-width="0.15">2</text>
<text x="432.19" y="722.4" font-size="9.2" fill="#111" stroke="#111" stroke-width="0.25" textLength="9" lengthAdjust="spacingAndGlyphs">10</text>
<text x="441.79" y="717.4" font-size="5.4" fill="#111" stroke="#111" stroke-width="0.15">3</text>
<text x="457.13" y="722.4" font-size="9.2" fill="#111" stroke="#111" stroke-width="0.25" textLength="9" lengthAdjust="spacingAndGlyphs">10</text>
<text x="466.73" y="717.4" font-size="5.4" fill="#111" stroke="#111" stroke-width="0.15">4</text>
<text x="268.09" y="713.4" font-size="9.2" fill="#111" stroke="#111" stroke-width="0.25" textLength="9" lengthAdjust="spacingAndGlyphs">10</text>
<text x="277.69" y="708.4" font-size="5.4" fill="#111" stroke="#111" stroke-width="0.15">-13</text>
<text x="268.5" y="673" font-size="9.2" fill="#111" stroke="#111" stroke-width="0.25" textLength="9" lengthAdjust="spacingAndGlyphs">10</text>
<text x="278.1" y="668" font-size="5.4" fill="#111" stroke="#111" stroke-width="0.15">-11</text>
<text x="271.1" y="632.6" font-size="9.2" fill="#111" stroke="#111" stroke-width="0.25" textLength="9" lengthAdjust="spacingAndGlyphs">10</text>
<text x="280.7" y="627.6" font-size="5.4" fill="#111" stroke="#111" stroke-width="0.15">-9</text>
<text x="271.1" y="592.2" font-size="9.2" fill="#111" stroke="#111" stroke-width="0.25" textLength="9" lengthAdjust="spacingAndGlyphs">10</text>
<text x="280.7" y="587.2" font-size="5.4" fill="#111" stroke="#111" stroke-width="0.15">-7</text>
<text x="322.8" y="736.5" font-size="11.6" fill="#111" stroke="#111" stroke-width="0.25" textLength="112" lengthAdjust="spacingAndGlyphs">Time Since Trigger (s)</text>
<g transform="translate(263.3 643.1) rotate(-90) scale(0.97 1)">
<text x="0" y="0" font-size="11.6" text-anchor="middle" fill="#111" stroke="#111" stroke-width="0.25">Flux (erg cm<tspan font-size="6.8" dy="-5.2">-2</tspan><tspan dy="5.2"> s</tspan><tspan font-size="6.8" dy="-5.2">-1</tspan><tspan dy="5.2">)</tspan></text>
</g>
<text x="421.7" y="586.7" font-size="12.2" fill="#111" stroke="#111" stroke-width="0.25" textLength="45" lengthAdjust="spacingAndGlyphs">080905A</text>
<path d="M306.4 577.3H327.7 M306.4 575.8v3 M327.7 575.8v3" stroke="#7f7fff" stroke-width="0.8" fill="none"/>
<path d="M341.7 583V590 M340.2 583h3 M340.2 590h3" stroke="#7f7fff" stroke-width="0.8" fill="none"/>
<path d="M358.7 586V594.5 M357.2 586h3 M357.2 594.5h3" stroke="#7f7fff" stroke-width="0.8" fill="none"/>
<path d="M365.6 587V597.3 M364.1 587h3 M364.1 597.3h3" stroke="#7f7fff" stroke-width="0.8" fill="none"/>
<path d="M331 582.3H337 M331 580.8v3 M337 580.8v3" stroke="#7f7fff" stroke-width="0.8" fill="none"/>
<path d="M306.4 574.21L303.6 579.36L309.2 579.36Z" fill="#0000f0"/>
<path d="M334.3 579.21L331.5 584.36L337.1 584.36Z" fill="#0000f0"/>
<path d="M341.7 582.91L338.9 588.06L344.5 588.06Z" fill="#0000f0"/>
<path d="M345.8 577.81L343 582.96L348.6 582.96Z" fill="#0000f0"/>
<path d="M349 579.91L346.2 585.06L351.8 585.06Z" fill="#0000f0"/>
<path d="M362.8 577.11L360 582.26L365.6 582.26Z" fill="#0000f0"/>
<path d="M362.1 579.91L359.3 585.06L364.9 585.06Z" fill="#0000f0"/>
<path d="M361.5 583.31L358.7 588.46L364.3 588.46Z" fill="#0000f0"/>
<path d="M358.7 586.01L355.9 591.16L361.5 591.16Z" fill="#0000f0"/>
<path d="M364.2 586.01L361.4 591.16L367 591.16Z" fill="#0000f0"/>
<path d="M366.9 587.31L364.1 592.46L369.7 592.46Z" fill="#0000f0"/>
<path d="M363.5 581.91L360.7 587.06L366.3 587.06Z" fill="#0000f0"/>
<polyline points="315.2,580 375,589.3 387.7,591.2 390,592.5 392.2,594.2 414.7,633.9 447.6,699" fill="none" stroke="#ff2020" stroke-width="1.2" stroke-linejoin="round"/>
<path d="M440.9 689.3H478.3 M440.9 687.8v3 M478.3 687.8v3" stroke="#a0a0a0" stroke-width="0.8" fill="none"/>
<circle cx="414.7" cy="639.1" r="2.5" fill="#000"/>
<circle cx="416.9" cy="641.4" r="2.5" fill="#000"/>
<circle cx="419.9" cy="642.1" r="2.5" fill="#000"/>
<circle cx="421.7" cy="644.1" r="2.5" fill="#000"/>
<circle cx="423.7" cy="646.6" r="2.5" fill="#000"/>
<circle cx="422.2" cy="648.1" r="2.5" fill="#000"/>
<circle cx="425.6" cy="654.9" r="2.5" fill="#000"/>
<circle cx="428.1" cy="662.3" r="2.5" fill="#000"/>
<circle cx="431.6" cy="665" r="2.5" fill="#000"/>
<circle cx="435.2" cy="674.3" r="2.5" fill="#000"/>
<circle cx="440.9" cy="689.3" r="2.5" fill="#000"/>
<circle cx="309.3" cy="681.7" r="2.3" fill="#000"/>
<path d="M309.3 689.1L306.8 693.6L311.8 693.6Z" fill="#0000f0"/>
<text x="321" y="684.7" font-size="8.4" fill="#000" stroke="#000" stroke-width="0.25">XRT</text>
<text x="321" y="694.9" font-size="8.4" fill="#0000f0" stroke="#0000f0" stroke-width="0.25">BAT</text>
<rect x="536.5" y="568.5" width="192" height="142" fill="none" stroke="#555" stroke-width="1.5"/>
<path d="M536.9 710.2v-4 M536.9 568.9v4 M547.2 710.2v-2 M547.2 568.9v2 M553.23 710.2v-2 M553.23 568.9v2 M557.51 710.2v-2 M557.51 568.9v2 M560.83 710.2v-2 M560.83 568.9v2 M563.54 710.2v-2 M563.54 568.9v2 M565.83 710.2v-2 M565.83 568.9v2 M567.81 710.2v-2 M567.81 568.9v2 M569.57 710.2v-2 M569.57 568.9v2 M571.13 710.2v-4 M571.13 568.9v4 M581.44 710.2v-2 M581.44 568.9v2 M587.47 710.2v-2 M587.47 568.9v2 M591.74 710.2v-2 M591.74 568.9v2 M595.06 710.2v-2 M595.06 568.9v2 M597.77 710.2v-2 M597.77 568.9v2 M600.06 710.2v-2 M600.06 568.9v2 M602.05 710.2v-2 M602.05 568.9v2 M603.8 710.2v-2 M603.8 568.9v2 M605.36 710.2v-4 M605.36 568.9v4 M615.67 710.2v-2 M615.67 568.9v2 M621.7 710.2v-2 M621.7 568.9v2 M625.97 710.2v-2 M625.97 568.9v2 M629.29 710.2v-2 M629.29 568.9v2 M632 710.2v-2 M632 568.9v2 M634.29 710.2v-2 M634.29 568.9v2 M636.28 710.2v-2 M636.28 568.9v2 M638.03 710.2v-2 M638.03 568.9v2 M639.6 710.2v-4 M639.6 568.9v4 M649.9 710.2v-2 M649.9 568.9v2 M655.93 710.2v-2 M655.93 568.9v2 M660.21 710.2v-2 M660.21 568.9v2 M663.52 710.2v-2 M663.52 568.9v2 M666.23 710.2v-2 M666.23 568.9v2 M668.53 710.2v-2 M668.53 568.9v2 M670.51 710.2v-2 M670.51 568.9v2 M672.26 710.2v-2 M672.26 568.9v2 M673.83 710.2v-4 M673.83 568.9v4 M684.13 710.2v-2 M684.13 568.9v2 M690.16 710.2v-2 M690.16 568.9v2 M694.44 710.2v-2 M694.44 568.9v2 M697.76 710.2v-2 M697.76 568.9v2 M700.47 710.2v-2 M700.47 568.9v2 M702.76 710.2v-2 M702.76 568.9v2 M704.74 710.2v-2 M704.74 568.9v2 M706.49 710.2v-2 M706.49 568.9v2 M708.06 710.2v-4 M708.06 568.9v4 M718.37 710.2v-2 M718.37 568.9v2 M724.39 710.2v-2 M724.39 568.9v2 M536.9 710.2h4 M728.6 710.2h-4 M536.9 703.11h2 M728.6 703.11h-2 M536.9 698.96h2 M728.6 698.96h-2 M536.9 696.02h2 M728.6 696.02h-2 M536.9 693.74h2 M728.6 693.74h-2 M536.9 691.87h2 M728.6 691.87h-2 M536.9 690.3h2 M728.6 690.3h-2 M536.9 688.93h2 M728.6 688.93h-2 M536.9 687.73h2 M728.6 687.73h-2 M536.9 686.65h4 M728.6 686.65h-4 M536.9 679.56h2 M728.6 679.56h-2 M536.9 675.41h2 M728.6 675.41h-2 M536.9 672.47h2 M728.6 672.47h-2 M536.9 670.19h2 M728.6 670.19h-2 M536.9 668.32h2 M728.6 668.32h-2 M536.9 666.75h2 M728.6 666.75h-2 M536.9 665.38h2 M728.6 665.38h-2 M536.9 664.18h2 M728.6 664.18h-2 M536.9 663.1h4 M728.6 663.1h-4 M536.9 656.01h2 M728.6 656.01h-2 M536.9 651.86h2 M728.6 651.86h-2 M536.9 648.92h2 M728.6 648.92h-2 M536.9 646.64h2 M728.6 646.64h-2 M536.9 644.77h2 M728.6 644.77h-2 M536.9 643.2h2 M728.6 643.2h-2 M536.9 641.83h2 M728.6 641.83h-2 M536.9 640.63h2 M728.6 640.63h-2 M536.9 639.55h4 M728.6 639.55h-4 M536.9 632.46h2 M728.6 632.46h-2 M536.9 628.31h2 M728.6 628.31h-2 M536.9 625.37h2 M728.6 625.37h-2 M536.9 623.09h2 M728.6 623.09h-2 M536.9 621.22h2 M728.6 621.22h-2 M536.9 619.65h2 M728.6 619.65h-2 M536.9 618.28h2 M728.6 618.28h-2 M536.9 617.08h2 M728.6 617.08h-2 M536.9 616h4 M728.6 616h-4 M536.9 608.91h2 M728.6 608.91h-2 M536.9 604.76h2 M728.6 604.76h-2 M536.9 601.82h2 M728.6 601.82h-2 M536.9 599.54h2 M728.6 599.54h-2 M536.9 597.67h2 M728.6 597.67h-2 M536.9 596.1h2 M728.6 596.1h-2 M536.9 594.73h2 M728.6 594.73h-2 M536.9 593.53h2 M728.6 593.53h-2 M536.9 592.45h4 M728.6 592.45h-4 M536.9 585.36h2 M728.6 585.36h-2 M536.9 581.21h2 M728.6 581.21h-2 M536.9 578.27h2 M728.6 578.27h-2 M536.9 575.99h2 M728.6 575.99h-2 M536.9 574.12h2 M728.6 574.12h-2 M536.9 572.55h2 M728.6 572.55h-2 M536.9 571.18h2 M728.6 571.18h-2 M536.9 569.98h2 M728.6 569.98h-2 M536.9 568.9h4 M728.6 568.9h-4" stroke="#222" stroke-width="1" fill="none"/>
<text x="529.7" y="722.6" font-size="9.2" fill="#111" stroke="#111" stroke-width="0.25" textLength="9" lengthAdjust="spacingAndGlyphs">10</text>
<text x="539.3" y="717.6" font-size="5.4" fill="#111" stroke="#111" stroke-width="0.15">-2</text>
<text x="563.93" y="722.6" font-size="9.2" fill="#111" stroke="#111" stroke-width="0.25" textLength="9" lengthAdjust="spacingAndGlyphs">10</text>
<text x="573.53" y="717.6" font-size="5.4" fill="#111" stroke="#111" stroke-width="0.15">-1</text>
<text x="599.06" y="722.6" font-size="9.2" fill="#111" stroke="#111" stroke-width="0.25" textLength="9" lengthAdjust="spacingAndGlyphs">10</text>
<text x="608.66" y="717.6" font-size="5.4" fill="#111" stroke="#111" stroke-width="0.15">0</text>
<text x="633.29" y="722.6" font-size="9.2" fill="#111" stroke="#111" stroke-width="0.25" textLength="9" lengthAdjust="spacingAndGlyphs">10</text>
<text x="642.89" y="717.6" font-size="5.4" fill="#111" stroke="#111" stroke-width="0.15">1</text>
<text x="667.53" y="722.6" font-size="9.2" fill="#111" stroke="#111" stroke-width="0.25" textLength="9" lengthAdjust="spacingAndGlyphs">10</text>
<text x="677.13" y="717.6" font-size="5.4" fill="#111" stroke="#111" stroke-width="0.15">2</text>
<text x="701.76" y="722.6" font-size="9.2" fill="#111" stroke="#111" stroke-width="0.25" textLength="9" lengthAdjust="spacingAndGlyphs">10</text>
<text x="711.36" y="717.6" font-size="5.4" fill="#111" stroke="#111" stroke-width="0.15">3</text>
<text x="516.19" y="713.6" font-size="9.2" fill="#111" stroke="#111" stroke-width="0.25" textLength="9" lengthAdjust="spacingAndGlyphs">10</text>
<text x="525.79" y="708.6" font-size="5.4" fill="#111" stroke="#111" stroke-width="0.15">-13</text>
<text x="516.6" y="666.5" font-size="9.2" fill="#111" stroke="#111" stroke-width="0.25" textLength="9" lengthAdjust="spacingAndGlyphs">10</text>
<text x="526.2" y="661.5" font-size="5.4" fill="#111" stroke="#111" stroke-width="0.15">-11</text>
<text x="519.2" y="619.4" font-size="9.2" fill="#111" stroke="#111" stroke-width="0.25" textLength="9" lengthAdjust="spacingAndGlyphs">10</text>
<text x="528.8" y="614.4" font-size="5.4" fill="#111" stroke="#111" stroke-width="0.15">-9</text>
<text x="519.2" y="572.3" font-size="9.2" fill="#111" stroke="#111" stroke-width="0.25" textLength="9" lengthAdjust="spacingAndGlyphs">10</text>
<text x="528.8" y="567.3" font-size="5.4" fill="#111" stroke="#111" stroke-width="0.15">-7</text>
<text x="566.7" y="736.5" font-size="11.6" fill="#111" stroke="#111" stroke-width="0.25" textLength="112" lengthAdjust="spacingAndGlyphs">Time Since Trigger (s)</text>
<g transform="translate(511.3 641.4) rotate(-90) scale(0.97 1)">
<text x="0" y="0" font-size="11.6" text-anchor="middle" fill="#111" stroke="#111" stroke-width="0.25">Flux (erg cm<tspan font-size="6.8" dy="-5.2">-2</tspan><tspan dy="5.2"> s</tspan><tspan font-size="6.8" dy="-5.2">-1</tspan><tspan dy="5.2">)</tspan></text>
</g>
<text x="677.7" y="587.7" font-size="12.2" fill="#111" stroke="#111" stroke-width="0.25" textLength="37.3" lengthAdjust="spacingAndGlyphs">080919</text>
<path d="M550.6 583.6H569.7 M550.6 582.1v3 M569.7 582.1v3" stroke="#7f7fff" stroke-width="0.8" fill="none"/>
<path d="M570 579.6H576 M570 578.1v3 M576 578.1v3" stroke="#7f7fff" stroke-width="0.8" fill="none"/>
<path d="M598.2 583V591.8 M596.7 583h3 M596.7 591.8h3" stroke="#7f7fff" stroke-width="0.8" fill="none"/>
<path d="M607.1 585V595.9 M605.6 585h3 M605.6 595.9h3" stroke="#7f7fff" stroke-width="0.8" fill="none"/>
<path d="M607.7 587V598.6 M606.2 587h3 M606.2 598.6h3" stroke="#7f7fff" stroke-width="0.8" fill="none"/>
<path d="M562.4 581V588 M560.9 581h3 M560.9 588h3" stroke="#7f7fff" stroke-width="0.8" fill="none"/>
<path d="M562.4 580.51L559.6 585.66L565.2 585.66Z" fill="#0000f0"/>
<path d="M573.5 576.51L570.7 581.66L576.3 581.66Z" fill="#0000f0"/>
<path d="M579.9 576.11L577.1 581.26L582.7 581.26Z" fill="#0000f0"/>
<path d="M584.3 576.91L581.5 582.06L587.1 582.06Z" fill="#0000f0"/>
<path d="M587.6 576.91L584.8 582.06L590.4 582.06Z" fill="#0000f0"/>
<path d="M592.5 575.51L589.7 580.66L595.3 580.66Z" fill="#0000f0"/>
<path d="M594.8 578.51L592 583.66L597.6 583.66Z" fill="#0000f0"/>
<path d="M596.9 579.21L594.1 584.36L599.7 584.36Z" fill="#0000f0"/>
<path d="M599.9 578.51L597.1 583.66L602.7 583.66Z" fill="#0000f0"/>
<path d="M598.2 582.61L595.4 587.76L601 587.76Z" fill="#0000f0"/>
<path d="M607.1 580.51L604.3 585.66L609.9 585.66Z" fill="#0000f0"/>
<path d="M605.7 585.31L602.9 590.46L608.5 590.46Z" fill="#0000f0"/>
<path d="M607.7 586.41L604.9 591.56L610.5 591.56Z" fill="#0000f0"/>
<polyline points="646,634.7 689.5,646.7 692,648.5 695.5,659.2 704.8,692.4" fill="none" stroke="#ff2020" stroke-width="1.2" stroke-linejoin="round"/>
<path d="M695.5 688.8H718.9 M695.5 687.3v3 M718.9 687.3v3" stroke="#a0a0a0" stroke-width="0.8" fill="none"/>
<circle cx="670.7" cy="640.1" r="2.5" fill="#000"/>
<circle cx="676.8" cy="642.6" r="2.5" fill="#000"/>
<circle cx="684.6" cy="644" r="2.5" fill="#000"/>
<circle cx="689.5" cy="647.8" r="2.5" fill="#000"/>
<circle cx="693.3" cy="655.7" r="2.5" fill="#000"/>
<circle cx="702.9" cy="688.8" r="2.5" fill="#000"/>
<circle cx="552.7" cy="684.6" r="2.3" fill="#000"/>
<path d="M552.7 692.1L550.2 696.6L555.2 696.6Z" fill="#0000f0"/>
<text x="564.5" y="687.5" font-size="8.4" fill="#000" stroke="#000" stroke-width="0.25">XRT</text>
<text x="564.5" y="697.5" font-size="8.4" fill="#0000f0" stroke="#0000f0" stroke-width="0.25">BAT</text>
<rect x="38.5" y="755.5" width="193" height="141" fill="none" stroke="#555" stroke-width="1.5"/>
<path d="M39.58 896.8v-2 M39.58 755.3v2 M41.3 896.8v-2 M41.3 755.3v2 M42.84 896.8v-4 M42.84 755.3v4 M52.98 896.8v-2 M52.98 755.3v2 M58.91 896.8v-2 M58.91 755.3v2 M63.12 896.8v-2 M63.12 755.3v2 M66.38 896.8v-2 M66.38 755.3v2 M69.05 896.8v-2 M69.05 755.3v2 M71.3 896.8v-2 M71.3 755.3v2 M73.26 896.8v-2 M73.26 755.3v2 M74.98 896.8v-2 M74.98 755.3v2 M76.52 896.8v-4 M76.52 755.3v4 M86.66 896.8v-2 M86.66 755.3v2 M92.59 896.8v-2 M92.59 755.3v2 M96.8 896.8v-2 M96.8 755.3v2 M100.06 896.8v-2 M100.06 755.3v2 M102.73 896.8v-2 M102.73 755.3v2 M104.98 896.8v-2 M104.98 755.3v2 M106.93 896.8v-2 M106.93 755.3v2 M108.66 896.8v-2 M108.66 755.3v2 M110.2 896.8v-4 M110.2 755.3v4 M120.33 896.8v-2 M120.33 755.3v2 M126.27 896.8v-2 M126.27 755.3v2 M130.47 896.8v-2 M130.47 755.3v2 M133.74 896.8v-2 M133.74 755.3v2 M136.4 896.8v-2 M136.4 755.3v2 M138.66 896.8v-2 M138.66 755.3v2 M140.61 896.8v-2 M140.61 755.3v2 M142.33 896.8v-2 M142.33 755.3v2 M143.87 896.8v-4 M143.87 755.3v4 M154.01 896.8v-2 M154.01 755.3v2 M159.94 896.8v-2 M159.94 755.3v2 M164.15 896.8v-2 M164.15 755.3v2 M167.41 896.8v-2 M167.41 755.3v2 M170.08 896.8v-2 M170.08 755.3v2 M172.34 896.8v-2 M172.34 755.3v2 M174.29 896.8v-2 M174.29 755.3v2 M176.01 896.8v-2 M176.01 755.3v2 M177.55 896.8v-4 M177.55 755.3v4 M187.69 896.8v-2 M187.69 755.3v2 M193.62 896.8v-2 M193.62 755.3v2 M197.83 896.8v-2 M197.83 755.3v2 M201.09 896.8v-2 M201.09 755.3v2 M203.76 896.8v-2 M203.76 755.3v2 M206.01 896.8v-2 M206.01 755.3v2 M207.97 896.8v-2 M207.97 755.3v2 M209.69 896.8v-2 M209.69 755.3v2 M211.23 896.8v-4 M211.23 755.3v4 M221.37 896.8v-2 M221.37 755.3v2 M227.3 896.8v-2 M227.3 755.3v2 M38.8 894.59h2 M231.1 894.59h-2 M38.8 892.69h2 M231.1 892.69h-2 M38.8 891.05h2 M231.1 891.05h-2 M38.8 889.6h2 M231.1 889.6h-2 M38.8 888.31h4 M231.1 888.31h-4 M38.8 879.79h2 M231.1 879.79h-2 M38.8 874.81h2 M231.1 874.81h-2 M38.8 871.27h2 M231.1 871.27h-2 M38.8 868.53h2 M231.1 868.53h-2 M38.8 866.29h2 M231.1 866.29h-2 M38.8 864.39h2 M231.1 864.39h-2 M38.8 862.75h2 M231.1 862.75h-2 M38.8 861.3h2 M231.1 861.3h-2 M38.8 860.01h4 M231.1 860.01h-4 M38.8 851.49h2 M231.1 851.49h-2 M38.8 846.51h2 M231.1 846.51h-2 M38.8 842.97h2 M231.1 842.97h-2 M38.8 840.23h2 M231.1 840.23h-2 M38.8 837.99h2 M231.1 837.99h-2 M38.8 836.09h2 M231.1 836.09h-2 M38.8 834.45h2 M231.1 834.45h-2 M38.8 833h2 M231.1 833h-2 M38.8 831.71h4 M231.1 831.71h-4 M38.8 823.19h2 M231.1 823.19h-2 M38.8 818.21h2 M231.1 818.21h-2 M38.8 814.67h2 M231.1 814.67h-2 M38.8 811.93h2 M231.1 811.93h-2 M38.8 809.69h2 M231.1 809.69h-2 M38.8 807.79h2 M231.1 807.79h-2 M38.8 806.15h2 M231.1 806.15h-2 M38.8 804.7h2 M231.1 804.7h-2 M38.8 803.41h4 M231.1 803.41h-4 M38.8 794.89h2 M231.1 794.89h-2 M38.8 789.91h2 M231.1 789.91h-2 M38.8 786.37h2 M231.1 786.37h-2 M38.8 783.63h2 M231.1 783.63h-2 M38.8 781.39h2 M231.1 781.39h-2 M38.8 779.49h2 M231.1 779.49h-2 M38.8 777.85h2 M231.1 777.85h-2 M38.8 776.4h2 M231.1 776.4h-2 M38.8 775.11h4 M231.1 775.11h-4 M38.8 766.59h2 M231.1 766.59h-2 M38.8 761.61h2 M231.1 761.61h-2 M38.8 758.07h2 M231.1 758.07h-2 M38.8 755.33h2 M231.1 755.33h-2" stroke="#222" stroke-width="1" fill="none"/>
<text x="35.64" y="909.2" font-size="9.2" fill="#111" stroke="#111" stroke-width="0.25" textLength="9" lengthAdjust="spacingAndGlyphs">10</text>
<text x="45.24" y="904.2" font-size="5.4" fill="#111" stroke="#111" stroke-width="0.15">-2</text>
<text x="69.32" y="909.2" font-size="9.2" fill="#111" stroke="#111" stroke-width="0.25" textLength="9" lengthAdjust="spacingAndGlyphs">10</text>
<text x="78.92" y="904.2" font-size="5.4" fill="#111" stroke="#111" stroke-width="0.15">-1</text>
<text x="103.9" y="909.2" font-size="9.2" fill="#111" stroke="#111" stroke-width="0.25" textLength="9" lengthAdjust="spacingAndGlyphs">10</text>
<text x="113.5" y="904.2" font-size="5.4" fill="#111" stroke="#111" stroke-width="0.15">0</text>
<text x="137.57" y="909.2" font-size="9.2" fill="#111" stroke="#111" stroke-width="0.25" textLength="9" lengthAdjust="spacingAndGlyphs">10</text>
<text x="147.17" y="904.2" font-size="5.4" fill="#111" stroke="#111" stroke-width="0.15">1</text>
<text x="171.25" y="909.2" font-size="9.2" fill="#111" stroke="#111" stroke-width="0.25" textLength="9" lengthAdjust="spacingAndGlyphs">10</text>
<text x="180.85" y="904.2" font-size="5.4" fill="#111" stroke="#111" stroke-width="0.15">2</text>
<text x="204.93" y="909.2" font-size="9.2" fill="#111" stroke="#111" stroke-width="0.25" textLength="9" lengthAdjust="spacingAndGlyphs">10</text>
<text x="214.53" y="904.2" font-size="5.4" fill="#111" stroke="#111" stroke-width="0.15">3</text>
<text x="18.09" y="891.71" font-size="9.2" fill="#111" stroke="#111" stroke-width="0.25" textLength="9" lengthAdjust="spacingAndGlyphs">10</text>
<text x="27.69" y="886.71" font-size="5.4" fill="#111" stroke="#111" stroke-width="0.15">-12</text>
<text x="18.5" y="863.41" font-size="9.2" fill="#111" stroke="#111" stroke-width="0.25" textLength="9" lengthAdjust="spacingAndGlyphs">10</text>
<text x="28.1" y="858.41" font-size="5.4" fill="#111" stroke="#111" stroke-width="0.15">-11</text>
<text x="18.09" y="835.11" font-size="9.2" fill="#111" stroke="#111" stroke-width="0.25" textLength="9" lengthAdjust="spacingAndGlyphs">10</text>
<text x="27.69" y="830.11" font-size="5.4" fill="#111" stroke="#111" stroke-width="0.15">-10</text>
<text x="21.1" y="806.81" font-size="9.2" fill="#111" stroke="#111" stroke-width="0.25" textLength="9" lengthAdjust="spacingAndGlyphs">10</text>
<text x="30.7" y="801.81" font-size="5.4" fill="#111" stroke="#111" stroke-width="0.15">-9</text>
<text x="21.1" y="778.51" font-size="9.2" fill="#111" stroke="#111" stroke-width="0.25" textLength="9" lengthAdjust="spacingAndGlyphs">10</text>
<text x="30.7" y="773.51" font-size="5.4" fill="#111" stroke="#111" stroke-width="0.15">-8</text>
<text x="76.3" y="924" font-size="11.6" fill="#111" stroke="#111" stroke-width="0.25" textLength="112" lengthAdjust="spacingAndGlyphs">Time Since Trigger (s)</text>
<g transform="translate(13.3 829.5) rotate(-90) scale(0.97 1)">
<text x="0" y="0" font-size="11.6" text-anchor="middle" fill="#111" stroke="#111" stroke-width="0.25">Flux (erg cm<tspan font-size="6.8" dy="-5.2">-2</tspan><tspan dy="5.2"> s</tspan><tspan font-size="6.8" dy="-5.2">-1</tspan><tspan dy="5.2">)</tspan></text>
</g>
<text x="167.3" y="773.3" font-size="12.2" fill="#111" stroke="#111" stroke-width="0.25" textLength="45" lengthAdjust="spacingAndGlyphs">081024A</text>
<path d="M45.5 782.2H72.1 M45.5 780.7v3 M72.1 780.7v3" stroke="#7f7fff" stroke-width="0.8" fill="none"/>
<path d="M72 789.1H80 M72 787.6v3 M80 787.6v3" stroke="#7f7fff" stroke-width="0.8" fill="none"/>
<path d="M94.6 788V795 M93.1 788h3 M93.1 795h3" stroke="#7f7fff" stroke-width="0.8" fill="none"/>
<path d="M102.7 793.2V800.7 M101.2 793.2h3 M101.2 800.7h3" stroke="#7f7fff" stroke-width="0.8" fill="none"/>
<path d="M113.1 791.2V807.7 M111.6 791.2h3 M111.6 807.7h3" stroke="#7f7fff" stroke-width="0.8" fill="none"/>
<path d="M64.2 778.89L61.2 784.41L67.2 784.41Z" fill="#0000f0"/>
<path d="M76.9 785.79L73.9 791.31L79.9 791.31Z" fill="#0000f0"/>
<path d="M83.7 786.09L80.7 791.61L86.7 791.61Z" fill="#0000f0"/>
<path d="M88.6 786.09L85.6 791.61L91.6 791.61Z" fill="#0000f0"/>
<path d="M94.6 787.89L91.6 793.41L97.6 793.41Z" fill="#0000f0"/>
<path d="M102.7 792.39L99.7 797.91L105.7 797.91Z" fill="#0000f0"/>
<path d="M113.1 793.59L110.1 799.11L116.1 799.11Z" fill="#0000f0"/>
<polyline points="82.2,789.4 148,803.7 171.6,809.3 174.5,810.5 176.7,812.2 178.5,814.5 180.5,817.9 203.2,895.7" fill="none" stroke="#ff2020" stroke-width="1.2" stroke-linejoin="round"/>
<path d="M190.2 876.1H219.6 M190.2 874.6v3 M219.6 874.6v3" stroke="#a0a0a0" stroke-width="0.8" fill="none"/>
<circle cx="173.5" cy="808.4" r="2.5" fill="#000"/>
<circle cx="174.8" cy="810.3" r="2.5" fill="#000"/>
<circle cx="176.7" cy="812.2" r="2.5" fill="#000"/>
<circle cx="178.6" cy="813.5" r="2.5" fill="#000"/>
<circle cx="179.8" cy="816" r="2.5" fill="#000"/>
<circle cx="184.2" cy="823" r="2.5" fill="#000"/>
<circle cx="182.4" cy="827.4" r="2.5" fill="#000"/>
<circle cx="186.1" cy="828.7" r="2.5" fill="#000"/>
<circle cx="190.2" cy="876.1" r="2.5" fill="#000"/>
<circle cx="56.2" cy="872.1" r="2.3" fill="#000"/>
<path d="M56.2 879.6L53.7 884.1L58.7 884.1Z" fill="#0000f0"/>
<text x="68.2" y="875" font-size="8.4" fill="#000" stroke="#000" stroke-width="0.25">XRT</text>
<text x="68.2" y="885" font-size="8.4" fill="#0000f0" stroke="#0000f0" stroke-width="0.25">BAT</text>
<rect x="288.5" y="754.5" width="193" height="141" fill="none" stroke="#555" stroke-width="1.5"/>
<path d="M291.29 895.6v-2 M291.29 754.4v2 M293.33 895.6v-2 M293.33 754.4v2 M295.1 895.6v-2 M295.1 754.4v2 M296.66 895.6v-2 M296.66 754.4v2 M298.06 895.6v-4 M298.06 754.4v4 M307.26 895.6v-2 M307.26 754.4v2 M312.63 895.6v-2 M312.63 754.4v2 M316.45 895.6v-2 M316.45 754.4v2 M319.41 895.6v-2 M319.41 754.4v2 M321.83 895.6v-2 M321.83 754.4v2 M323.87 895.6v-2 M323.87 754.4v2 M325.64 895.6v-2 M325.64 754.4v2 M327.2 895.6v-2 M327.2 754.4v2 M328.6 895.6v-4 M328.6 754.4v4 M337.79 895.6v-2 M337.79 754.4v2 M343.17 895.6v-2 M343.17 754.4v2 M346.99 895.6v-2 M346.99 754.4v2 M349.95 895.6v-2 M349.95 754.4v2 M352.37 895.6v-2 M352.37 754.4v2 M354.41 895.6v-2 M354.41 754.4v2 M356.18 895.6v-2 M356.18 754.4v2 M357.74 895.6v-2 M357.74 754.4v2 M359.14 895.6v-4 M359.14 754.4v4 M368.33 895.6v-2 M368.33 754.4v2 M373.71 895.6v-2 M373.71 754.4v2 M377.53 895.6v-2 M377.53 754.4v2 M380.49 895.6v-2 M380.49 754.4v2 M382.91 895.6v-2 M382.91 754.4v2 M384.95 895.6v-2 M384.95 754.4v2 M386.72 895.6v-2 M386.72 754.4v2 M388.28 895.6v-2 M388.28 754.4v2 M389.68 895.6v-4 M389.68 754.4v4 M398.87 895.6v-2 M398.87 754.4v2 M404.25 895.6v-2 M404.25 754.4v2 M408.07 895.6v-2 M408.07 754.4v2 M411.03 895.6v-2 M411.03 754.4v2 M413.45 895.6v-2 M413.45 754.4v2 M415.49 895.6v-2 M415.49 754.4v2 M417.26 895.6v-2 M417.26 754.4v2 M418.82 895.6v-2 M418.82 754.4v2 M420.22 895.6v-4 M420.22 754.4v4 M429.41 895.6v-2 M429.41 754.4v2 M434.79 895.6v-2 M434.79 754.4v2 M438.61 895.6v-2 M438.61 754.4v2 M441.57 895.6v-2 M441.57 754.4v2 M443.99 895.6v-2 M443.99 754.4v2 M446.03 895.6v-2 M446.03 754.4v2 M447.8 895.6v-2 M447.8 754.4v2 M449.36 895.6v-2 M449.36 754.4v2 M450.76 895.6v-4 M450.76 754.4v4 M459.95 895.6v-2 M459.95 754.4v2 M465.33 895.6v-2 M465.33 754.4v2 M469.15 895.6v-2 M469.15 754.4v2 M472.11 895.6v-2 M472.11 754.4v2 M474.52 895.6v-2 M474.52 754.4v2 M476.57 895.6v-2 M476.57 754.4v2 M478.34 895.6v-2 M478.34 754.4v2 M479.9 895.6v-2 M479.9 754.4v2 M481.3 895.6v-4 M481.3 754.4v4 M288.9 893.38h2 M481.3 893.38h-2 M288.9 891.28h2 M481.3 891.28h-2 M288.9 889.56h2 M481.3 889.56h-2 M288.9 888.1h2 M481.3 888.1h-2 M288.9 886.84h2 M481.3 886.84h-2 M288.9 885.73h2 M481.3 885.73h-2 M288.9 884.74h4 M481.3 884.74h-4 M288.9 878.2h2 M481.3 878.2h-2 M288.9 874.37h2 M481.3 874.37h-2 M288.9 871.66h2 M481.3 871.66h-2 M288.9 869.55h2 M481.3 869.55h-2 M288.9 867.83h2 M481.3 867.83h-2 M288.9 866.38h2 M481.3 866.38h-2 M288.9 865.12h2 M481.3 865.12h-2 M288.9 864.01h2 M481.3 864.01h-2 M288.9 863.02h4 M481.3 863.02h-4 M288.9 856.48h2 M481.3 856.48h-2 M288.9 852.65h2 M481.3 852.65h-2 M288.9 849.94h2 M481.3 849.94h-2 M288.9 847.83h2 M481.3 847.83h-2 M288.9 846.11h2 M481.3 846.11h-2 M288.9 844.66h2 M481.3 844.66h-2 M288.9 843.4h2 M481.3 843.4h-2 M288.9 842.29h2 M481.3 842.29h-2 M288.9 841.29h4 M481.3 841.29h-4 M288.9 834.75h2 M481.3 834.75h-2 M288.9 830.93h2 M481.3 830.93h-2 M288.9 828.21h2 M481.3 828.21h-2 M288.9 826.11h2 M481.3 826.11h-2 M288.9 824.39h2 M481.3 824.39h-2 M288.9 822.93h2 M481.3 822.93h-2 M288.9 821.67h2 M481.3 821.67h-2 M288.9 820.56h2 M481.3 820.56h-2 M288.9 819.57h4 M481.3 819.57h-4 M288.9 813.03h2 M481.3 813.03h-2 M288.9 809.2h2 M481.3 809.2h-2 M288.9 806.49h2 M481.3 806.49h-2 M288.9 804.39h2 M481.3 804.39h-2 M288.9 802.67h2 M481.3 802.67h-2 M288.9 801.21h2 M481.3 801.21h-2 M288.9 799.95h2 M481.3 799.95h-2 M288.9 798.84h2 M481.3 798.84h-2 M288.9 797.85h4 M481.3 797.85h-4 M288.9 791.31h2 M481.3 791.31h-2 M288.9 787.48h2 M481.3 787.48h-2 M288.9 784.77h2 M481.3 784.77h-2 M288.9 782.66h2 M481.3 782.66h-2 M288.9 780.94h2 M481.3 780.94h-2 M288.9 779.49h2 M481.3 779.49h-2 M288.9 778.23h2 M481.3 778.23h-2 M288.9 777.12h2 M481.3 777.12h-2 M288.9 776.12h4 M481.3 776.12h-4 M288.9 769.58h2 M481.3 769.58h-2 M288.9 765.76h2 M481.3 765.76h-2 M288.9 763.04h2 M481.3 763.04h-2 M288.9 760.94h2 M481.3 760.94h-2 M288.9 759.22h2 M481.3 759.22h-2 M288.9 757.76h2 M481.3 757.76h-2 M288.9 756.51h2 M481.3 756.51h-2 M288.9 755.39h2 M481.3 755.39h-2 M288.9 754.4h4 M481.3 754.4h-4" stroke="#222" stroke-width="1" fill="none"/>
<text x="290.86" y="908" font-size="9.2" fill="#111" stroke="#111" stroke-width="0.25" textLength="9" lengthAdjust="spacingAndGlyphs">10</text>
<text x="300.46" y="903" font-size="5.4" fill="#111" stroke="#111" stroke-width="0.15">-1</text>
<text x="322.3" y="908" font-size="9.2" fill="#111" stroke="#111" stroke-width="0.25" textLength="9" lengthAdjust="spacingAndGlyphs">10</text>
<text x="331.9" y="903" font-size="5.4" fill="#111" stroke="#111" stroke-width="0.15">0</text>
<text x="352.84" y="908" font-size="9.2" fill="#111" stroke="#111" stroke-width="0.25" textLength="9" lengthAdjust="spacingAndGlyphs">10</text>
<text x="362.44" y="903" font-size="5.4" fill="#111" stroke="#111" stroke-width="0.15">1</text>
<text x="383.38" y="908" font-size="9.2" fill="#111" stroke="#111" stroke-width="0.25" textLength="9" lengthAdjust="spacingAndGlyphs">10</text>
<text x="392.98" y="903" font-size="5.4" fill="#111" stroke="#111" stroke-width="0.15">2</text>
<text x="413.92" y="908" font-size="9.2" fill="#111" stroke="#111" stroke-width="0.25" textLength="9" lengthAdjust="spacingAndGlyphs">10</text>
<text x="423.52" y="903" font-size="5.4" fill="#111" stroke="#111" stroke-width="0.15">3</text>
<text x="444.46" y="908" font-size="9.2" fill="#111" stroke="#111" stroke-width="0.25" textLength="9" lengthAdjust="spacingAndGlyphs">10</text>
<text x="454.06" y="903" font-size="5.4" fill="#111" stroke="#111" stroke-width="0.15">4</text>
<text x="268.19" y="866.42" font-size="9.2" fill="#111" stroke="#111" stroke-width="0.25" textLength="9" lengthAdjust="spacingAndGlyphs">10</text>
<text x="277.79" y="861.42" font-size="5.4" fill="#111" stroke="#111" stroke-width="0.15">-12</text>
<text x="268.19" y="822.97" font-size="9.2" fill="#111" stroke="#111" stroke-width="0.25" textLength="9" lengthAdjust="spacingAndGlyphs">10</text>
<text x="277.79" y="817.97" font-size="5.4" fill="#111" stroke="#111" stroke-width="0.15">-10</text>
<text x="271.2" y="779.52" font-size="9.2" fill="#111" stroke="#111" stroke-width="0.25" textLength="9" lengthAdjust="spacingAndGlyphs">10</text>
<text x="280.8" y="774.52" font-size="5.4" fill="#111" stroke="#111" stroke-width="0.15">-8</text>
<text x="324.7" y="923.6" font-size="11.6" fill="#111" stroke="#111" stroke-width="0.25" textLength="112" lengthAdjust="spacingAndGlyphs">Time Since Trigger (s)</text>
<g transform="translate(263.3 827.45) rotate(-90) scale(0.97 1)">
<text x="0" y="0" font-size="11.6" text-anchor="middle" fill="#111" stroke="#111" stroke-width="0.25">Flux (erg cm<tspan font-size="6.8" dy="-5.2">-2</tspan><tspan dy="5.2"> s</tspan><tspan font-size="6.8" dy="-5.2">-1</tspan><tspan dy="5.2">)</tspan></text>
</g>
<text x="422.7" y="772.3" font-size="12.2" fill="#111" stroke="#111" stroke-width="0.25" textLength="37.3" lengthAdjust="spacingAndGlyphs">090510</text>
<path d="M310 763.8H319.6 M310 762.3v3 M319.6 762.3v3" stroke="#7f7fff" stroke-width="0.8" fill="none"/>
<path d="M294.1 794.5H307.7 M294.1 793v3 M307.7 793v3 M303.6 790.4V804 M302.1 790.4h3 M302.1 804h3" stroke="#7f7fff" stroke-width="0.8" fill="none"/>
<path d="M319 783.3H325 M319 781.8v3 M325 781.8v3" stroke="#7f7fff" stroke-width="0.8" fill="none"/>
<path d="M314.5 760.71L311.7 765.86L317.3 765.86Z" fill="#0000f0"/>
<path d="M310 781.81L307.2 786.96L312.8 786.96Z" fill="#0000f0"/>
<path d="M303.6 791.41L300.8 796.56L306.4 796.56Z" fill="#0000f0"/>
<path d="M323.1 780.21L320.3 785.36L325.9 785.36Z" fill="#0000f0"/>
<path d="M326.8 782.91L324 788.06L329.6 788.06Z" fill="#0000f0"/>
<polygon points="389.5,806 398,808 405,812 412,814 416,814 420,818 425,820.5 428,824 431,832.5 429,836 422,829.5 415,826.5 405,822 396,816 389.5,813" fill="#000"/>
<circle cx="389.5" cy="806.8" r="2.5" fill="#000"/>
<circle cx="389.5" cy="812.5" r="2.5" fill="#000"/>
<circle cx="394" cy="808" r="2.5" fill="#000"/>
<circle cx="397" cy="811" r="2.5" fill="#000"/>
<circle cx="401" cy="810.5" r="2.5" fill="#000"/>
<circle cx="405" cy="813" r="2.5" fill="#000"/>
<circle cx="404.5" cy="822.4" r="2.5" fill="#000"/>
<circle cx="410" cy="815" r="2.5" fill="#000"/>
<circle cx="413" cy="819" r="2.5" fill="#000"/>
<circle cx="416.1" cy="815" r="2.5" fill="#000"/>
<circle cx="418" cy="822" r="2.5" fill="#000"/>
<circle cx="414.7" cy="826.5" r="2.5" fill="#000"/>
<circle cx="421" cy="818" r="2.5" fill="#000"/>
<circle cx="424.9" cy="821.1" r="2.5" fill="#000"/>
<circle cx="422.2" cy="829.3" r="2.5" fill="#000"/>
<circle cx="427.6" cy="824.5" r="2.5" fill="#000"/>
<circle cx="427" cy="829" r="2.5" fill="#000"/>
<circle cx="431" cy="832.7" r="2.5" fill="#000"/>
<circle cx="429" cy="838.1" r="2.5" fill="#000"/>
<circle cx="419" cy="826" r="2.5" fill="#000"/>
<circle cx="409" cy="819" r="2.5" fill="#000"/>
<polyline points="389.5,809.5 418.1,822.4 421.5,824 424.9,826.5 427.5,830 430.3,834.7 467.1,895.2" fill="none" stroke="#ff2020" stroke-width="1.2" stroke-linejoin="round"/>
<path d="M462.7 879.2H468.4 M462.7 877.7v3 M468.4 877.7v3" stroke="#a0a0a0" stroke-width="0.8" fill="none"/>
<circle cx="443.3" cy="854.1" r="2.6" fill="#000"/>
<circle cx="446" cy="862.9" r="2.6" fill="#000"/>
<circle cx="454.6" cy="868.7" r="2.6" fill="#000"/>
<circle cx="462.7" cy="879.2" r="2.6" fill="#000"/>
<circle cx="305.5" cy="872.4" r="2.3" fill="#000"/>
<path d="M305.5 880.7L303 885.2L308 885.2Z" fill="#0000f0"/>
<text x="318.2" y="875.6" font-size="8.4" font-weight="bold" fill="#000" stroke="#000" stroke-width="0.25">XRT</text>
<text x="318.2" y="886.6" font-size="8.4" font-weight="bold" fill="#0000f0" stroke="#0000f0" stroke-width="0.25">BAT</text>
<rect x="536.5" y="754.5" width="192" height="142" fill="none" stroke="#8a8a8a" stroke-width="1.5"/>
<path d="M536.6 896v-4 M536.6 754.4v4 M545.24 896v-2 M545.24 754.4v2 M550.29 896v-2 M550.29 754.4v2 M553.88 896v-2 M553.88 754.4v2 M556.66 896v-2 M556.66 754.4v2 M558.93 896v-2 M558.93 754.4v2 M560.86 896v-2 M560.86 754.4v2 M562.52 896v-2 M562.52 754.4v2 M563.99 896v-2 M563.99 754.4v2 M565.3 896v-4 M565.3 754.4v4 M573.94 896v-2 M573.94 754.4v2 M579 896v-2 M579 754.4v2 M582.58 896v-2 M582.58 754.4v2 M585.36 896v-2 M585.36 754.4v2 M587.64 896v-2 M587.64 754.4v2 M589.56 896v-2 M589.56 754.4v2 M591.22 896v-2 M591.22 754.4v2 M592.69 896v-2 M592.69 754.4v2 M594 896v-4 M594 754.4v4 M602.64 896v-2 M602.64 754.4v2 M607.7 896v-2 M607.7 754.4v2 M611.28 896v-2 M611.28 754.4v2 M614.06 896v-2 M614.06 754.4v2 M616.34 896v-2 M616.34 754.4v2 M618.26 896v-2 M618.26 754.4v2 M619.92 896v-2 M619.92 754.4v2 M621.39 896v-2 M621.39 754.4v2 M622.7 896v-4 M622.7 754.4v4 M631.34 896v-2 M631.34 754.4v2 M636.4 896v-2 M636.4 754.4v2 M639.98 896v-2 M639.98 754.4v2 M642.77 896v-2 M642.77 754.4v2 M645.04 896v-2 M645.04 754.4v2 M646.96 896v-2 M646.96 754.4v2 M648.62 896v-2 M648.62 754.4v2 M650.09 896v-2 M650.09 754.4v2 M651.41 896v-4 M651.41 754.4v4 M660.05 896v-2 M660.05 754.4v2 M665.1 896v-2 M665.1 754.4v2 M668.69 896v-2 M668.69 754.4v2 M671.47 896v-2 M671.47 754.4v2 M673.74 896v-2 M673.74 754.4v2 M675.66 896v-2 M675.66 754.4v2 M677.33 896v-2 M677.33 754.4v2 M678.79 896v-2 M678.79 754.4v2 M680.11 896v-4 M680.11 754.4v4 M688.75 896v-2 M688.75 754.4v2 M693.8 896v-2 M693.8 754.4v2 M697.39 896v-2 M697.39 754.4v2 M700.17 896v-2 M700.17 754.4v2 M702.44 896v-2 M702.44 754.4v2 M704.36 896v-2 M704.36 754.4v2 M706.03 896v-2 M706.03 754.4v2 M707.5 896v-2 M707.5 754.4v2 M708.81 896v-4 M708.81 754.4v4 M717.45 896v-2 M717.45 754.4v2 M722.5 896v-2 M722.5 754.4v2 M726.09 896v-2 M726.09 754.4v2 M728.87 896v-2 M728.87 754.4v2 M536.6 893.67h2 M728.9 893.67h-2 M536.6 891.46h2 M728.9 891.46h-2 M536.6 889.65h2 M728.9 889.65h-2 M536.6 888.12h2 M728.9 888.12h-2 M536.6 886.79h2 M728.9 886.79h-2 M536.6 885.63h2 M728.9 885.63h-2 M536.6 884.58h4 M728.9 884.58h-4 M536.6 877.71h2 M728.9 877.71h-2 M536.6 873.68h2 M728.9 873.68h-2 M536.6 870.83h2 M728.9 870.83h-2 M536.6 868.62h2 M728.9 868.62h-2 M536.6 866.81h2 M728.9 866.81h-2 M536.6 865.28h2 M728.9 865.28h-2 M536.6 863.96h2 M728.9 863.96h-2 M536.6 862.79h2 M728.9 862.79h-2 M536.6 861.74h4 M728.9 861.74h-4 M536.6 854.87h2 M728.9 854.87h-2 M536.6 850.85h2 M728.9 850.85h-2 M536.6 847.99h2 M728.9 847.99h-2 M536.6 845.78h2 M728.9 845.78h-2 M536.6 843.97h2 M728.9 843.97h-2 M536.6 842.44h2 M728.9 842.44h-2 M536.6 841.12h2 M728.9 841.12h-2 M536.6 839.95h2 M728.9 839.95h-2 M536.6 838.9h4 M728.9 838.9h-4 M536.6 832.03h2 M728.9 832.03h-2 M536.6 828.01h2 M728.9 828.01h-2 M536.6 825.15h2 M728.9 825.15h-2 M536.6 822.94h2 M728.9 822.94h-2 M536.6 821.13h2 M728.9 821.13h-2 M536.6 819.6h2 M728.9 819.6h-2 M536.6 818.28h2 M728.9 818.28h-2 M536.6 817.11h2 M728.9 817.11h-2 M536.6 816.06h4 M728.9 816.06h-4 M536.6 809.19h2 M728.9 809.19h-2 M536.6 805.17h2 M728.9 805.17h-2 M536.6 802.31h2 M728.9 802.31h-2 M536.6 800.1h2 M728.9 800.1h-2 M536.6 798.29h2 M728.9 798.29h-2 M536.6 796.76h2 M728.9 796.76h-2 M536.6 795.44h2 M728.9 795.44h-2 M536.6 794.27h2 M728.9 794.27h-2 M536.6 793.23h4 M728.9 793.23h-4 M536.6 786.35h2 M728.9 786.35h-2 M536.6 782.33h2 M728.9 782.33h-2 M536.6 779.48h2 M728.9 779.48h-2 M536.6 777.26h2 M728.9 777.26h-2 M536.6 775.45h2 M728.9 775.45h-2 M536.6 773.92h2 M728.9 773.92h-2 M536.6 772.6h2 M728.9 772.6h-2 M536.6 771.43h2 M728.9 771.43h-2 M536.6 770.39h4 M728.9 770.39h-4 M536.6 763.51h2 M728.9 763.51h-2 M536.6 759.49h2 M728.9 759.49h-2 M536.6 756.64h2 M728.9 756.64h-2 M536.6 754.42h2 M728.9 754.42h-2" stroke="#222" stroke-width="1" fill="none"/>
<text x="529.4" y="908.4" font-size="9.2" fill="#111" stroke="#111" stroke-width="0.25" textLength="9" lengthAdjust="spacingAndGlyphs">10</text>
<text x="539" y="903.4" font-size="5.4" fill="#111" stroke="#111" stroke-width="0.15">-3</text>
<text x="558.1" y="908.4" font-size="9.2" fill="#111" stroke="#111" stroke-width="0.25" textLength="9" lengthAdjust="spacingAndGlyphs">10</text>
<text x="567.7" y="903.4" font-size="5.4" fill="#111" stroke="#111" stroke-width="0.15">-2</text>
<text x="586.8" y="908.4" font-size="9.2" fill="#111" stroke="#111" stroke-width="0.25" textLength="9" lengthAdjust="spacingAndGlyphs">10</text>
<text x="596.4" y="903.4" font-size="5.4" fill="#111" stroke="#111" stroke-width="0.15">-1</text>
<text x="616.4" y="908.4" font-size="9.2" fill="#111" stroke="#111" stroke-width="0.25" textLength="9" lengthAdjust="spacingAndGlyphs">10</text>
<text x="626" y="903.4" font-size="5.4" fill="#111" stroke="#111" stroke-width="0.15">0</text>
<text x="645.1" y="908.4" font-size="9.2" fill="#111" stroke="#111" stroke-width="0.25" textLength="9" lengthAdjust="spacingAndGlyphs">10</text>
<text x="654.7" y="903.4" font-size="5.4" fill="#111" stroke="#111" stroke-width="0.15">1</text>
<text x="673.81" y="908.4" font-size="9.2" fill="#111" stroke="#111" stroke-width="0.25" textLength="9" lengthAdjust="spacingAndGlyphs">10</text>
<text x="683.41" y="903.4" font-size="5.4" fill="#111" stroke="#111" stroke-width="0.15">2</text>
<text x="702.51" y="908.4" font-size="9.2" fill="#111" stroke="#111" stroke-width="0.25" textLength="9" lengthAdjust="spacingAndGlyphs">10</text>
<text x="712.11" y="903.4" font-size="5.4" fill="#111" stroke="#111" stroke-width="0.15">3</text>
<text x="515.89" y="887.98" font-size="9.2" fill="#111" stroke="#111" stroke-width="0.25" textLength="9" lengthAdjust="spacingAndGlyphs">10</text>
<text x="525.49" y="882.98" font-size="5.4" fill="#111" stroke="#111" stroke-width="0.15">-12</text>
<text x="516.3" y="865.14" font-size="9.2" fill="#111" stroke="#111" stroke-width="0.25" textLength="9" lengthAdjust="spacingAndGlyphs">10</text>
<text x="525.9" y="860.14" font-size="5.4" fill="#111" stroke="#111" stroke-width="0.15">-11</text>
<text x="515.89" y="842.3" font-size="9.2" fill="#111" stroke="#111" stroke-width="0.25" textLength="9" lengthAdjust="spacingAndGlyphs">10</text>
<text x="525.49" y="837.3" font-size="5.4" fill="#111" stroke="#111" stroke-width="0.15">-10</text>
<text x="518.9" y="819.46" font-size="9.2" fill="#111" stroke="#111" stroke-width="0.25" textLength="9" lengthAdjust="spacingAndGlyphs">10</text>
<text x="528.5" y="814.46" font-size="5.4" fill="#111" stroke="#111" stroke-width="0.15">-9</text>
<text x="518.9" y="796.63" font-size="9.2" fill="#111" stroke="#111" stroke-width="0.25" textLength="9" lengthAdjust="spacingAndGlyphs">10</text>
<text x="528.5" y="791.63" font-size="5.4" fill="#111" stroke="#111" stroke-width="0.15">-8</text>
<text x="518.9" y="773.79" font-size="9.2" fill="#111" stroke="#111" stroke-width="0.25" textLength="9" lengthAdjust="spacingAndGlyphs">10</text>
<text x="528.5" y="768.79" font-size="5.4" fill="#111" stroke="#111" stroke-width="0.15">-7</text>
<text x="576.3" y="923.6" font-size="11.6" fill="#111" stroke="#111" stroke-width="0.25" textLength="112" lengthAdjust="spacingAndGlyphs">Time Since Trigger (s)</text>
<g transform="translate(511.3 828.15) rotate(-90) scale(0.97 1)">
<text x="0" y="0" font-size="11.6" text-anchor="middle" fill="#111" stroke="#111" stroke-width="0.25">Flux (erg cm<tspan font-size="6.8" dy="-5.2">-2</tspan><tspan dy="5.2"> s</tspan><tspan font-size="6.8" dy="-5.2">-1</tspan><tspan dy="5.2">)</tspan></text>
</g>
<text x="670" y="775" font-size="12.2" fill="#111" stroke="#111" stroke-width="0.25" textLength="37.3" lengthAdjust="spacingAndGlyphs">090515</text>
<path d="M537 791.1H554.4 M537 789.6v3 M554.4 789.6v3 M546.3 787.7V797.2 M544.8 787.7h3 M544.8 797.2h3" stroke="#7f7fff" stroke-width="0.8" fill="none"/>
<path d="M553 780.6H563 M553 779.1v3 M563 779.1v3" stroke="#7f7fff" stroke-width="0.8" fill="none"/>
<path d="M585.3 789V801.3 M583.8 789h3 M583.8 801.3h3" stroke="#7f7fff" stroke-width="0.8" fill="none"/>
<path d="M575.8 785V794.5 M574.3 785h3 M574.3 794.5h3" stroke="#7f7fff" stroke-width="0.8" fill="none"/>
<path d="M573 785V795 M571.5 785h3 M571.5 795h3" stroke="#7f7fff" stroke-width="0.8" fill="none"/>
<path d="M576 783.8H582 M576 782.3v3 M582 782.3v3" stroke="#7f7fff" stroke-width="0.8" fill="none"/>
<path d="M546.3 788.01L543.5 793.16L549.1 793.16Z" fill="#0000f0"/>
<path d="M559 777.51L556.2 782.66L561.8 782.66Z" fill="#0000f0"/>
<path d="M565.3 769.31L562.5 774.46L568.1 774.46Z" fill="#0000f0"/>
<path d="M569.4 771.61L566.6 776.76L572.2 776.76Z" fill="#0000f0"/>
<path d="M572.6 770.31L569.8 775.46L575.4 775.46Z" fill="#0000f0"/>
<path d="M578.9 780.71L576.1 785.86L581.7 785.86Z" fill="#0000f0"/>
<path d="M575.8 784.61L573 789.76L578.6 789.76Z" fill="#0000f0"/>
<path d="M574.4 785.21L571.6 790.36L577.2 790.36Z" fill="#0000f0"/>
<path d="M583 783.91L580.2 789.06L585.8 789.06Z" fill="#0000f0"/>
<path d="M585.3 789.71L582.5 794.86L588.1 794.86Z" fill="#0000f0"/>
<circle cx="676.7" cy="813.5" r="2.4" fill="#000"/>
<circle cx="679.2" cy="817.1" r="2.4" fill="#000"/>
<circle cx="682.9" cy="814.1" r="2.4" fill="#000"/>
<circle cx="685.3" cy="814.7" r="2.4" fill="#000"/>
<circle cx="688.4" cy="819" r="2.4" fill="#000"/>
<circle cx="687.1" cy="822.7" r="2.4" fill="#000"/>
<circle cx="675.5" cy="815.9" r="2.4" fill="#000"/>
<circle cx="684.1" cy="819.6" r="2.4" fill="#000"/>
<circle cx="678" cy="815" r="2.4" fill="#000"/>
<circle cx="681" cy="816" r="2.4" fill="#000"/>
<circle cx="686" cy="817" r="2.4" fill="#000"/>
<circle cx="689" cy="820.5" r="2.4" fill="#000"/>
<polyline points="657.1,814.4 685.9,816.5 687,818 687.8,823.9 694.5,888.8" fill="none" stroke="#ff2020" stroke-width="1.2" stroke-linejoin="round"/>
<path d="M693.3 876.9H720.6 M693.3 875.4v3 M720.6 875.4v3" stroke="#a0a0a0" stroke-width="0.8" fill="none"/>
<circle cx="693.3" cy="876.9" r="2.4" fill="#000"/>
<circle cx="557.8" cy="868.5" r="2.2" fill="#000"/>
<path d="M557.8 876.22L555.5 880.36L560.1 880.36Z" fill="#0000f0"/>
<text x="569.5" y="871.4" font-size="8.4" fill="#000" stroke="#000" stroke-width="0.25">XRT</text>
<text x="569.5" y="881.6" font-size="8.4" fill="#0000f0" stroke="#0000f0" stroke-width="0.25">BAT</text>
</svg></body></html>
